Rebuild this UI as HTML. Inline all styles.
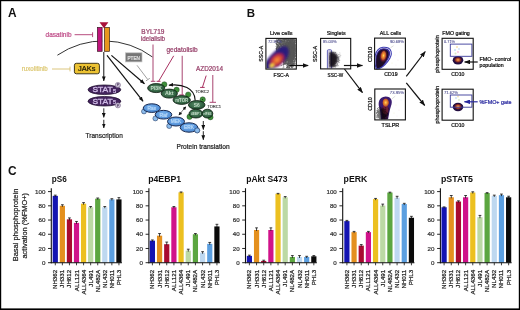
<!DOCTYPE html>
<html><head><meta charset="utf-8"><style>
html,body{margin:0;padding:0;background:#fff;}
body{width:520px;height:310px;overflow:hidden;font-family:"Liberation Sans",sans-serif;}
svg{display:block;will-change:transform;}
</style></head><body>
<svg width="520" height="310" viewBox="0 0 520 310"><defs><marker id="ah" viewBox="0 0 10 10" refX="9" refY="5" markerWidth="4" markerHeight="4" orient="auto-start-reverse"><path d="M0,0 L10,5 L0,10 Z" fill="#111"/></marker><marker id="ahs" viewBox="0 0 10 10" refX="9" refY="5" markerWidth="3.4" markerHeight="3.4" orient="auto-start-reverse"><path d="M0,0 L10,5 L0,10 Z" fill="#111"/></marker><marker id="af" markerUnits="userSpaceOnUse" viewBox="0 0 6 4.6" refX="5.6" refY="2.3" markerWidth="6" markerHeight="4.6" orient="auto-start-reverse"><path d="M0,0 L6,2.3 L0,4.6 Z" fill="#111"/></marker><marker id="afb" markerUnits="userSpaceOnUse" viewBox="0 0 6 4.6" refX="5.6" refY="2.3" markerWidth="6" markerHeight="4.6" orient="auto-start-reverse"><path d="M0,0 L6,2.3 L0,4.6 Z" fill="#2a2aa0"/></marker><marker id="aa" markerUnits="userSpaceOnUse" viewBox="0 0 4.8 3.8" refX="4.5" refY="1.9" markerWidth="4.8" markerHeight="3.8" orient="auto-start-reverse"><path d="M0,0 L4.8,1.9 L0,3.8 Z" fill="#111"/></marker><marker id="ahb" viewBox="0 0 10 10" refX="9" refY="5" markerWidth="4" markerHeight="4" orient="auto-start-reverse"><path d="M0,0 L10,5 L0,10 Z" fill="#2a2aa0"/></marker><radialGradient id="heat"><stop offset="0" stop-color="#ffd860"/><stop offset="0.3" stop-color="#f08a28"/><stop offset="0.6" stop-color="#b02848"/><stop offset="0.85" stop-color="#4a1a6a"/><stop offset="1" stop-color="#3a1a7a" stop-opacity="0"/></radialGradient><radialGradient id="heatL"><stop offset="0" stop-color="#f8a040"/><stop offset="0.35" stop-color="#e86030"/><stop offset="0.7" stop-color="#b02848"/><stop offset="0.92" stop-color="#5a1a6a"/><stop offset="1" stop-color="#3a1a7a" stop-opacity="0"/></radialGradient><radialGradient id="haloR"><stop offset="0" stop-color="#c05a28"/><stop offset="0.6" stop-color="#7a2430"/><stop offset="1" stop-color="#2a0a2a" stop-opacity="0"/></radialGradient><radialGradient id="heatC"><stop offset="0" stop-color="#ffd860"/><stop offset="0.35" stop-color="#f29434"/><stop offset="0.75" stop-color="#c45a2a"/><stop offset="1" stop-color="#9a3a2a" stop-opacity="0"/></radialGradient><radialGradient id="heat2"><stop offset="0" stop-color="#f8b060"/><stop offset="0.3" stop-color="#d06a30"/><stop offset="0.65" stop-color="#7a2428"/><stop offset="1" stop-color="#3a0e30" stop-opacity="0"/></radialGradient><radialGradient id="purp"><stop offset="0" stop-color="#4a1a90"/><stop offset="0.7" stop-color="#3a2aa0" stop-opacity="0.85"/><stop offset="1" stop-color="#3a2aa0" stop-opacity="0"/></radialGradient><radialGradient id="bgrad" cx="0.45" cy="0.4"><stop offset="0" stop-color="#7cb4ec"/><stop offset="1" stop-color="#5290d8"/></radialGradient><radialGradient id="ggrad" cx="0.45" cy="0.45"><stop offset="0" stop-color="#5a8c6a"/><stop offset="1" stop-color="#2a5a3a"/></radialGradient><filter id="bl" x="-50%" y="-50%" width="200%" height="200%"><feGaussianBlur stdDeviation="0.6"/></filter><filter id="bl2" x="-50%" y="-50%" width="200%" height="200%"><feGaussianBlur stdDeviation="0.9"/></filter></defs>
<rect x="0" y="0" width="520" height="1.2" fill="#000"/><rect x="0" y="0" width="1.2" height="310" fill="#000"/><rect x="518.8" y="0" width="1.2" height="310" fill="#000"/><rect x="0" y="308.4" width="520" height="1.6" fill="#000"/>
<text x="8.0" y="16.7" font-size="12.2" font-weight="bold" fill="#111" text-anchor="start" textLength="8.6" lengthAdjust="spacingAndGlyphs" font-family="Liberation Sans, sans-serif">A</text>
<text x="246.8" y="16.9" font-size="11.8" font-weight="bold" fill="#111" text-anchor="start" textLength="8.3" lengthAdjust="spacingAndGlyphs" font-family="Liberation Sans, sans-serif">B</text>
<text x="8.1" y="175.4" font-size="12.8" font-weight="bold" fill="#111" text-anchor="start" textLength="8.6" lengthAdjust="spacingAndGlyphs" font-family="Liberation Sans, sans-serif">C</text>
<path d="M57.4,55.2 A82,82 0 0 1 152.5,57" fill="none" stroke="#333" stroke-width="1"/>
<rect x="102.2" y="27.5" width="2.2" height="23.8" fill="#fff"/>
<rect x="97.5" y="27.5" width="4.6" height="23.8" fill="#c0147c" stroke="#3a1020" stroke-width="0.7"/>
<rect x="104.5" y="27.5" width="5" height="23.8" fill="#e8961e" stroke="#3a2010" stroke-width="0.7"/>
<path d="M99.5,22.2 L108.4,22.2 L104,28.2 Z" fill="#a8123a"/>
<text x="45.6" y="37" font-size="6.4" fill="#c0508a" stroke="#c0508a" stroke-width="0.22" text-anchor="start" textLength="25.9" lengthAdjust="spacingAndGlyphs" font-family="Liberation Sans, sans-serif">dasatinib</text>
<line x1="74.6" y1="34.7" x2="92.6" y2="34.7" stroke="#b03a72" stroke-width="0.9"/>
<line x1="92.6" y1="32.3" x2="92.6" y2="37.1" stroke="#b03a72" stroke-width="0.9"/>
<text x="21.8" y="71" font-size="6.4" fill="#ddc874" stroke="#ddc874" stroke-width="0.22" text-anchor="start" textLength="26" lengthAdjust="spacingAndGlyphs" font-family="Liberation Sans, sans-serif">ruxolitinib</text>
<line x1="52" y1="69" x2="70" y2="69" stroke="#d8c070" stroke-width="0.9"/>
<line x1="70" y1="66.6" x2="70" y2="71.4" stroke="#d8c070" stroke-width="0.9"/>
<rect x="74.4" y="63.3" width="25" height="10.5" rx="2" fill="#ecc232" stroke="#2a2410" stroke-width="0.9"/>
<text x="78.1" y="71.2" font-size="7.4" fill="#1a1400" stroke="#1a1400" stroke-width="0.22" text-anchor="start" textLength="17.3" lengthAdjust="spacingAndGlyphs" font-family="Liberation Sans, sans-serif">JAKs</text>
<line x1="103.8" y1="52" x2="103.8" y2="80.9" stroke="#111" stroke-width="1" marker-end="url(#aa)"/>
<line x1="111.4" y1="55.4" x2="144.5" y2="83.7" stroke="#111" stroke-width="1.2" marker-end="url(#aa)"/>
<line x1="107" y1="55.4" x2="143.1" y2="101.3" stroke="#111" stroke-width="1.2" marker-end="url(#aa)"/>
<ellipse cx="104.4" cy="89.75" rx="16.4" ry="4.8" fill="#44245e" stroke="#1a0a28" stroke-width="0.7"/>
<text x="92.4" y="92.45" font-size="7.4" fill="#d0bce6" stroke="#d0bce6" stroke-width="0.35" text-anchor="start" textLength="20.3" lengthAdjust="spacingAndGlyphs" font-family="Liberation Sans, sans-serif">STAT</text>
<text x="113" y="92.95" font-size="5.4" fill="#d0bce6" stroke="#d0bce6" stroke-width="0.25" text-anchor="start" textLength="3.2" lengthAdjust="spacingAndGlyphs" font-family="Liberation Sans, sans-serif">5</text>
<circle cx="117.9" cy="85" r="2.6" fill="#c8bcd4" stroke="#6a5a7a" stroke-width="0.5"/>
<text x="117.9" y="86.4" font-size="3.8" fill="#4a3a5a" stroke="#4a3a5a" stroke-width="0.08" text-anchor="middle" font-family="Liberation Sans, sans-serif">P</text>
<ellipse cx="104.4" cy="101.25" rx="16.4" ry="4.8" fill="#44245e" stroke="#1a0a28" stroke-width="0.7"/>
<text x="92.4" y="103.95" font-size="7.4" fill="#d0bce6" stroke="#d0bce6" stroke-width="0.35" text-anchor="start" textLength="20.3" lengthAdjust="spacingAndGlyphs" font-family="Liberation Sans, sans-serif">STAT</text>
<text x="113" y="104.45" font-size="5.4" fill="#d0bce6" stroke="#d0bce6" stroke-width="0.25" text-anchor="start" textLength="3.2" lengthAdjust="spacingAndGlyphs" font-family="Liberation Sans, sans-serif">5</text>
<circle cx="117.9" cy="105.3" r="2.6" fill="#c8bcd4" stroke="#6a5a7a" stroke-width="0.5"/>
<text x="117.9" y="106.7" font-size="3.8" fill="#4a3a5a" stroke="#4a3a5a" stroke-width="0.08" text-anchor="middle" font-family="Liberation Sans, sans-serif">P</text>
<line x1="103.8" y1="108.3" x2="103.8" y2="117.4" stroke="#111" stroke-width="0.9" marker-end="url(#aa)"/>
<line x1="103.8" y1="119.8" x2="103.8" y2="128" stroke="#111" stroke-width="0.9" marker-end="url(#aa)"/>
<text x="85.6" y="137.6" font-size="7.2" fill="#222" stroke="#222" stroke-width="0.22" text-anchor="start" textLength="37.2" lengthAdjust="spacingAndGlyphs" font-family="Liberation Sans, sans-serif">Transcription</text>
<rect x="125.4" y="52.8" width="16.6" height="9.1" fill="#767676" stroke="#c4c4c4" stroke-width="0.7"/>
<text x="127.5" y="59.7" font-size="5.6" fill="#e8e8e8" stroke="#e8e8e8" stroke-width="0.22" text-anchor="start" textLength="12.4" lengthAdjust="spacingAndGlyphs" font-family="Liberation Sans, sans-serif">PTEN</text>
<line x1="137" y1="65.3" x2="147.8" y2="79.6" stroke="#a0a0a0" stroke-width="1"/>
<line x1="145.9" y1="80.9" x2="149.8" y2="78.3" stroke="#a0a0a0" stroke-width="1"/>
<text x="141.3" y="33.9" font-size="6.6" fill="#963e68" stroke="#963e68" stroke-width="0.22" text-anchor="start" textLength="23.2" lengthAdjust="spacingAndGlyphs" font-family="Liberation Sans, sans-serif">BYL719</text>
<text x="140.9" y="41" font-size="6.6" fill="#963e68" stroke="#963e68" stroke-width="0.22" text-anchor="start" textLength="24.2" lengthAdjust="spacingAndGlyphs" font-family="Liberation Sans, sans-serif">idelalisib</text>
<line x1="153" y1="44.5" x2="153" y2="81.3" stroke="#a84470" stroke-width="1"/>
<line x1="150.8" y1="81.3" x2="155.4" y2="81.3" stroke="#a84470" stroke-width="1"/>
<text x="166.5" y="51.8" font-size="6.6" fill="#963e68" stroke="#963e68" stroke-width="0.22" text-anchor="start" textLength="31.1" lengthAdjust="spacingAndGlyphs" font-family="Liberation Sans, sans-serif">gedatolisib</text>
<line x1="173.7" y1="55.8" x2="158.6" y2="81.3" stroke="#a83060" stroke-width="1"/>
<line x1="156.6" y1="81.3" x2="160.5" y2="81.3" stroke="#a83060" stroke-width="1"/>
<line x1="182.2" y1="55.8" x2="182.2" y2="94.9" stroke="#a84470" stroke-width="1"/>
<line x1="179.3" y1="94.9" x2="183.9" y2="94.9" stroke="#a84470" stroke-width="1"/>
<text x="196" y="71" font-size="6.6" fill="#963e68" stroke="#963e68" stroke-width="0.22" text-anchor="start" textLength="27" lengthAdjust="spacingAndGlyphs" font-family="Liberation Sans, sans-serif">AZD2014</text>
<line x1="206.2" y1="75.6" x2="202.4" y2="87.4" stroke="#a83060" stroke-width="1"/>
<line x1="200.1" y1="87.4" x2="204.7" y2="87.4" stroke="#a83060" stroke-width="1"/>
<line x1="212.8" y1="75" x2="212.8" y2="102.3" stroke="#a84470" stroke-width="1"/>
<line x1="209.6" y1="102.3" x2="216" y2="102.3" stroke="#a84470" stroke-width="1"/>
<text x="194.9" y="92.8" font-size="3.8" fill="#222" stroke="#222" stroke-width="0.08" text-anchor="start" textLength="14.2" lengthAdjust="spacingAndGlyphs" font-family="Liberation Sans, sans-serif">TORC2</text>
<text x="207.2" y="107.7" font-size="3.8" fill="#222" stroke="#222" stroke-width="0.08" text-anchor="start" textLength="14" lengthAdjust="spacingAndGlyphs" font-family="Liberation Sans, sans-serif">TORC1</text>
<path d="M195.2,100.5 C195,88 182,83.5 168.8,85.3" fill="none" stroke="#111" stroke-width="1.1" marker-end="url(#aa)"/>
<circle cx="164.3" cy="84.4" r="2.7" fill="#3e8e3a" stroke="#1e3a20" stroke-width="0.4"/>
<ellipse cx="156.2" cy="88.1" rx="8.6" ry="4.5" fill="url(#ggrad)" stroke="#0a1a0e" stroke-width="0.8"/>
<text x="156.2" y="89.972" font-size="5.2" font-weight="bold" fill="#c4dcc8" text-anchor="middle" textLength="11.4" lengthAdjust="spacingAndGlyphs" font-family="Liberation Sans, sans-serif">PI3K</text>
<circle cx="176.6" cy="89.8" r="2.7" fill="#3e8e3a" stroke="#1e3a20" stroke-width="0.4"/>
<ellipse cx="169.3" cy="93.6" rx="8.1" ry="4.5" fill="url(#ggrad)" stroke="#0a1a0e" stroke-width="0.8"/>
<text x="169.3" y="95.472" font-size="5.2" font-weight="bold" fill="#c4dcc8" text-anchor="middle" textLength="8.5" lengthAdjust="spacingAndGlyphs" font-family="Liberation Sans, sans-serif">Akt</text>
<circle cx="188.2" cy="94.6" r="2.7" fill="#3e8e3a" stroke="#1e3a20" stroke-width="0.4"/>
<ellipse cx="181.7" cy="100" rx="8.7" ry="4.3999999999999995" fill="url(#ggrad)" stroke="#0a1a0e" stroke-width="0.8"/>
<text x="181.7" y="101.872" font-size="5.2" font-weight="bold" fill="#c4dcc8" text-anchor="middle" textLength="13" lengthAdjust="spacingAndGlyphs" font-family="Liberation Sans, sans-serif">mTOR</text>
<circle cx="189.6" cy="116.8" r="2.7" fill="#3e8e3a" stroke="#1e3a20" stroke-width="0.4"/>
<circle cx="210.4" cy="117.2" r="2.7" fill="#3e8e3a" stroke="#1e3a20" stroke-width="0.4"/>
<circle cx="202.7" cy="99.5" r="2.7" fill="#3e8e3a" stroke="#1e3a20" stroke-width="0.4"/>
<ellipse cx="202.5" cy="99.6" rx="0.01" ry="0.31" fill="url(#ggrad)" stroke="#0a1a0e" stroke-width="0.8"/>
<text x="202.5" y="99.96" font-size="1" font-weight="bold" fill="#c4dcc8" text-anchor="middle" font-family="Liberation Sans, sans-serif"></text>
<ellipse cx="196.7" cy="104.9" rx="8.3" ry="4.3" fill="url(#ggrad)" stroke="#0a1a0e" stroke-width="0.8"/>
<text x="196.7" y="106.772" font-size="5.2" font-weight="bold" fill="#c4dcc8" text-anchor="middle" textLength="6" lengthAdjust="spacingAndGlyphs" font-family="Liberation Sans, sans-serif">S6</text>
<ellipse cx="195.9" cy="113.6" rx="6.9" ry="4.3999999999999995" fill="url(#ggrad)" stroke="#0a1a0e" stroke-width="0.8"/>
<text x="195.9" y="114.716" font-size="3.1" font-weight="bold" fill="#c4dcc8" text-anchor="middle" textLength="10" lengthAdjust="spacingAndGlyphs" font-family="Liberation Sans, sans-serif">4EBP1</text>
<ellipse cx="207.4" cy="113.6" rx="5.4" ry="4.3999999999999995" fill="url(#ggrad)" stroke="#0a1a0e" stroke-width="0.8"/>
<text x="207.4" y="114.716" font-size="3.1" font-weight="bold" fill="#c4dcc8" text-anchor="middle" textLength="8.2" lengthAdjust="spacingAndGlyphs" font-family="Liberation Sans, sans-serif">eIF4E</text>
<circle cx="144" cy="111.4" r="2.5" fill="#8cbcec" stroke="#18284e" stroke-width="0.5"/>
<ellipse cx="151.8" cy="108.1" rx="8.6" ry="4.3" fill="url(#bgrad)" stroke="#18284e" stroke-width="1"/>
<text x="151.8" y="110.0" font-size="5.2" fill="#b8d8f8" stroke="#b8d8f8" stroke-width="0.22" text-anchor="middle" textLength="8.5" lengthAdjust="spacingAndGlyphs" font-family="Liberation Sans, sans-serif">Ras</text>
<circle cx="155.4" cy="118.4" r="2.5" fill="#8cbcec" stroke="#18284e" stroke-width="0.5"/>
<ellipse cx="163.5" cy="114.7" rx="8.3" ry="4.35" fill="url(#bgrad)" stroke="#18284e" stroke-width="1"/>
<text x="163.5" y="116.60000000000001" font-size="5.2" fill="#b8d8f8" stroke="#b8d8f8" stroke-width="0.22" text-anchor="middle" textLength="8" lengthAdjust="spacingAndGlyphs" font-family="Liberation Sans, sans-serif">Raf</text>
<circle cx="169.2" cy="126" r="2.5" fill="#8cbcec" stroke="#18284e" stroke-width="0.5"/>
<ellipse cx="176" cy="121.5" rx="8.5" ry="4.5" fill="url(#bgrad)" stroke="#18284e" stroke-width="1"/>
<text x="176" y="123.4" font-size="5.2" fill="#b8d8f8" stroke="#b8d8f8" stroke-width="0.22" text-anchor="middle" textLength="10.5" lengthAdjust="spacingAndGlyphs" font-family="Liberation Sans, sans-serif">MEK</text>
<circle cx="197.2" cy="130.4" r="2.5" fill="#8cbcec" stroke="#18284e" stroke-width="0.5"/>
<ellipse cx="189" cy="127.5" rx="8.8" ry="4.7" fill="url(#bgrad)" stroke="#18284e" stroke-width="1"/>
<text x="189" y="129.4" font-size="5.2" fill="#b8d8f8" stroke="#b8d8f8" stroke-width="0.22" text-anchor="middle" textLength="10" lengthAdjust="spacingAndGlyphs" font-family="Liberation Sans, sans-serif">ERK</text>
<circle cx="197.2" cy="130.4" r="2.5" fill="#8cbcec" stroke="#18284e" stroke-width="0.5"/>
<line x1="178.9" y1="115.1" x2="185.8" y2="106.7" stroke="#111" stroke-width="1" stroke-dasharray="1.4,0.9" marker-start="url(#ahs)" marker-end="url(#ahs)"/>
<line x1="203.3" y1="121" x2="203.3" y2="129.6" stroke="#111" stroke-width="0.9" marker-end="url(#aa)"/>
<line x1="203.3" y1="131.2" x2="203.3" y2="139.8" stroke="#111" stroke-width="0.9" marker-end="url(#aa)"/>
<text x="176.5" y="148.6" font-size="6.9" fill="#222" stroke="#222" stroke-width="0.22" text-anchor="start" textLength="53.1" lengthAdjust="spacingAndGlyphs" font-family="Liberation Sans, sans-serif">Protein translation</text>
<clipPath id="c1"><rect x="266.4" y="38.9" width="29.400000000000034" height="29.699999999999996"/></clipPath>
<text x="270" y="35.1" font-size="5.3" fill="#111" stroke="#111" stroke-width="0.22" text-anchor="start" textLength="22.6" lengthAdjust="spacingAndGlyphs" font-family="Liberation Sans, sans-serif">Live cells</text>
<text transform="translate(262.8,53.8) rotate(-90)" font-size="5.1" fill="#111" stroke="#111" stroke-width="0.22" text-anchor="middle" textLength="15.8" lengthAdjust="spacingAndGlyphs" font-family="Liberation Sans, sans-serif">SSC-A</text>
<text x="273.5" y="76.6" font-size="5.2" fill="#111" stroke="#111" stroke-width="0.22" text-anchor="start" textLength="15.4" lengthAdjust="spacingAndGlyphs" font-family="Liberation Sans, sans-serif">FSC-A</text>
<g clip-path="url(#c1)">
<g fill="#111" opacity="0.7"><circle cx="285.6" cy="50.8" r="0.55"/><circle cx="288.4" cy="50.8" r="0.55"/><circle cx="291.2" cy="48.2" r="0.55"/><circle cx="294.2" cy="52.3" r="0.55"/><circle cx="285.5" cy="47.3" r="0.55"/><circle cx="283.9" cy="42.7" r="0.55"/><circle cx="289.2" cy="42.8" r="0.55"/><circle cx="289.8" cy="43.8" r="0.55"/><circle cx="287.8" cy="39.4" r="0.55"/><circle cx="293.2" cy="49.4" r="0.55"/><circle cx="284.9" cy="51.2" r="0.55"/><circle cx="277.9" cy="40.8" r="0.55"/><circle cx="293.9" cy="51.0" r="0.55"/><circle cx="287.9" cy="59.8" r="0.55"/><circle cx="286.2" cy="59.4" r="0.55"/><circle cx="294.7" cy="46.9" r="0.55"/><circle cx="293.1" cy="51.9" r="0.55"/><circle cx="293.8" cy="63.5" r="0.55"/><circle cx="294.1" cy="46.4" r="0.55"/><circle cx="291.4" cy="64.4" r="0.55"/><circle cx="289.2" cy="54.8" r="0.55"/><circle cx="284.2" cy="41.0" r="0.55"/><circle cx="290.5" cy="39.4" r="0.55"/><circle cx="288.5" cy="51.2" r="0.55"/><circle cx="285.3" cy="64.2" r="0.55"/><circle cx="286.1" cy="52.0" r="0.55"/><circle cx="294.5" cy="56.6" r="0.55"/><circle cx="290.9" cy="58.8" r="0.55"/><circle cx="290.2" cy="54.1" r="0.55"/><circle cx="282.3" cy="51.5" r="0.55"/><circle cx="283.6" cy="45.0" r="0.55"/><circle cx="286.0" cy="45.6" r="0.55"/><circle cx="282.2" cy="41.9" r="0.55"/><circle cx="283.4" cy="56.8" r="0.55"/><circle cx="288.9" cy="52.2" r="0.55"/><circle cx="288.8" cy="51.9" r="0.55"/><circle cx="288.5" cy="50.8" r="0.55"/><circle cx="283.3" cy="54.6" r="0.55"/><circle cx="287.7" cy="42.2" r="0.55"/><circle cx="295.4" cy="56.1" r="0.55"/><circle cx="281.0" cy="44.9" r="0.55"/><circle cx="287.8" cy="58.1" r="0.55"/><circle cx="285.7" cy="58.9" r="0.55"/><circle cx="284.3" cy="60.3" r="0.55"/><circle cx="283.3" cy="48.0" r="0.55"/><circle cx="290.8" cy="64.1" r="0.55"/><circle cx="291.2" cy="58.9" r="0.55"/><circle cx="292.5" cy="55.9" r="0.55"/><circle cx="291.8" cy="46.5" r="0.55"/><circle cx="279.4" cy="43.4" r="0.55"/><circle cx="292.9" cy="47.8" r="0.55"/><circle cx="293.2" cy="58.0" r="0.55"/><circle cx="292.3" cy="40.9" r="0.55"/><circle cx="288.1" cy="64.1" r="0.55"/><circle cx="290.8" cy="46.9" r="0.55"/><circle cx="287.6" cy="63.7" r="0.55"/><circle cx="287.0" cy="58.1" r="0.55"/><circle cx="281.5" cy="60.4" r="0.55"/><circle cx="294.5" cy="41.9" r="0.55"/><circle cx="292.7" cy="44.3" r="0.55"/><circle cx="288.6" cy="58.3" r="0.55"/><circle cx="294.6" cy="56.1" r="0.55"/><circle cx="290.0" cy="50.7" r="0.55"/><circle cx="289.9" cy="51.0" r="0.55"/><circle cx="294.0" cy="46.5" r="0.55"/><circle cx="289.4" cy="48.5" r="0.55"/><circle cx="286.8" cy="45.7" r="0.55"/><circle cx="294.9" cy="49.2" r="0.55"/><circle cx="289.4" cy="65.4" r="0.55"/><circle cx="290.3" cy="46.6" r="0.55"/><circle cx="281.9" cy="49.9" r="0.55"/><circle cx="290.4" cy="50.9" r="0.55"/><circle cx="288.9" cy="60.4" r="0.55"/><circle cx="282.3" cy="54.4" r="0.55"/><circle cx="291.6" cy="53.6" r="0.55"/><circle cx="277.7" cy="45.5" r="0.55"/><circle cx="288.0" cy="58.1" r="0.55"/><circle cx="286.1" cy="49.3" r="0.55"/><circle cx="288.5" cy="55.4" r="0.55"/><circle cx="288.6" cy="46.3" r="0.55"/><circle cx="291.3" cy="58.2" r="0.55"/><circle cx="290.3" cy="46.3" r="0.55"/><circle cx="288.5" cy="44.6" r="0.55"/><circle cx="283.0" cy="52.7" r="0.55"/><circle cx="287.9" cy="45.7" r="0.55"/><circle cx="283.2" cy="50.3" r="0.55"/><circle cx="285.6" cy="55.6" r="0.55"/><circle cx="294.7" cy="43.9" r="0.55"/><circle cx="291.8" cy="42.4" r="0.55"/><circle cx="295.0" cy="60.8" r="0.55"/><circle cx="295.2" cy="45.0" r="0.55"/><circle cx="288.9" cy="44.2" r="0.55"/><circle cx="289.1" cy="52.2" r="0.55"/><circle cx="289.7" cy="50.6" r="0.55"/><circle cx="293.0" cy="44.4" r="0.55"/><circle cx="295.0" cy="46.5" r="0.55"/><circle cx="289.1" cy="49.5" r="0.55"/><circle cx="290.9" cy="51.6" r="0.55"/><circle cx="282.2" cy="47.7" r="0.55"/><circle cx="290.9" cy="57.0" r="0.55"/><circle cx="289.6" cy="46.0" r="0.55"/><circle cx="286.4" cy="56.2" r="0.55"/><circle cx="293.8" cy="56.3" r="0.55"/><circle cx="284.3" cy="48.7" r="0.55"/><circle cx="286.9" cy="42.3" r="0.55"/><circle cx="284.7" cy="51.7" r="0.55"/><circle cx="291.4" cy="50.3" r="0.55"/><circle cx="283.2" cy="56.1" r="0.55"/><circle cx="289.2" cy="56.8" r="0.55"/><circle cx="288.3" cy="56.8" r="0.55"/><circle cx="292.9" cy="50.9" r="0.55"/><circle cx="282.5" cy="59.1" r="0.55"/><circle cx="289.2" cy="57.0" r="0.55"/><circle cx="285.4" cy="53.3" r="0.55"/><circle cx="287.1" cy="56.9" r="0.55"/><circle cx="285.7" cy="48.2" r="0.55"/><circle cx="292.4" cy="46.2" r="0.55"/><circle cx="288.0" cy="39.9" r="0.55"/><circle cx="289.9" cy="57.2" r="0.55"/><circle cx="280.8" cy="41.5" r="0.55"/><circle cx="292.0" cy="61.9" r="0.55"/><circle cx="294.0" cy="42.3" r="0.55"/><circle cx="282.3" cy="44.5" r="0.55"/><circle cx="291.1" cy="54.0" r="0.55"/><circle cx="281.8" cy="43.6" r="0.55"/><circle cx="289.3" cy="51.8" r="0.55"/><circle cx="285.0" cy="55.4" r="0.55"/><circle cx="280.5" cy="44.2" r="0.55"/><circle cx="287.5" cy="51.6" r="0.55"/><circle cx="288.5" cy="49.8" r="0.55"/><circle cx="294.2" cy="40.3" r="0.55"/><circle cx="283.5" cy="49.0" r="0.55"/><circle cx="287.7" cy="61.9" r="0.55"/><circle cx="290.6" cy="47.7" r="0.55"/><circle cx="293.2" cy="57.5" r="0.55"/><circle cx="288.2" cy="42.9" r="0.55"/><circle cx="292.0" cy="61.0" r="0.55"/><circle cx="293.3" cy="64.8" r="0.55"/><circle cx="286.2" cy="61.5" r="0.55"/><circle cx="283.8" cy="49.3" r="0.55"/><circle cx="288.5" cy="56.2" r="0.55"/><circle cx="288.0" cy="41.9" r="0.55"/><circle cx="289.2" cy="46.4" r="0.55"/><circle cx="283.2" cy="61.3" r="0.55"/><circle cx="286.3" cy="52.4" r="0.55"/><circle cx="287.2" cy="57.1" r="0.55"/><circle cx="282.5" cy="49.6" r="0.55"/><circle cx="290.7" cy="49.9" r="0.55"/><circle cx="291.2" cy="54.4" r="0.55"/><circle cx="289.1" cy="48.4" r="0.55"/><circle cx="283.5" cy="57.9" r="0.55"/><circle cx="291.0" cy="46.7" r="0.55"/><circle cx="287.3" cy="55.0" r="0.55"/><circle cx="286.9" cy="50.7" r="0.55"/><circle cx="289.7" cy="50.9" r="0.55"/><circle cx="293.8" cy="51.3" r="0.55"/><circle cx="284.2" cy="49.7" r="0.55"/><circle cx="292.6" cy="46.7" r="0.55"/><circle cx="289.5" cy="52.1" r="0.55"/><circle cx="286.9" cy="46.1" r="0.55"/><circle cx="286.8" cy="53.5" r="0.55"/><circle cx="294.3" cy="54.3" r="0.55"/><circle cx="284.4" cy="55.4" r="0.55"/><circle cx="293.8" cy="40.8" r="0.55"/><circle cx="288.5" cy="51.0" r="0.55"/><circle cx="289.7" cy="55.1" r="0.55"/><circle cx="292.9" cy="50.0" r="0.55"/><circle cx="289.9" cy="40.7" r="0.55"/><circle cx="288.0" cy="51.1" r="0.55"/><circle cx="289.3" cy="46.5" r="0.55"/><circle cx="294.6" cy="50.2" r="0.55"/><circle cx="289.7" cy="45.0" r="0.55"/><circle cx="291.1" cy="53.2" r="0.55"/><circle cx="292.1" cy="59.0" r="0.55"/><circle cx="285.2" cy="50.9" r="0.55"/><circle cx="287.9" cy="59.3" r="0.55"/><circle cx="287.3" cy="54.9" r="0.55"/><circle cx="290.4" cy="43.8" r="0.55"/><circle cx="283.9" cy="50.9" r="0.55"/><circle cx="292.4" cy="52.6" r="0.55"/><circle cx="292.4" cy="58.2" r="0.55"/><circle cx="290.2" cy="56.3" r="0.55"/><circle cx="290.0" cy="53.8" r="0.55"/><circle cx="291.9" cy="59.1" r="0.55"/><circle cx="294.0" cy="53.5" r="0.55"/><circle cx="289.1" cy="50.5" r="0.55"/><circle cx="288.7" cy="53.4" r="0.55"/><circle cx="280.4" cy="40.2" r="0.55"/><circle cx="292.5" cy="60.3" r="0.55"/><circle cx="290.5" cy="54.0" r="0.55"/><circle cx="288.3" cy="63.8" r="0.55"/><circle cx="292.7" cy="50.3" r="0.55"/><circle cx="288.7" cy="64.4" r="0.55"/><circle cx="288.5" cy="54.9" r="0.55"/><circle cx="295.0" cy="50.8" r="0.55"/><circle cx="291.3" cy="53.0" r="0.55"/><circle cx="290.9" cy="53.0" r="0.55"/><circle cx="291.8" cy="49.9" r="0.55"/><circle cx="285.5" cy="49.4" r="0.55"/><circle cx="294.8" cy="39.4" r="0.55"/><circle cx="281.5" cy="42.7" r="0.55"/><circle cx="287.3" cy="64.7" r="0.55"/><circle cx="286.6" cy="56.2" r="0.55"/><circle cx="291.8" cy="50.8" r="0.55"/><circle cx="288.7" cy="40.2" r="0.55"/><circle cx="293.0" cy="49.6" r="0.55"/><circle cx="290.4" cy="63.7" r="0.55"/><circle cx="289.2" cy="56.4" r="0.55"/><circle cx="284.3" cy="46.2" r="0.55"/><circle cx="287.1" cy="52.8" r="0.55"/><circle cx="294.2" cy="53.5" r="0.55"/><circle cx="288.7" cy="49.9" r="0.55"/><circle cx="292.8" cy="44.7" r="0.55"/><circle cx="293.4" cy="44.8" r="0.55"/><circle cx="290.7" cy="43.3" r="0.55"/><circle cx="293.3" cy="55.4" r="0.55"/><circle cx="278.1" cy="46.4" r="0.55"/><circle cx="294.8" cy="57.1" r="0.55"/><circle cx="291.8" cy="53.6" r="0.55"/><circle cx="288.9" cy="52.0" r="0.55"/><circle cx="292.4" cy="51.6" r="0.55"/><circle cx="283.1" cy="58.0" r="0.55"/><circle cx="290.7" cy="44.7" r="0.55"/><circle cx="290.2" cy="54.9" r="0.55"/><circle cx="278.3" cy="39.3" r="0.55"/><circle cx="280.0" cy="50.6" r="0.55"/><circle cx="286.6" cy="53.5" r="0.55"/><circle cx="288.3" cy="47.3" r="0.55"/><circle cx="292.2" cy="48.2" r="0.55"/><circle cx="287.6" cy="53.6" r="0.55"/><circle cx="287.9" cy="49.6" r="0.55"/><circle cx="284.9" cy="50.7" r="0.55"/><circle cx="292.9" cy="55.3" r="0.55"/><circle cx="294.3" cy="56.1" r="0.55"/><circle cx="284.1" cy="56.9" r="0.55"/><circle cx="290.4" cy="58.4" r="0.55"/><circle cx="282.7" cy="44.6" r="0.55"/><circle cx="290.0" cy="56.3" r="0.55"/><circle cx="290.5" cy="50.4" r="0.55"/><circle cx="288.2" cy="51.1" r="0.55"/><circle cx="280.6" cy="60.2" r="0.55"/><circle cx="295.0" cy="45.3" r="0.55"/><circle cx="277.5" cy="64.8" r="0.55"/><circle cx="281.8" cy="51.1" r="0.55"/><circle cx="295.0" cy="58.4" r="0.55"/><circle cx="283.5" cy="51.4" r="0.55"/><circle cx="289.4" cy="47.3" r="0.55"/><circle cx="285.6" cy="61.4" r="0.55"/><circle cx="289.0" cy="55.5" r="0.55"/><circle cx="288.1" cy="53.9" r="0.55"/><circle cx="290.0" cy="42.4" r="0.55"/><circle cx="291.4" cy="57.3" r="0.55"/><circle cx="284.3" cy="51.2" r="0.55"/><circle cx="291.6" cy="48.2" r="0.55"/><circle cx="295.3" cy="44.8" r="0.55"/><circle cx="289.9" cy="64.3" r="0.55"/><circle cx="293.0" cy="58.4" r="0.55"/><circle cx="290.2" cy="54.3" r="0.55"/><circle cx="290.1" cy="45.3" r="0.55"/><circle cx="291.7" cy="51.7" r="0.55"/><circle cx="289.8" cy="53.5" r="0.55"/><circle cx="288.8" cy="54.3" r="0.55"/><circle cx="292.5" cy="55.6" r="0.55"/><circle cx="290.9" cy="46.1" r="0.55"/><circle cx="293.8" cy="54.4" r="0.55"/><circle cx="285.3" cy="39.7" r="0.55"/><circle cx="280.9" cy="40.8" r="0.55"/><circle cx="290.7" cy="45.0" r="0.55"/><circle cx="287.0" cy="42.6" r="0.55"/><circle cx="295.5" cy="53.5" r="0.55"/><circle cx="294.1" cy="45.1" r="0.55"/><circle cx="285.1" cy="56.5" r="0.55"/><circle cx="292.1" cy="61.5" r="0.55"/><circle cx="286.9" cy="44.3" r="0.55"/><circle cx="282.2" cy="55.8" r="0.55"/><circle cx="291.9" cy="51.5" r="0.55"/><circle cx="285.2" cy="51.6" r="0.55"/><circle cx="292.6" cy="51.1" r="0.55"/><circle cx="294.9" cy="54.1" r="0.55"/><circle cx="286.1" cy="52.9" r="0.55"/><circle cx="291.2" cy="50.9" r="0.55"/><circle cx="286.0" cy="58.2" r="0.55"/><circle cx="295.2" cy="47.4" r="0.55"/><circle cx="291.8" cy="50.5" r="0.55"/><circle cx="291.2" cy="47.5" r="0.55"/><circle cx="286.8" cy="55.8" r="0.55"/><circle cx="289.9" cy="56.8" r="0.55"/><circle cx="282.7" cy="50.7" r="0.55"/><circle cx="288.6" cy="49.6" r="0.55"/><circle cx="289.0" cy="59.9" r="0.55"/><circle cx="288.2" cy="51.9" r="0.55"/><circle cx="291.8" cy="51.5" r="0.55"/><circle cx="279.6" cy="51.9" r="0.55"/><circle cx="288.1" cy="49.6" r="0.55"/><circle cx="289.7" cy="48.5" r="0.55"/><circle cx="293.3" cy="40.6" r="0.55"/><circle cx="294.5" cy="50.5" r="0.55"/><circle cx="292.8" cy="56.5" r="0.55"/><circle cx="281.6" cy="40.7" r="0.55"/><circle cx="292.2" cy="56.8" r="0.55"/><circle cx="277.5" cy="41.5" r="0.55"/><circle cx="283.2" cy="65.1" r="0.55"/><circle cx="288.4" cy="47.1" r="0.55"/><circle cx="285.6" cy="61.4" r="0.55"/><circle cx="285.2" cy="49.5" r="0.55"/><circle cx="284.6" cy="55.4" r="0.55"/><circle cx="280.0" cy="46.7" r="0.55"/><circle cx="293.0" cy="41.3" r="0.55"/><circle cx="292.8" cy="41.2" r="0.55"/><circle cx="289.9" cy="54.6" r="0.55"/><circle cx="284.2" cy="50.3" r="0.55"/><circle cx="289.7" cy="49.7" r="0.55"/><circle cx="287.3" cy="53.8" r="0.55"/><circle cx="287.3" cy="59.4" r="0.55"/><circle cx="287.9" cy="58.1" r="0.55"/><circle cx="292.7" cy="42.7" r="0.55"/><circle cx="281.4" cy="40.6" r="0.55"/><circle cx="289.1" cy="46.6" r="0.55"/><circle cx="284.4" cy="53.6" r="0.55"/><circle cx="288.3" cy="50.8" r="0.55"/><circle cx="293.7" cy="43.3" r="0.55"/><circle cx="292.0" cy="47.4" r="0.55"/><circle cx="283.3" cy="41.8" r="0.55"/><circle cx="292.8" cy="47.9" r="0.55"/><circle cx="290.2" cy="43.7" r="0.55"/><circle cx="285.3" cy="52.3" r="0.55"/><circle cx="284.5" cy="41.7" r="0.55"/><circle cx="291.3" cy="56.1" r="0.55"/><circle cx="287.8" cy="50.1" r="0.55"/><circle cx="288.0" cy="57.3" r="0.55"/><circle cx="280.3" cy="49.0" r="0.55"/><circle cx="288.9" cy="40.3" r="0.55"/><circle cx="294.3" cy="44.7" r="0.55"/><circle cx="280.8" cy="54.6" r="0.55"/><circle cx="292.4" cy="63.8" r="0.55"/><circle cx="290.4" cy="53.3" r="0.55"/><circle cx="288.9" cy="58.9" r="0.55"/><circle cx="284.1" cy="56.3" r="0.55"/><circle cx="287.8" cy="53.6" r="0.55"/><circle cx="289.8" cy="40.1" r="0.55"/><circle cx="294.3" cy="52.9" r="0.55"/><circle cx="284.7" cy="56.7" r="0.55"/><circle cx="280.0" cy="44.1" r="0.55"/><circle cx="288.9" cy="51.3" r="0.55"/><circle cx="286.5" cy="46.5" r="0.55"/><circle cx="290.0" cy="59.8" r="0.55"/><circle cx="286.8" cy="42.7" r="0.55"/><circle cx="289.2" cy="45.9" r="0.55"/><circle cx="286.8" cy="65.8" r="0.55"/><circle cx="283.8" cy="50.7" r="0.55"/><circle cx="290.8" cy="41.6" r="0.55"/><circle cx="286.2" cy="54.8" r="0.55"/><circle cx="291.5" cy="49.2" r="0.55"/><circle cx="294.8" cy="40.6" r="0.55"/><circle cx="283.9" cy="41.8" r="0.55"/><circle cx="294.3" cy="54.3" r="0.55"/><circle cx="294.2" cy="42.6" r="0.55"/><circle cx="286.1" cy="56.3" r="0.55"/><circle cx="289.5" cy="57.6" r="0.55"/><circle cx="288.4" cy="55.2" r="0.55"/><circle cx="284.4" cy="55.5" r="0.55"/><circle cx="288.6" cy="48.2" r="0.55"/><circle cx="287.5" cy="49.9" r="0.55"/><circle cx="285.4" cy="57.5" r="0.55"/><circle cx="286.4" cy="47.4" r="0.55"/><circle cx="291.4" cy="40.0" r="0.55"/><circle cx="286.6" cy="50.1" r="0.55"/><circle cx="289.7" cy="41.9" r="0.55"/><circle cx="285.7" cy="41.3" r="0.55"/><circle cx="285.9" cy="61.5" r="0.55"/><circle cx="293.5" cy="57.5" r="0.55"/><circle cx="285.6" cy="46.0" r="0.55"/><circle cx="284.9" cy="45.4" r="0.55"/><circle cx="290.8" cy="48.6" r="0.55"/><circle cx="289.9" cy="44.3" r="0.55"/><circle cx="289.3" cy="53.4" r="0.55"/><circle cx="289.1" cy="46.5" r="0.55"/><circle cx="286.6" cy="50.5" r="0.55"/><circle cx="285.7" cy="50.0" r="0.55"/><circle cx="286.0" cy="50.6" r="0.55"/><circle cx="291.5" cy="58.3" r="0.55"/><circle cx="284.9" cy="57.1" r="0.55"/><circle cx="294.0" cy="55.0" r="0.55"/><circle cx="287.0" cy="52.4" r="0.55"/><circle cx="280.2" cy="49.1" r="0.55"/><circle cx="286.3" cy="44.2" r="0.55"/><circle cx="288.9" cy="58.1" r="0.55"/><circle cx="278.3" cy="51.3" r="0.55"/><circle cx="286.5" cy="54.5" r="0.55"/><circle cx="279.7" cy="46.4" r="0.55"/><circle cx="290.4" cy="56.9" r="0.55"/><circle cx="291.8" cy="48.5" r="0.55"/><circle cx="278.0" cy="48.1" r="0.55"/><circle cx="290.2" cy="59.6" r="0.55"/><circle cx="282.5" cy="48.9" r="0.55"/><circle cx="287.8" cy="48.0" r="0.55"/><circle cx="283.6" cy="61.9" r="0.55"/><circle cx="283.1" cy="52.2" r="0.55"/><circle cx="290.6" cy="47.8" r="0.55"/><circle cx="285.9" cy="49.2" r="0.55"/><circle cx="292.4" cy="60.6" r="0.55"/><circle cx="289.8" cy="44.8" r="0.55"/><circle cx="293.0" cy="48.5" r="0.55"/><circle cx="294.7" cy="54.7" r="0.55"/><circle cx="292.0" cy="50.4" r="0.55"/><circle cx="289.3" cy="48.8" r="0.55"/><circle cx="286.7" cy="44.8" r="0.55"/><circle cx="293.3" cy="59.4" r="0.55"/><circle cx="290.4" cy="46.2" r="0.55"/><circle cx="295.3" cy="52.2" r="0.55"/><circle cx="289.4" cy="52.1" r="0.55"/><circle cx="288.7" cy="48.7" r="0.55"/><circle cx="285.8" cy="51.8" r="0.55"/><circle cx="278.0" cy="49.4" r="0.55"/><circle cx="291.1" cy="45.9" r="0.55"/><circle cx="288.1" cy="56.6" r="0.55"/><circle cx="290.7" cy="46.8" r="0.55"/><circle cx="287.9" cy="54.0" r="0.55"/><circle cx="284.8" cy="48.9" r="0.55"/><circle cx="289.3" cy="53.9" r="0.55"/><circle cx="288.0" cy="56.1" r="0.55"/><circle cx="288.8" cy="63.5" r="0.55"/><circle cx="285.9" cy="43.5" r="0.55"/><circle cx="286.3" cy="55.0" r="0.55"/><circle cx="290.9" cy="45.1" r="0.55"/><circle cx="294.5" cy="48.7" r="0.55"/><circle cx="287.5" cy="53.8" r="0.55"/><circle cx="279.4" cy="43.8" r="0.55"/><circle cx="278.4" cy="45.5" r="0.55"/><circle cx="289.6" cy="67.3" r="0.55"/><circle cx="294.2" cy="53.0" r="0.55"/><circle cx="287.3" cy="39.8" r="0.55"/><circle cx="277.0" cy="47.8" r="0.55"/><circle cx="286.0" cy="53.4" r="0.55"/><circle cx="293.5" cy="59.2" r="0.55"/><circle cx="290.7" cy="52.1" r="0.55"/><circle cx="279.8" cy="40.1" r="0.55"/><circle cx="282.4" cy="50.4" r="0.55"/><circle cx="288.3" cy="50.5" r="0.55"/><circle cx="278.8" cy="51.2" r="0.55"/><circle cx="295.2" cy="56.6" r="0.55"/><circle cx="284.4" cy="48.2" r="0.55"/><circle cx="285.9" cy="57.1" r="0.55"/><circle cx="293.0" cy="53.5" r="0.55"/><circle cx="289.3" cy="59.8" r="0.55"/><circle cx="285.7" cy="59.9" r="0.55"/><circle cx="294.1" cy="50.5" r="0.55"/><circle cx="288.7" cy="54.4" r="0.55"/><circle cx="284.5" cy="48.0" r="0.55"/><circle cx="290.3" cy="55.2" r="0.55"/><circle cx="286.3" cy="52.5" r="0.55"/><circle cx="287.3" cy="43.4" r="0.55"/><circle cx="285.1" cy="60.4" r="0.55"/><circle cx="290.1" cy="57.1" r="0.55"/><circle cx="284.8" cy="46.7" r="0.55"/><circle cx="295.2" cy="59.2" r="0.55"/><circle cx="285.9" cy="57.8" r="0.55"/><circle cx="290.8" cy="58.7" r="0.55"/><circle cx="295.3" cy="45.1" r="0.55"/><circle cx="291.8" cy="52.0" r="0.55"/><circle cx="291.2" cy="50.5" r="0.55"/><circle cx="292.8" cy="50.7" r="0.55"/><circle cx="294.1" cy="44.7" r="0.55"/><circle cx="291.2" cy="64.4" r="0.55"/><circle cx="287.7" cy="58.9" r="0.55"/><circle cx="281.1" cy="39.2" r="0.55"/><circle cx="282.3" cy="44.0" r="0.55"/><circle cx="281.6" cy="40.1" r="0.55"/><circle cx="280.9" cy="41.9" r="0.55"/><circle cx="280.6" cy="50.7" r="0.55"/><circle cx="288.5" cy="56.8" r="0.55"/><circle cx="285.6" cy="50.1" r="0.55"/><circle cx="287.1" cy="64.3" r="0.55"/><circle cx="291.1" cy="49.7" r="0.55"/><circle cx="289.5" cy="56.9" r="0.55"/><circle cx="287.2" cy="40.5" r="0.55"/><circle cx="287.1" cy="67.7" r="0.55"/><circle cx="292.7" cy="49.9" r="0.55"/><circle cx="286.1" cy="60.3" r="0.55"/><circle cx="289.5" cy="55.8" r="0.55"/><circle cx="291.3" cy="57.6" r="0.55"/><circle cx="287.4" cy="59.9" r="0.55"/><circle cx="287.7" cy="57.2" r="0.55"/><circle cx="290.3" cy="45.6" r="0.55"/><circle cx="287.4" cy="52.9" r="0.55"/><circle cx="292.3" cy="46.4" r="0.55"/><circle cx="281.4" cy="51.3" r="0.55"/><circle cx="286.9" cy="57.2" r="0.55"/><circle cx="284.9" cy="50.4" r="0.55"/><circle cx="285.0" cy="54.7" r="0.55"/><circle cx="291.2" cy="49.5" r="0.55"/><circle cx="289.4" cy="55.1" r="0.55"/><circle cx="293.8" cy="41.9" r="0.55"/><circle cx="295.0" cy="59.3" r="0.55"/><circle cx="289.2" cy="40.9" r="0.55"/><circle cx="289.5" cy="50.4" r="0.55"/><circle cx="289.0" cy="51.2" r="0.55"/><circle cx="289.3" cy="50.7" r="0.55"/><circle cx="292.2" cy="50.8" r="0.55"/><circle cx="289.3" cy="43.5" r="0.55"/><circle cx="289.3" cy="51.5" r="0.55"/><circle cx="278.7" cy="48.6" r="0.55"/><circle cx="287.6" cy="50.7" r="0.55"/><circle cx="284.9" cy="45.8" r="0.55"/><circle cx="293.9" cy="60.4" r="0.55"/><circle cx="291.7" cy="48.4" r="0.55"/><circle cx="294.1" cy="64.5" r="0.55"/><circle cx="285.6" cy="57.5" r="0.55"/><circle cx="287.9" cy="57.9" r="0.55"/><circle cx="290.1" cy="47.1" r="0.55"/><circle cx="280.7" cy="61.8" r="0.55"/><circle cx="289.9" cy="55.4" r="0.55"/><circle cx="286.3" cy="48.8" r="0.55"/><circle cx="289.0" cy="45.0" r="0.55"/><circle cx="284.8" cy="47.1" r="0.55"/><circle cx="284.7" cy="51.4" r="0.55"/><circle cx="279.8" cy="49.2" r="0.55"/><circle cx="290.4" cy="50.4" r="0.55"/><circle cx="283.3" cy="56.1" r="0.55"/><circle cx="289.3" cy="56.0" r="0.55"/><circle cx="289.4" cy="52.4" r="0.55"/><circle cx="292.8" cy="68.0" r="0.55"/><circle cx="286.3" cy="50.3" r="0.55"/><circle cx="291.9" cy="43.6" r="0.55"/><circle cx="285.0" cy="55.3" r="0.55"/><circle cx="290.4" cy="47.0" r="0.55"/><circle cx="285.6" cy="46.4" r="0.55"/><circle cx="292.7" cy="46.4" r="0.55"/><circle cx="294.4" cy="55.7" r="0.55"/><circle cx="285.7" cy="51.1" r="0.55"/><circle cx="291.9" cy="53.4" r="0.55"/><circle cx="292.8" cy="45.6" r="0.55"/><circle cx="288.0" cy="43.6" r="0.55"/><circle cx="289.5" cy="47.8" r="0.55"/><circle cx="278.8" cy="42.7" r="0.55"/><circle cx="294.5" cy="43.4" r="0.55"/><circle cx="292.1" cy="58.0" r="0.55"/><circle cx="294.6" cy="48.1" r="0.55"/><circle cx="292.8" cy="51.7" r="0.55"/><circle cx="291.4" cy="55.4" r="0.55"/><circle cx="295.2" cy="58.5" r="0.55"/><circle cx="294.6" cy="44.9" r="0.55"/><circle cx="290.2" cy="50.9" r="0.55"/><circle cx="286.5" cy="57.6" r="0.55"/><circle cx="294.5" cy="45.2" r="0.55"/><circle cx="289.9" cy="43.6" r="0.55"/><circle cx="289.4" cy="40.6" r="0.55"/><circle cx="285.9" cy="59.6" r="0.55"/><circle cx="289.5" cy="52.4" r="0.55"/><circle cx="286.7" cy="52.9" r="0.55"/><circle cx="278.9" cy="55.2" r="0.55"/><circle cx="287.7" cy="50.3" r="0.55"/><circle cx="279.3" cy="49.8" r="0.55"/><circle cx="291.2" cy="61.6" r="0.55"/><circle cx="289.8" cy="44.0" r="0.55"/><circle cx="283.1" cy="42.9" r="0.55"/><circle cx="289.3" cy="43.9" r="0.55"/><circle cx="284.0" cy="56.2" r="0.55"/><circle cx="291.2" cy="42.6" r="0.55"/><circle cx="288.6" cy="40.5" r="0.55"/><circle cx="291.0" cy="62.6" r="0.55"/><circle cx="285.6" cy="58.7" r="0.55"/><circle cx="285.3" cy="43.8" r="0.55"/><circle cx="278.2" cy="46.4" r="0.55"/><circle cx="289.1" cy="46.5" r="0.55"/><circle cx="276.6" cy="49.3" r="0.55"/><circle cx="286.4" cy="49.7" r="0.55"/><circle cx="293.1" cy="58.1" r="0.55"/><circle cx="289.6" cy="46.1" r="0.55"/><circle cx="293.9" cy="63.4" r="0.55"/><circle cx="289.6" cy="49.8" r="0.55"/><circle cx="276.2" cy="46.3" r="0.55"/><circle cx="293.6" cy="55.0" r="0.55"/><circle cx="288.5" cy="43.1" r="0.55"/><circle cx="283.1" cy="50.7" r="0.55"/><circle cx="289.4" cy="63.7" r="0.55"/><circle cx="281.5" cy="49.0" r="0.55"/><circle cx="285.4" cy="61.4" r="0.55"/><circle cx="287.6" cy="47.1" r="0.55"/><circle cx="278.6" cy="63.6" r="0.55"/><circle cx="276.0" cy="41.6" r="0.55"/><circle cx="290.2" cy="48.3" r="0.55"/><circle cx="289.8" cy="48.6" r="0.55"/><circle cx="285.1" cy="50.7" r="0.55"/><circle cx="280.1" cy="49.2" r="0.55"/><circle cx="289.7" cy="54.5" r="0.55"/><circle cx="286.2" cy="50.4" r="0.55"/><circle cx="279.9" cy="44.8" r="0.55"/><circle cx="284.4" cy="63.4" r="0.55"/><circle cx="291.3" cy="56.4" r="0.55"/><circle cx="288.0" cy="65.9" r="0.55"/><circle cx="293.5" cy="45.8" r="0.55"/><circle cx="283.1" cy="39.9" r="0.55"/><circle cx="288.8" cy="51.4" r="0.55"/><circle cx="291.2" cy="39.4" r="0.55"/><circle cx="292.7" cy="46.2" r="0.55"/><circle cx="290.0" cy="46.2" r="0.55"/><circle cx="291.3" cy="52.9" r="0.55"/><circle cx="287.4" cy="53.3" r="0.55"/><circle cx="287.5" cy="48.6" r="0.55"/><circle cx="280.5" cy="50.5" r="0.55"/><circle cx="281.3" cy="40.6" r="0.55"/><circle cx="293.8" cy="49.4" r="0.55"/><circle cx="287.8" cy="50.6" r="0.55"/><circle cx="283.4" cy="57.7" r="0.55"/><circle cx="290.4" cy="51.8" r="0.55"/><circle cx="280.7" cy="49.6" r="0.55"/><circle cx="295.1" cy="45.1" r="0.55"/><circle cx="287.4" cy="64.4" r="0.55"/><circle cx="293.7" cy="46.7" r="0.55"/><circle cx="292.9" cy="50.5" r="0.55"/><circle cx="289.4" cy="54.0" r="0.55"/><circle cx="294.2" cy="42.9" r="0.55"/><circle cx="287.1" cy="55.8" r="0.55"/><circle cx="286.8" cy="51.2" r="0.55"/><circle cx="287.1" cy="60.2" r="0.55"/><circle cx="287.8" cy="49.8" r="0.55"/><circle cx="288.4" cy="48.3" r="0.55"/><circle cx="293.6" cy="51.1" r="0.55"/><circle cx="288.3" cy="51.3" r="0.55"/><circle cx="289.6" cy="42.7" r="0.55"/><circle cx="284.0" cy="51.5" r="0.55"/><circle cx="284.6" cy="40.5" r="0.55"/><circle cx="290.4" cy="49.2" r="0.55"/><circle cx="282.6" cy="41.5" r="0.55"/><circle cx="294.9" cy="68.2" r="0.55"/><circle cx="288.0" cy="44.1" r="0.55"/><circle cx="284.5" cy="55.6" r="0.55"/><circle cx="286.7" cy="49.3" r="0.55"/><circle cx="288.1" cy="43.9" r="0.55"/><circle cx="290.7" cy="50.7" r="0.55"/><circle cx="288.2" cy="42.4" r="0.55"/><circle cx="292.0" cy="55.2" r="0.55"/><circle cx="290.2" cy="50.3" r="0.55"/><circle cx="292.7" cy="56.5" r="0.55"/><circle cx="288.6" cy="47.2" r="0.55"/><circle cx="286.5" cy="49.8" r="0.55"/><circle cx="294.5" cy="56.4" r="0.55"/><circle cx="294.1" cy="54.5" r="0.55"/><circle cx="286.4" cy="48.4" r="0.55"/><circle cx="291.7" cy="41.0" r="0.55"/><circle cx="293.7" cy="50.9" r="0.55"/><circle cx="292.4" cy="61.6" r="0.55"/><circle cx="285.1" cy="59.5" r="0.55"/><circle cx="283.7" cy="39.5" r="0.55"/><circle cx="285.4" cy="45.9" r="0.55"/><circle cx="285.6" cy="45.2" r="0.55"/><circle cx="282.5" cy="53.1" r="0.55"/><circle cx="291.8" cy="44.7" r="0.55"/><circle cx="289.1" cy="51.9" r="0.55"/><circle cx="282.0" cy="51.0" r="0.55"/><circle cx="278.7" cy="44.2" r="0.55"/><circle cx="289.6" cy="49.6" r="0.55"/><circle cx="287.5" cy="58.8" r="0.55"/><circle cx="280.8" cy="60.7" r="0.55"/><circle cx="281.2" cy="54.4" r="0.55"/><circle cx="293.2" cy="63.5" r="0.55"/><circle cx="288.5" cy="55.1" r="0.55"/><circle cx="284.9" cy="43.4" r="0.55"/><circle cx="290.8" cy="65.6" r="0.55"/><circle cx="284.0" cy="49.4" r="0.55"/><circle cx="285.3" cy="52.4" r="0.55"/><circle cx="293.4" cy="40.0" r="0.55"/><circle cx="289.4" cy="66.8" r="0.55"/><circle cx="292.3" cy="60.5" r="0.55"/><circle cx="287.4" cy="40.4" r="0.55"/><circle cx="279.1" cy="43.5" r="0.55"/><circle cx="291.8" cy="48.8" r="0.55"/><circle cx="292.0" cy="47.2" r="0.55"/><circle cx="280.8" cy="56.5" r="0.55"/><circle cx="287.1" cy="63.2" r="0.55"/><circle cx="290.1" cy="41.5" r="0.55"/><circle cx="285.3" cy="49.0" r="0.55"/><circle cx="288.6" cy="56.6" r="0.55"/><circle cx="283.3" cy="40.4" r="0.55"/><circle cx="286.2" cy="47.8" r="0.55"/><circle cx="291.7" cy="57.2" r="0.55"/><circle cx="281.5" cy="50.9" r="0.55"/><circle cx="291.6" cy="50.0" r="0.55"/><circle cx="291.1" cy="55.2" r="0.55"/><circle cx="286.0" cy="58.6" r="0.55"/><circle cx="288.1" cy="57.8" r="0.55"/><circle cx="277.6" cy="44.4" r="0.55"/><circle cx="287.4" cy="42.3" r="0.55"/><circle cx="278.2" cy="40.8" r="0.55"/><circle cx="281.8" cy="57.3" r="0.55"/><circle cx="287.8" cy="63.8" r="0.55"/><circle cx="287.2" cy="51.9" r="0.55"/><circle cx="292.2" cy="46.8" r="0.55"/><circle cx="284.8" cy="45.4" r="0.55"/><circle cx="289.8" cy="58.8" r="0.55"/><circle cx="288.6" cy="61.9" r="0.55"/><circle cx="292.7" cy="49.1" r="0.55"/><circle cx="291.4" cy="54.1" r="0.55"/><circle cx="292.7" cy="48.0" r="0.55"/><circle cx="289.7" cy="58.3" r="0.55"/><circle cx="289.3" cy="58.5" r="0.55"/><circle cx="289.9" cy="63.3" r="0.55"/><circle cx="285.0" cy="55.0" r="0.55"/><circle cx="289.1" cy="51.2" r="0.55"/><circle cx="285.3" cy="43.4" r="0.55"/><circle cx="291.1" cy="43.6" r="0.55"/><circle cx="285.3" cy="55.2" r="0.55"/><circle cx="294.0" cy="57.4" r="0.55"/><circle cx="289.9" cy="44.6" r="0.55"/><circle cx="291.6" cy="46.2" r="0.55"/><circle cx="289.2" cy="54.6" r="0.55"/><circle cx="291.3" cy="56.5" r="0.55"/><circle cx="285.3" cy="59.1" r="0.55"/><circle cx="285.1" cy="53.0" r="0.55"/><circle cx="291.5" cy="46.7" r="0.55"/><circle cx="288.9" cy="59.6" r="0.55"/><circle cx="294.3" cy="55.0" r="0.55"/><circle cx="290.8" cy="57.0" r="0.55"/><circle cx="283.0" cy="41.5" r="0.55"/><circle cx="285.3" cy="51.6" r="0.55"/><circle cx="288.2" cy="56.6" r="0.55"/><circle cx="288.0" cy="50.9" r="0.55"/><circle cx="278.6" cy="48.1" r="0.55"/><circle cx="291.7" cy="47.3" r="0.55"/><circle cx="287.1" cy="47.8" r="0.55"/><circle cx="294.7" cy="42.6" r="0.55"/><circle cx="290.9" cy="60.4" r="0.55"/><circle cx="284.5" cy="62.8" r="0.55"/><circle cx="289.7" cy="46.0" r="0.55"/><circle cx="292.1" cy="63.6" r="0.55"/><circle cx="294.3" cy="47.3" r="0.55"/><circle cx="291.6" cy="60.7" r="0.55"/><circle cx="288.9" cy="49.7" r="0.55"/><circle cx="284.6" cy="44.7" r="0.55"/><circle cx="285.9" cy="48.1" r="0.55"/><circle cx="288.5" cy="52.8" r="0.55"/><circle cx="290.5" cy="49.6" r="0.55"/><circle cx="291.9" cy="47.4" r="0.55"/><circle cx="283.8" cy="47.1" r="0.55"/><circle cx="289.5" cy="52.3" r="0.55"/><circle cx="282.2" cy="47.1" r="0.55"/><circle cx="289.5" cy="46.2" r="0.55"/><circle cx="286.1" cy="63.6" r="0.55"/><circle cx="291.6" cy="62.9" r="0.55"/><circle cx="280.7" cy="41.5" r="0.55"/><circle cx="295.3" cy="40.7" r="0.55"/><circle cx="292.5" cy="50.3" r="0.55"/><circle cx="287.3" cy="63.4" r="0.55"/><circle cx="287.4" cy="53.1" r="0.55"/><circle cx="288.4" cy="47.4" r="0.55"/><circle cx="292.2" cy="55.2" r="0.55"/><circle cx="290.9" cy="50.6" r="0.55"/><circle cx="292.3" cy="57.3" r="0.55"/><circle cx="293.0" cy="51.9" r="0.55"/><circle cx="290.2" cy="48.9" r="0.55"/><circle cx="284.6" cy="39.4" r="0.55"/><circle cx="292.8" cy="52.9" r="0.55"/><circle cx="289.0" cy="57.3" r="0.55"/><circle cx="286.3" cy="58.6" r="0.55"/><circle cx="291.0" cy="51.6" r="0.55"/><circle cx="285.2" cy="42.6" r="0.55"/><circle cx="292.6" cy="49.2" r="0.55"/><circle cx="283.8" cy="58.6" r="0.55"/><circle cx="289.0" cy="57.4" r="0.55"/><circle cx="287.2" cy="53.5" r="0.55"/><circle cx="285.8" cy="49.9" r="0.55"/><circle cx="292.8" cy="44.7" r="0.55"/><circle cx="282.1" cy="50.3" r="0.55"/><circle cx="286.6" cy="39.3" r="0.55"/><circle cx="289.9" cy="39.4" r="0.55"/><circle cx="284.3" cy="52.1" r="0.55"/><circle cx="283.2" cy="44.4" r="0.55"/><circle cx="287.7" cy="56.4" r="0.55"/><circle cx="289.2" cy="40.6" r="0.55"/><circle cx="289.6" cy="46.1" r="0.55"/><circle cx="290.9" cy="53.1" r="0.55"/><circle cx="291.3" cy="62.7" r="0.55"/><circle cx="284.9" cy="48.3" r="0.55"/><circle cx="292.3" cy="47.0" r="0.55"/><circle cx="287.4" cy="46.8" r="0.55"/><circle cx="283.7" cy="52.7" r="0.55"/><circle cx="294.2" cy="56.1" r="0.55"/><circle cx="278.0" cy="51.8" r="0.55"/><circle cx="291.5" cy="65.7" r="0.55"/><circle cx="292.1" cy="46.6" r="0.55"/><circle cx="291.1" cy="40.7" r="0.55"/><circle cx="281.8" cy="49.8" r="0.55"/><circle cx="286.9" cy="46.9" r="0.55"/><circle cx="288.8" cy="48.1" r="0.55"/><circle cx="283.0" cy="50.9" r="0.55"/><circle cx="294.0" cy="42.4" r="0.55"/><circle cx="291.3" cy="52.1" r="0.55"/><circle cx="292.3" cy="62.1" r="0.55"/><circle cx="287.4" cy="40.7" r="0.55"/><circle cx="276.8" cy="48.0" r="0.55"/><circle cx="287.0" cy="40.1" r="0.55"/><circle cx="288.3" cy="50.3" r="0.55"/><circle cx="292.2" cy="55.8" r="0.55"/><circle cx="282.7" cy="45.1" r="0.55"/><circle cx="289.7" cy="49.3" r="0.55"/><circle cx="287.8" cy="52.4" r="0.55"/><circle cx="292.3" cy="59.3" r="0.55"/><circle cx="294.9" cy="56.5" r="0.55"/><circle cx="288.8" cy="53.5" r="0.55"/><circle cx="291.7" cy="46.3" r="0.55"/><circle cx="291.3" cy="48.1" r="0.55"/><circle cx="293.9" cy="54.8" r="0.55"/><circle cx="293.1" cy="43.8" r="0.55"/><circle cx="288.6" cy="63.4" r="0.55"/><circle cx="292.1" cy="49.3" r="0.55"/><circle cx="288.4" cy="48.0" r="0.55"/><circle cx="287.2" cy="48.8" r="0.55"/><circle cx="282.2" cy="40.8" r="0.55"/><circle cx="291.8" cy="59.4" r="0.55"/><circle cx="280.3" cy="53.7" r="0.55"/><circle cx="284.8" cy="52.1" r="0.55"/><circle cx="285.1" cy="54.5" r="0.55"/><circle cx="280.4" cy="43.8" r="0.55"/><circle cx="277.7" cy="40.2" r="0.55"/><circle cx="294.3" cy="50.6" r="0.55"/><circle cx="289.8" cy="50.9" r="0.55"/><circle cx="288.5" cy="56.3" r="0.55"/><circle cx="291.9" cy="57.5" r="0.55"/><circle cx="292.3" cy="43.6" r="0.55"/><circle cx="282.4" cy="49.4" r="0.55"/><circle cx="284.2" cy="51.9" r="0.55"/><circle cx="291.4" cy="49.8" r="0.55"/><circle cx="291.7" cy="56.3" r="0.55"/><circle cx="293.2" cy="56.8" r="0.55"/><circle cx="284.1" cy="59.6" r="0.55"/><circle cx="281.6" cy="48.9" r="0.55"/><circle cx="284.9" cy="47.6" r="0.55"/><circle cx="289.1" cy="42.6" r="0.55"/><circle cx="285.6" cy="44.2" r="0.55"/><circle cx="292.4" cy="49.1" r="0.55"/><circle cx="284.3" cy="48.8" r="0.55"/><circle cx="288.5" cy="49.7" r="0.55"/><circle cx="283.3" cy="55.5" r="0.55"/><circle cx="285.4" cy="45.6" r="0.55"/><circle cx="291.4" cy="48.9" r="0.55"/><circle cx="288.5" cy="57.0" r="0.55"/><circle cx="288.3" cy="60.3" r="0.55"/><circle cx="283.5" cy="47.9" r="0.55"/><circle cx="288.8" cy="46.0" r="0.55"/><circle cx="289.8" cy="43.0" r="0.55"/><circle cx="288.7" cy="50.4" r="0.55"/><circle cx="286.9" cy="41.9" r="0.55"/><circle cx="287.4" cy="49.8" r="0.55"/><circle cx="292.9" cy="53.4" r="0.55"/><circle cx="287.7" cy="49.4" r="0.55"/><circle cx="279.0" cy="50.0" r="0.55"/><circle cx="289.0" cy="43.3" r="0.55"/><circle cx="285.7" cy="54.8" r="0.55"/><circle cx="286.8" cy="44.3" r="0.55"/><circle cx="291.8" cy="59.3" r="0.55"/><circle cx="286.5" cy="44.5" r="0.55"/><circle cx="291.2" cy="44.7" r="0.55"/><circle cx="287.5" cy="47.4" r="0.55"/><circle cx="284.7" cy="59.7" r="0.55"/><circle cx="287.8" cy="60.2" r="0.55"/><circle cx="285.8" cy="48.4" r="0.55"/><circle cx="290.4" cy="50.9" r="0.55"/><circle cx="279.4" cy="51.5" r="0.55"/><circle cx="280.4" cy="42.8" r="0.55"/><circle cx="295.5" cy="46.7" r="0.55"/><circle cx="292.1" cy="43.7" r="0.55"/><circle cx="287.2" cy="57.1" r="0.55"/><circle cx="288.4" cy="47.1" r="0.55"/><circle cx="282.7" cy="47.7" r="0.55"/><circle cx="284.8" cy="56.5" r="0.55"/><circle cx="289.3" cy="49.4" r="0.55"/><circle cx="293.7" cy="54.1" r="0.55"/><circle cx="288.0" cy="47.3" r="0.55"/><circle cx="292.4" cy="42.8" r="0.55"/><circle cx="286.6" cy="51.4" r="0.55"/><circle cx="293.2" cy="55.6" r="0.55"/><circle cx="289.4" cy="56.2" r="0.55"/><circle cx="292.6" cy="65.6" r="0.55"/><circle cx="293.5" cy="47.3" r="0.55"/><circle cx="289.4" cy="54.7" r="0.55"/><circle cx="280.4" cy="40.1" r="0.55"/><circle cx="286.7" cy="46.6" r="0.55"/><circle cx="290.6" cy="42.4" r="0.55"/><circle cx="286.0" cy="44.3" r="0.55"/><circle cx="289.5" cy="60.3" r="0.55"/><circle cx="291.6" cy="43.5" r="0.55"/><circle cx="284.6" cy="48.3" r="0.55"/><circle cx="282.8" cy="57.4" r="0.55"/><circle cx="289.1" cy="47.8" r="0.55"/><circle cx="289.4" cy="46.3" r="0.55"/><circle cx="289.3" cy="52.8" r="0.55"/><circle cx="290.9" cy="56.9" r="0.55"/><circle cx="291.6" cy="56.7" r="0.55"/><circle cx="293.1" cy="58.7" r="0.55"/><circle cx="290.4" cy="51.4" r="0.55"/><circle cx="287.8" cy="48.4" r="0.55"/><circle cx="285.9" cy="48.4" r="0.55"/><circle cx="290.8" cy="54.7" r="0.55"/><circle cx="292.4" cy="44.6" r="0.55"/><circle cx="285.1" cy="59.5" r="0.55"/><circle cx="276.1" cy="48.7" r="0.55"/><circle cx="293.4" cy="50.5" r="0.55"/><circle cx="287.9" cy="50.5" r="0.55"/><circle cx="287.2" cy="46.9" r="0.55"/><circle cx="291.3" cy="58.4" r="0.55"/><circle cx="285.4" cy="50.3" r="0.55"/><circle cx="289.4" cy="57.3" r="0.55"/><circle cx="290.6" cy="46.5" r="0.55"/><circle cx="287.6" cy="46.1" r="0.55"/><circle cx="289.9" cy="49.8" r="0.55"/><circle cx="285.9" cy="56.9" r="0.55"/><circle cx="294.9" cy="46.4" r="0.55"/><circle cx="287.3" cy="54.6" r="0.55"/><circle cx="288.6" cy="47.5" r="0.55"/><circle cx="284.6" cy="52.0" r="0.55"/><circle cx="293.3" cy="54.9" r="0.55"/><circle cx="288.9" cy="53.3" r="0.55"/><circle cx="291.9" cy="62.9" r="0.55"/><circle cx="292.9" cy="51.9" r="0.55"/><circle cx="294.3" cy="53.4" r="0.55"/><circle cx="290.7" cy="43.0" r="0.55"/><circle cx="289.8" cy="56.5" r="0.55"/><circle cx="287.4" cy="47.8" r="0.55"/><circle cx="295.1" cy="53.1" r="0.55"/><circle cx="291.8" cy="55.8" r="0.55"/><circle cx="288.9" cy="49.1" r="0.55"/><circle cx="290.3" cy="48.3" r="0.55"/><circle cx="293.9" cy="51.0" r="0.55"/><circle cx="291.5" cy="55.7" r="0.55"/><circle cx="293.4" cy="47.1" r="0.55"/><circle cx="286.2" cy="58.1" r="0.55"/><circle cx="288.8" cy="45.8" r="0.55"/><circle cx="292.9" cy="50.3" r="0.55"/><circle cx="291.6" cy="58.5" r="0.55"/><circle cx="283.1" cy="46.4" r="0.55"/><circle cx="291.2" cy="47.3" r="0.55"/><circle cx="290.2" cy="49.9" r="0.55"/><circle cx="285.4" cy="55.7" r="0.55"/><circle cx="283.9" cy="59.5" r="0.55"/><circle cx="294.4" cy="49.3" r="0.55"/><circle cx="286.5" cy="57.8" r="0.55"/><circle cx="290.1" cy="47.3" r="0.55"/><circle cx="288.0" cy="47.9" r="0.55"/><circle cx="286.9" cy="53.8" r="0.55"/><circle cx="286.8" cy="54.7" r="0.55"/><circle cx="291.1" cy="42.1" r="0.55"/><circle cx="295.2" cy="58.9" r="0.55"/><circle cx="281.1" cy="46.1" r="0.55"/><circle cx="286.4" cy="43.5" r="0.55"/><circle cx="279.6" cy="47.4" r="0.55"/><circle cx="289.4" cy="46.2" r="0.55"/><circle cx="287.8" cy="51.9" r="0.55"/><circle cx="288.8" cy="50.9" r="0.55"/><circle cx="288.7" cy="62.8" r="0.55"/><circle cx="284.9" cy="50.2" r="0.55"/><circle cx="288.8" cy="59.5" r="0.55"/><circle cx="285.7" cy="45.6" r="0.55"/><circle cx="292.3" cy="58.3" r="0.55"/><circle cx="283.6" cy="48.4" r="0.55"/><circle cx="284.9" cy="53.7" r="0.55"/><circle cx="286.1" cy="55.8" r="0.55"/><circle cx="287.2" cy="56.3" r="0.55"/><circle cx="283.3" cy="41.8" r="0.55"/><circle cx="293.4" cy="52.7" r="0.55"/><circle cx="291.0" cy="47.5" r="0.55"/><circle cx="290.1" cy="52.3" r="0.55"/><circle cx="277.1" cy="51.1" r="0.55"/><circle cx="289.7" cy="57.8" r="0.55"/><circle cx="295.0" cy="63.5" r="0.55"/><circle cx="289.2" cy="47.3" r="0.55"/><circle cx="292.1" cy="50.0" r="0.55"/><circle cx="281.7" cy="48.3" r="0.55"/><circle cx="285.3" cy="51.1" r="0.55"/><circle cx="280.7" cy="58.2" r="0.55"/><circle cx="291.8" cy="53.7" r="0.55"/><circle cx="288.7" cy="54.4" r="0.55"/><circle cx="282.5" cy="50.8" r="0.55"/><circle cx="291.3" cy="58.7" r="0.55"/><circle cx="294.1" cy="46.3" r="0.55"/><circle cx="286.3" cy="51.6" r="0.55"/><circle cx="290.3" cy="52.6" r="0.55"/><circle cx="291.3" cy="42.2" r="0.55"/><circle cx="288.7" cy="45.7" r="0.55"/><circle cx="291.0" cy="47.3" r="0.55"/><circle cx="294.5" cy="55.8" r="0.55"/><circle cx="283.0" cy="57.5" r="0.55"/><circle cx="280.9" cy="59.6" r="0.55"/><circle cx="293.4" cy="39.5" r="0.55"/><circle cx="287.2" cy="41.0" r="0.55"/><circle cx="278.5" cy="51.8" r="0.55"/><circle cx="293.7" cy="56.0" r="0.55"/><circle cx="282.8" cy="46.4" r="0.55"/><circle cx="288.9" cy="46.8" r="0.55"/><circle cx="288.5" cy="48.0" r="0.55"/><circle cx="292.5" cy="49.7" r="0.55"/><circle cx="283.1" cy="57.9" r="0.55"/><circle cx="283.9" cy="54.1" r="0.55"/><circle cx="292.7" cy="57.0" r="0.55"/><circle cx="288.2" cy="48.5" r="0.55"/><circle cx="292.9" cy="43.8" r="0.55"/><circle cx="288.5" cy="63.1" r="0.55"/><circle cx="286.8" cy="48.0" r="0.55"/><circle cx="286.4" cy="56.8" r="0.55"/><circle cx="288.8" cy="39.7" r="0.55"/><circle cx="292.4" cy="54.7" r="0.55"/><circle cx="289.1" cy="53.2" r="0.55"/><circle cx="284.7" cy="39.9" r="0.55"/><circle cx="281.4" cy="51.9" r="0.55"/><circle cx="292.5" cy="50.5" r="0.55"/><circle cx="291.3" cy="45.4" r="0.55"/><circle cx="290.7" cy="61.4" r="0.55"/><circle cx="291.2" cy="49.4" r="0.55"/><circle cx="293.8" cy="42.3" r="0.55"/><circle cx="284.5" cy="39.9" r="0.55"/><circle cx="282.1" cy="50.2" r="0.55"/><circle cx="284.6" cy="55.4" r="0.55"/><circle cx="290.5" cy="44.0" r="0.55"/><circle cx="287.7" cy="51.9" r="0.55"/><circle cx="279.5" cy="43.7" r="0.55"/><circle cx="284.6" cy="64.1" r="0.55"/><circle cx="287.3" cy="58.5" r="0.55"/><circle cx="283.5" cy="51.9" r="0.55"/><circle cx="284.4" cy="48.8" r="0.55"/><circle cx="283.0" cy="49.4" r="0.55"/><circle cx="288.7" cy="57.1" r="0.55"/><circle cx="277.9" cy="42.7" r="0.55"/><circle cx="288.0" cy="43.2" r="0.55"/><circle cx="284.3" cy="59.1" r="0.55"/><circle cx="295.1" cy="60.9" r="0.55"/><circle cx="291.9" cy="54.5" r="0.55"/><circle cx="283.0" cy="44.6" r="0.55"/><circle cx="290.4" cy="51.3" r="0.55"/><circle cx="284.6" cy="57.9" r="0.55"/><circle cx="284.5" cy="55.8" r="0.55"/><circle cx="288.8" cy="54.5" r="0.55"/><circle cx="276.2" cy="41.1" r="0.55"/><circle cx="290.2" cy="60.9" r="0.55"/><circle cx="294.9" cy="52.0" r="0.55"/><circle cx="291.5" cy="59.2" r="0.55"/><circle cx="288.1" cy="42.6" r="0.55"/><circle cx="293.4" cy="49.9" r="0.55"/><circle cx="291.5" cy="41.8" r="0.55"/><circle cx="283.8" cy="58.9" r="0.55"/><circle cx="286.4" cy="59.0" r="0.55"/><circle cx="289.7" cy="51.8" r="0.55"/><circle cx="285.9" cy="52.0" r="0.55"/><circle cx="295.2" cy="42.9" r="0.55"/><circle cx="290.0" cy="52.8" r="0.55"/><circle cx="287.6" cy="45.8" r="0.55"/><circle cx="288.8" cy="58.7" r="0.55"/><circle cx="286.2" cy="48.1" r="0.55"/><circle cx="290.5" cy="61.9" r="0.55"/><circle cx="279.7" cy="49.0" r="0.55"/><circle cx="289.8" cy="56.0" r="0.55"/><circle cx="279.0" cy="40.5" r="0.55"/><circle cx="291.1" cy="46.7" r="0.55"/><circle cx="288.5" cy="60.2" r="0.55"/><circle cx="294.4" cy="62.6" r="0.55"/><circle cx="289.0" cy="58.1" r="0.55"/><circle cx="295.2" cy="53.7" r="0.55"/><circle cx="285.2" cy="42.0" r="0.55"/><circle cx="288.6" cy="58.5" r="0.55"/><circle cx="293.5" cy="54.4" r="0.55"/><circle cx="287.9" cy="52.7" r="0.55"/><circle cx="283.2" cy="61.7" r="0.55"/><circle cx="290.0" cy="63.3" r="0.55"/><circle cx="284.9" cy="61.7" r="0.55"/><circle cx="290.3" cy="54.0" r="0.55"/><circle cx="289.1" cy="56.3" r="0.55"/><circle cx="290.0" cy="47.3" r="0.55"/><circle cx="293.9" cy="49.6" r="0.55"/><circle cx="295.0" cy="49.3" r="0.55"/><circle cx="294.2" cy="43.1" r="0.55"/><circle cx="292.3" cy="49.2" r="0.55"/><circle cx="294.7" cy="54.5" r="0.55"/><circle cx="290.1" cy="52.2" r="0.55"/><circle cx="288.1" cy="43.9" r="0.55"/><circle cx="289.0" cy="50.3" r="0.55"/><circle cx="293.2" cy="46.8" r="0.55"/><circle cx="286.6" cy="51.6" r="0.55"/><circle cx="285.0" cy="51.6" r="0.55"/><circle cx="285.6" cy="53.3" r="0.55"/><circle cx="293.2" cy="50.1" r="0.55"/><circle cx="283.8" cy="66.9" r="0.55"/><circle cx="290.6" cy="63.5" r="0.55"/><circle cx="293.2" cy="55.0" r="0.55"/><circle cx="286.6" cy="53.8" r="0.55"/><circle cx="288.9" cy="56.4" r="0.55"/><circle cx="289.9" cy="56.7" r="0.55"/><circle cx="293.7" cy="43.9" r="0.55"/><circle cx="290.2" cy="53.2" r="0.55"/><circle cx="291.1" cy="51.6" r="0.55"/><circle cx="289.7" cy="51.6" r="0.55"/><circle cx="289.0" cy="63.4" r="0.55"/><circle cx="293.7" cy="49.2" r="0.55"/><circle cx="286.5" cy="45.6" r="0.55"/><circle cx="290.9" cy="59.5" r="0.55"/><circle cx="280.8" cy="61.4" r="0.55"/><circle cx="291.0" cy="49.6" r="0.55"/><circle cx="285.6" cy="54.8" r="0.55"/><circle cx="291.5" cy="55.9" r="0.55"/><circle cx="292.4" cy="64.2" r="0.55"/><circle cx="285.0" cy="45.2" r="0.55"/><circle cx="291.2" cy="52.7" r="0.55"/><circle cx="285.8" cy="51.7" r="0.55"/><circle cx="284.9" cy="58.7" r="0.55"/><circle cx="284.6" cy="45.3" r="0.55"/><circle cx="290.2" cy="66.6" r="0.55"/><circle cx="284.7" cy="40.8" r="0.55"/><circle cx="285.3" cy="48.7" r="0.55"/><circle cx="291.9" cy="51.0" r="0.55"/><circle cx="292.5" cy="52.6" r="0.55"/><circle cx="291.2" cy="54.2" r="0.55"/><circle cx="294.5" cy="53.2" r="0.55"/><circle cx="289.6" cy="42.7" r="0.55"/><circle cx="290.5" cy="42.6" r="0.55"/><circle cx="289.7" cy="50.8" r="0.55"/><circle cx="294.6" cy="47.2" r="0.55"/><circle cx="287.2" cy="46.9" r="0.55"/><circle cx="286.9" cy="56.4" r="0.55"/><circle cx="293.6" cy="51.6" r="0.55"/><circle cx="287.7" cy="51.6" r="0.55"/><circle cx="283.4" cy="56.1" r="0.55"/><circle cx="287.4" cy="59.2" r="0.55"/><circle cx="291.4" cy="55.3" r="0.55"/><circle cx="289.7" cy="43.1" r="0.55"/><circle cx="292.1" cy="39.8" r="0.55"/><circle cx="292.5" cy="44.4" r="0.55"/><circle cx="276.6" cy="49.9" r="0.55"/><circle cx="290.8" cy="44.1" r="0.55"/><circle cx="288.6" cy="52.3" r="0.55"/><circle cx="293.5" cy="47.4" r="0.55"/><circle cx="289.1" cy="45.5" r="0.55"/><circle cx="292.0" cy="41.1" r="0.55"/><circle cx="288.5" cy="60.7" r="0.55"/><circle cx="288.4" cy="46.6" r="0.55"/><circle cx="291.0" cy="57.1" r="0.55"/><circle cx="294.2" cy="47.5" r="0.55"/><circle cx="289.6" cy="53.9" r="0.55"/><circle cx="292.3" cy="53.0" r="0.55"/><circle cx="287.5" cy="41.9" r="0.55"/><circle cx="290.2" cy="52.6" r="0.55"/><circle cx="288.2" cy="55.7" r="0.55"/><circle cx="287.9" cy="50.1" r="0.55"/><circle cx="290.0" cy="47.3" r="0.55"/><circle cx="288.1" cy="62.3" r="0.55"/><circle cx="288.4" cy="65.4" r="0.55"/><circle cx="287.6" cy="49.1" r="0.55"/><circle cx="285.4" cy="55.8" r="0.55"/><circle cx="285.2" cy="51.3" r="0.55"/><circle cx="287.1" cy="63.0" r="0.55"/><circle cx="283.7" cy="51.8" r="0.55"/><circle cx="288.6" cy="44.1" r="0.55"/><circle cx="282.0" cy="39.9" r="0.55"/><circle cx="287.7" cy="49.4" r="0.55"/><circle cx="290.0" cy="46.4" r="0.55"/><circle cx="288.3" cy="44.3" r="0.55"/><circle cx="292.0" cy="55.2" r="0.55"/><circle cx="286.7" cy="60.4" r="0.55"/><circle cx="287.3" cy="47.6" r="0.55"/><circle cx="287.8" cy="44.9" r="0.55"/><circle cx="286.0" cy="60.1" r="0.55"/><circle cx="290.4" cy="45.7" r="0.55"/><circle cx="293.4" cy="45.9" r="0.55"/><circle cx="288.1" cy="44.9" r="0.55"/><circle cx="294.7" cy="45.5" r="0.55"/><circle cx="290.1" cy="52.7" r="0.55"/><circle cx="291.6" cy="47.0" r="0.55"/><circle cx="289.7" cy="60.0" r="0.55"/><circle cx="288.6" cy="39.6" r="0.55"/><circle cx="294.5" cy="44.6" r="0.55"/><circle cx="292.5" cy="54.4" r="0.55"/><circle cx="286.6" cy="56.3" r="0.55"/><circle cx="292.1" cy="47.6" r="0.55"/><circle cx="281.8" cy="42.5" r="0.55"/><circle cx="290.9" cy="53.9" r="0.55"/><circle cx="285.4" cy="44.3" r="0.55"/><circle cx="292.6" cy="48.5" r="0.55"/><circle cx="278.6" cy="50.6" r="0.55"/><circle cx="288.9" cy="53.2" r="0.55"/><circle cx="287.9" cy="54.5" r="0.55"/><circle cx="293.0" cy="52.4" r="0.55"/><circle cx="284.5" cy="47.9" r="0.55"/><circle cx="281.6" cy="53.7" r="0.55"/><circle cx="287.4" cy="45.2" r="0.55"/><circle cx="290.9" cy="68.2" r="0.55"/><circle cx="284.5" cy="52.6" r="0.55"/><circle cx="288.7" cy="41.9" r="0.55"/><circle cx="293.0" cy="49.2" r="0.55"/><circle cx="287.8" cy="47.4" r="0.55"/><circle cx="290.2" cy="41.1" r="0.55"/><circle cx="284.5" cy="39.8" r="0.55"/><circle cx="280.5" cy="44.5" r="0.55"/><circle cx="284.3" cy="51.4" r="0.55"/><circle cx="295.1" cy="50.5" r="0.55"/><circle cx="281.4" cy="61.4" r="0.55"/><circle cx="287.3" cy="60.2" r="0.55"/><circle cx="287.6" cy="51.2" r="0.55"/><circle cx="293.9" cy="53.4" r="0.55"/><circle cx="290.8" cy="47.9" r="0.55"/><circle cx="288.9" cy="48.3" r="0.55"/><circle cx="286.6" cy="40.9" r="0.55"/><circle cx="293.1" cy="52.4" r="0.55"/><circle cx="279.6" cy="47.9" r="0.55"/><circle cx="277.2" cy="44.0" r="0.55"/><circle cx="284.4" cy="45.6" r="0.55"/><circle cx="290.7" cy="52.6" r="0.55"/><circle cx="283.9" cy="44.8" r="0.55"/><circle cx="289.3" cy="52.1" r="0.55"/><circle cx="291.4" cy="45.7" r="0.55"/><circle cx="293.5" cy="44.6" r="0.55"/><circle cx="286.8" cy="43.0" r="0.55"/><circle cx="289.3" cy="52.5" r="0.55"/><circle cx="295.3" cy="50.1" r="0.55"/><circle cx="289.6" cy="41.6" r="0.55"/><circle cx="292.1" cy="52.2" r="0.55"/><circle cx="288.3" cy="45.2" r="0.55"/><circle cx="283.6" cy="53.8" r="0.55"/><circle cx="293.6" cy="51.9" r="0.55"/><circle cx="285.5" cy="43.6" r="0.55"/><circle cx="294.4" cy="42.9" r="0.55"/><circle cx="288.7" cy="54.3" r="0.55"/><circle cx="293.7" cy="47.7" r="0.55"/><circle cx="292.8" cy="49.4" r="0.55"/><circle cx="291.0" cy="51.0" r="0.55"/><circle cx="293.1" cy="55.7" r="0.55"/><circle cx="292.3" cy="51.9" r="0.55"/><circle cx="287.0" cy="52.0" r="0.55"/><circle cx="292.7" cy="49.2" r="0.55"/><circle cx="282.1" cy="49.4" r="0.55"/><circle cx="291.5" cy="51.8" r="0.55"/><circle cx="283.0" cy="47.5" r="0.55"/><circle cx="284.0" cy="58.3" r="0.55"/><circle cx="287.9" cy="57.2" r="0.55"/><circle cx="292.3" cy="53.7" r="0.55"/><circle cx="286.5" cy="48.8" r="0.55"/><circle cx="285.8" cy="62.8" r="0.55"/><circle cx="293.6" cy="56.8" r="0.55"/><circle cx="284.8" cy="50.8" r="0.55"/><circle cx="281.2" cy="55.8" r="0.55"/><circle cx="288.5" cy="50.1" r="0.55"/><circle cx="281.2" cy="49.4" r="0.55"/><circle cx="286.2" cy="46.7" r="0.55"/><circle cx="285.4" cy="45.7" r="0.55"/><circle cx="289.5" cy="68.0" r="0.55"/><circle cx="291.2" cy="56.1" r="0.55"/><circle cx="294.1" cy="47.5" r="0.55"/><circle cx="280.5" cy="50.5" r="0.55"/><circle cx="289.9" cy="55.3" r="0.55"/><circle cx="285.3" cy="56.2" r="0.55"/><circle cx="289.9" cy="57.4" r="0.55"/><circle cx="291.9" cy="58.4" r="0.55"/><circle cx="289.2" cy="56.0" r="0.55"/><circle cx="289.6" cy="53.4" r="0.55"/><circle cx="276.4" cy="48.8" r="0.55"/><circle cx="288.5" cy="48.4" r="0.55"/><circle cx="289.3" cy="61.2" r="0.55"/><circle cx="287.9" cy="41.1" r="0.55"/><circle cx="282.9" cy="59.2" r="0.55"/><circle cx="285.2" cy="57.9" r="0.55"/><circle cx="285.8" cy="52.8" r="0.55"/><circle cx="283.5" cy="43.1" r="0.55"/><circle cx="289.9" cy="55.6" r="0.55"/><circle cx="291.4" cy="47.0" r="0.55"/><circle cx="288.1" cy="61.1" r="0.55"/><circle cx="284.6" cy="50.9" r="0.55"/><circle cx="286.1" cy="63.3" r="0.55"/><circle cx="289.5" cy="49.9" r="0.55"/><circle cx="284.1" cy="56.9" r="0.55"/><circle cx="292.6" cy="57.1" r="0.55"/><circle cx="286.0" cy="50.2" r="0.55"/><circle cx="291.2" cy="52.3" r="0.55"/><circle cx="281.1" cy="41.8" r="0.55"/><circle cx="277.6" cy="62.9" r="0.55"/><circle cx="290.5" cy="42.2" r="0.55"/><circle cx="286.1" cy="54.6" r="0.55"/><circle cx="290.4" cy="57.4" r="0.55"/><circle cx="292.3" cy="56.1" r="0.55"/><circle cx="292.7" cy="47.0" r="0.55"/><circle cx="294.8" cy="40.2" r="0.55"/><circle cx="286.9" cy="59.4" r="0.55"/><circle cx="276.5" cy="48.1" r="0.55"/><circle cx="288.9" cy="63.6" r="0.55"/><circle cx="277.9" cy="47.6" r="0.55"/><circle cx="289.8" cy="48.8" r="0.55"/><circle cx="290.6" cy="52.6" r="0.55"/><circle cx="286.9" cy="58.2" r="0.55"/><circle cx="293.8" cy="52.3" r="0.55"/><circle cx="284.1" cy="62.9" r="0.55"/><circle cx="292.0" cy="50.7" r="0.55"/><circle cx="284.5" cy="46.8" r="0.55"/><circle cx="290.7" cy="48.3" r="0.55"/><circle cx="284.6" cy="40.8" r="0.55"/><circle cx="292.0" cy="41.2" r="0.55"/><circle cx="278.0" cy="49.5" r="0.55"/><circle cx="278.7" cy="39.5" r="0.55"/><circle cx="283.0" cy="47.8" r="0.55"/><circle cx="294.8" cy="45.7" r="0.55"/><circle cx="294.2" cy="49.0" r="0.55"/><circle cx="293.3" cy="49.1" r="0.55"/><circle cx="283.7" cy="45.3" r="0.55"/><circle cx="288.9" cy="45.2" r="0.55"/><circle cx="287.2" cy="52.0" r="0.55"/><circle cx="287.9" cy="49.7" r="0.55"/><circle cx="277.2" cy="46.3" r="0.55"/><circle cx="290.6" cy="40.9" r="0.55"/><circle cx="288.3" cy="46.1" r="0.55"/><circle cx="293.9" cy="59.3" r="0.55"/><circle cx="287.1" cy="67.5" r="0.55"/><circle cx="290.1" cy="51.3" r="0.55"/><circle cx="290.4" cy="40.6" r="0.55"/><circle cx="293.1" cy="57.0" r="0.55"/><circle cx="290.7" cy="46.5" r="0.55"/><circle cx="283.0" cy="61.1" r="0.55"/><circle cx="280.3" cy="44.9" r="0.55"/><circle cx="294.1" cy="64.2" r="0.55"/><circle cx="286.2" cy="48.6" r="0.55"/><circle cx="283.3" cy="43.9" r="0.55"/><circle cx="290.5" cy="52.0" r="0.55"/><circle cx="293.8" cy="59.7" r="0.55"/><circle cx="293.2" cy="48.0" r="0.55"/><circle cx="286.4" cy="53.2" r="0.55"/><circle cx="292.5" cy="40.4" r="0.55"/><circle cx="286.9" cy="50.8" r="0.55"/><circle cx="279.0" cy="47.5" r="0.55"/><circle cx="291.2" cy="60.7" r="0.55"/><circle cx="292.7" cy="54.2" r="0.55"/><circle cx="283.6" cy="56.1" r="0.55"/><circle cx="281.2" cy="45.2" r="0.55"/><circle cx="288.1" cy="57.6" r="0.55"/><circle cx="291.5" cy="47.2" r="0.55"/><circle cx="291.7" cy="56.9" r="0.55"/><circle cx="289.8" cy="56.3" r="0.55"/><circle cx="291.9" cy="43.7" r="0.55"/><circle cx="282.3" cy="43.0" r="0.55"/><circle cx="287.3" cy="52.6" r="0.55"/><circle cx="284.5" cy="39.5" r="0.55"/><circle cx="287.0" cy="54.3" r="0.55"/><circle cx="289.5" cy="54.2" r="0.55"/><circle cx="289.8" cy="59.3" r="0.55"/><circle cx="289.0" cy="56.3" r="0.55"/><circle cx="295.0" cy="48.4" r="0.55"/><circle cx="287.4" cy="48.6" r="0.55"/><circle cx="285.2" cy="41.7" r="0.55"/><circle cx="291.2" cy="43.9" r="0.55"/><circle cx="292.4" cy="39.4" r="0.55"/><circle cx="289.8" cy="53.2" r="0.55"/><circle cx="290.7" cy="56.5" r="0.55"/><circle cx="288.5" cy="56.1" r="0.55"/><circle cx="283.6" cy="48.7" r="0.55"/><circle cx="290.7" cy="52.7" r="0.55"/><circle cx="277.0" cy="44.8" r="0.55"/><circle cx="287.0" cy="47.5" r="0.55"/><circle cx="280.3" cy="46.0" r="0.55"/><circle cx="286.6" cy="51.4" r="0.55"/><circle cx="292.6" cy="48.1" r="0.55"/><circle cx="290.0" cy="42.3" r="0.55"/><circle cx="292.1" cy="59.4" r="0.55"/><circle cx="290.2" cy="54.4" r="0.55"/><circle cx="279.8" cy="48.9" r="0.55"/><circle cx="292.4" cy="64.6" r="0.55"/><circle cx="288.8" cy="66.4" r="0.55"/><circle cx="282.6" cy="51.7" r="0.55"/><circle cx="291.0" cy="44.2" r="0.55"/><circle cx="286.6" cy="55.9" r="0.55"/><circle cx="285.6" cy="55.7" r="0.55"/><circle cx="288.5" cy="54.7" r="0.55"/><circle cx="291.6" cy="48.9" r="0.55"/><circle cx="291.6" cy="50.5" r="0.55"/><circle cx="282.1" cy="41.7" r="0.55"/><circle cx="293.1" cy="47.9" r="0.55"/><circle cx="289.9" cy="53.1" r="0.55"/><circle cx="289.3" cy="46.9" r="0.55"/><circle cx="290.1" cy="42.5" r="0.55"/><circle cx="292.2" cy="50.1" r="0.55"/><circle cx="288.5" cy="43.1" r="0.55"/><circle cx="288.0" cy="58.8" r="0.55"/><circle cx="292.1" cy="46.8" r="0.55"/><circle cx="293.3" cy="44.1" r="0.55"/><circle cx="290.9" cy="51.7" r="0.55"/><circle cx="293.7" cy="57.3" r="0.55"/><circle cx="294.3" cy="54.2" r="0.55"/><circle cx="285.1" cy="40.3" r="0.55"/><circle cx="293.1" cy="54.7" r="0.55"/><circle cx="293.9" cy="63.5" r="0.55"/><circle cx="287.7" cy="56.0" r="0.55"/><circle cx="290.2" cy="49.5" r="0.55"/><circle cx="289.1" cy="54.7" r="0.55"/><circle cx="285.7" cy="45.7" r="0.55"/><circle cx="290.1" cy="51.1" r="0.55"/><circle cx="285.9" cy="39.7" r="0.55"/><circle cx="291.1" cy="43.3" r="0.55"/><circle cx="290.1" cy="51.4" r="0.55"/><circle cx="291.3" cy="47.9" r="0.55"/><circle cx="286.0" cy="60.1" r="0.55"/><circle cx="277.2" cy="44.3" r="0.55"/><circle cx="284.3" cy="51.7" r="0.55"/><circle cx="286.9" cy="52.4" r="0.55"/><circle cx="285.6" cy="49.7" r="0.55"/><circle cx="288.8" cy="65.2" r="0.55"/><circle cx="286.0" cy="49.8" r="0.55"/><circle cx="293.9" cy="50.2" r="0.55"/><circle cx="290.9" cy="53.1" r="0.55"/><circle cx="280.9" cy="59.7" r="0.55"/><circle cx="293.7" cy="47.0" r="0.55"/><circle cx="282.4" cy="39.3" r="0.55"/><circle cx="287.9" cy="48.9" r="0.55"/><circle cx="280.6" cy="55.0" r="0.55"/><circle cx="284.5" cy="56.0" r="0.55"/><circle cx="287.4" cy="55.0" r="0.55"/><circle cx="294.6" cy="53.7" r="0.55"/><circle cx="293.9" cy="61.1" r="0.55"/><circle cx="286.2" cy="51.5" r="0.55"/><circle cx="283.9" cy="50.3" r="0.55"/><circle cx="295.2" cy="58.7" r="0.55"/><circle cx="292.7" cy="51.4" r="0.55"/><circle cx="291.8" cy="67.1" r="0.55"/><circle cx="289.4" cy="54.9" r="0.55"/><circle cx="290.1" cy="39.6" r="0.55"/><circle cx="284.0" cy="47.5" r="0.55"/><circle cx="282.1" cy="59.6" r="0.55"/><circle cx="289.0" cy="52.2" r="0.55"/><circle cx="293.6" cy="51.3" r="0.55"/><circle cx="287.6" cy="58.1" r="0.55"/><circle cx="292.2" cy="48.6" r="0.55"/><circle cx="284.2" cy="50.0" r="0.55"/><circle cx="286.0" cy="53.6" r="0.55"/><circle cx="289.5" cy="57.6" r="0.55"/><circle cx="292.2" cy="54.1" r="0.55"/><circle cx="285.8" cy="56.8" r="0.55"/><circle cx="289.2" cy="62.4" r="0.55"/><circle cx="278.8" cy="48.0" r="0.55"/><circle cx="286.9" cy="50.6" r="0.55"/><circle cx="289.9" cy="49.4" r="0.55"/><circle cx="289.8" cy="52.8" r="0.55"/><circle cx="287.2" cy="57.5" r="0.55"/><circle cx="289.4" cy="65.4" r="0.55"/><circle cx="281.9" cy="44.4" r="0.55"/><circle cx="284.5" cy="55.3" r="0.55"/><circle cx="282.6" cy="46.2" r="0.55"/><circle cx="288.2" cy="53.2" r="0.55"/><circle cx="285.3" cy="46.7" r="0.55"/><circle cx="286.4" cy="42.6" r="0.55"/><circle cx="284.1" cy="41.5" r="0.55"/><circle cx="288.5" cy="47.6" r="0.55"/><circle cx="294.1" cy="56.7" r="0.55"/><circle cx="290.2" cy="48.8" r="0.55"/><circle cx="291.1" cy="56.0" r="0.55"/><circle cx="285.3" cy="44.2" r="0.55"/><circle cx="292.9" cy="42.1" r="0.55"/><circle cx="288.9" cy="44.8" r="0.55"/><circle cx="290.5" cy="47.3" r="0.55"/><circle cx="290.2" cy="50.6" r="0.55"/><circle cx="286.6" cy="49.5" r="0.55"/><circle cx="285.4" cy="39.6" r="0.55"/><circle cx="294.9" cy="54.8" r="0.55"/><circle cx="289.7" cy="54.7" r="0.55"/><circle cx="289.1" cy="58.3" r="0.55"/><circle cx="292.2" cy="49.4" r="0.55"/><circle cx="285.2" cy="43.8" r="0.55"/><circle cx="280.5" cy="50.2" r="0.55"/><circle cx="282.9" cy="55.2" r="0.55"/><circle cx="282.9" cy="47.8" r="0.55"/><circle cx="278.8" cy="43.2" r="0.55"/><circle cx="287.8" cy="54.5" r="0.55"/><circle cx="291.7" cy="67.3" r="0.55"/><circle cx="280.0" cy="47.1" r="0.55"/><circle cx="281.8" cy="56.6" r="0.55"/><circle cx="289.2" cy="55.7" r="0.55"/><circle cx="292.0" cy="44.9" r="0.55"/><circle cx="293.9" cy="43.5" r="0.55"/><circle cx="294.8" cy="47.6" r="0.55"/><circle cx="290.2" cy="49.1" r="0.55"/><circle cx="282.1" cy="44.7" r="0.55"/><circle cx="276.1" cy="43.4" r="0.55"/><circle cx="284.0" cy="50.7" r="0.55"/><circle cx="290.2" cy="60.0" r="0.55"/><circle cx="286.0" cy="43.8" r="0.55"/><circle cx="284.3" cy="43.5" r="0.55"/><circle cx="294.5" cy="55.0" r="0.55"/><circle cx="290.9" cy="56.4" r="0.55"/><circle cx="283.3" cy="47.4" r="0.55"/><circle cx="291.1" cy="51.8" r="0.55"/><circle cx="287.2" cy="59.7" r="0.55"/><circle cx="288.8" cy="59.3" r="0.55"/><circle cx="288.7" cy="54.4" r="0.55"/><circle cx="293.8" cy="53.7" r="0.55"/><circle cx="283.8" cy="57.5" r="0.55"/><circle cx="293.5" cy="45.8" r="0.55"/><circle cx="291.9" cy="52.7" r="0.55"/><circle cx="283.6" cy="43.9" r="0.55"/><circle cx="288.1" cy="56.1" r="0.55"/><circle cx="284.9" cy="53.8" r="0.55"/><circle cx="290.2" cy="53.5" r="0.55"/><circle cx="284.3" cy="41.8" r="0.55"/><circle cx="283.7" cy="45.5" r="0.55"/><circle cx="287.2" cy="51.6" r="0.55"/><circle cx="289.0" cy="47.0" r="0.55"/><circle cx="290.0" cy="55.5" r="0.55"/><circle cx="285.5" cy="50.6" r="0.55"/><circle cx="290.4" cy="47.9" r="0.55"/><circle cx="289.9" cy="40.6" r="0.55"/><circle cx="285.1" cy="57.7" r="0.55"/><circle cx="284.9" cy="45.2" r="0.55"/><circle cx="286.8" cy="48.3" r="0.55"/><circle cx="279.1" cy="55.8" r="0.55"/><circle cx="291.0" cy="53.1" r="0.55"/><circle cx="295.4" cy="58.6" r="0.55"/><circle cx="287.1" cy="58.0" r="0.55"/><circle cx="286.8" cy="44.4" r="0.55"/><circle cx="285.4" cy="49.1" r="0.55"/><circle cx="286.6" cy="55.4" r="0.55"/><circle cx="286.9" cy="53.7" r="0.55"/><circle cx="291.3" cy="57.9" r="0.55"/><circle cx="286.2" cy="42.6" r="0.55"/><circle cx="288.2" cy="53.0" r="0.55"/><circle cx="286.1" cy="51.9" r="0.55"/><circle cx="290.7" cy="55.6" r="0.55"/><circle cx="287.2" cy="52.8" r="0.55"/><circle cx="292.9" cy="55.9" r="0.55"/><circle cx="283.8" cy="54.4" r="0.55"/><circle cx="277.3" cy="47.5" r="0.55"/><circle cx="283.0" cy="52.4" r="0.55"/><circle cx="283.7" cy="60.3" r="0.55"/><circle cx="289.8" cy="56.7" r="0.55"/><circle cx="292.7" cy="40.5" r="0.55"/><circle cx="288.1" cy="51.1" r="0.55"/><circle cx="287.2" cy="45.0" r="0.55"/><circle cx="285.3" cy="55.3" r="0.55"/><circle cx="287.4" cy="67.3" r="0.55"/><circle cx="287.3" cy="50.3" r="0.55"/><circle cx="291.8" cy="53.5" r="0.55"/><circle cx="293.8" cy="53.8" r="0.55"/><circle cx="287.7" cy="51.2" r="0.55"/><circle cx="286.0" cy="62.9" r="0.55"/><circle cx="287.8" cy="49.2" r="0.55"/><circle cx="279.3" cy="48.0" r="0.55"/><circle cx="286.5" cy="39.5" r="0.55"/><circle cx="293.4" cy="58.2" r="0.55"/><circle cx="291.5" cy="44.1" r="0.55"/><circle cx="287.0" cy="41.7" r="0.55"/><circle cx="281.3" cy="40.5" r="0.55"/><circle cx="284.7" cy="41.9" r="0.55"/><circle cx="291.9" cy="56.9" r="0.55"/><circle cx="282.3" cy="45.0" r="0.55"/><circle cx="290.2" cy="43.8" r="0.55"/><circle cx="284.5" cy="50.1" r="0.55"/><circle cx="287.9" cy="49.2" r="0.55"/><circle cx="292.0" cy="45.5" r="0.55"/><circle cx="281.5" cy="56.3" r="0.55"/><circle cx="286.8" cy="61.5" r="0.55"/><circle cx="291.6" cy="46.8" r="0.55"/><circle cx="289.7" cy="54.6" r="0.55"/><circle cx="290.2" cy="65.8" r="0.55"/><circle cx="285.1" cy="63.1" r="0.55"/><circle cx="293.2" cy="51.4" r="0.55"/><circle cx="288.4" cy="55.4" r="0.55"/><circle cx="284.1" cy="52.4" r="0.55"/><circle cx="291.9" cy="52.5" r="0.55"/><circle cx="289.5" cy="52.6" r="0.55"/><circle cx="279.1" cy="39.2" r="0.55"/><circle cx="288.4" cy="55.3" r="0.55"/><circle cx="290.2" cy="54.9" r="0.55"/><circle cx="289.8" cy="58.5" r="0.55"/><circle cx="295.2" cy="52.1" r="0.55"/><circle cx="288.0" cy="59.3" r="0.55"/><circle cx="295.0" cy="40.2" r="0.55"/><circle cx="284.2" cy="48.3" r="0.55"/><circle cx="291.3" cy="40.2" r="0.55"/><circle cx="278.1" cy="42.3" r="0.55"/><circle cx="294.2" cy="44.9" r="0.55"/><circle cx="294.3" cy="61.4" r="0.55"/><circle cx="276.5" cy="43.3" r="0.55"/><circle cx="288.8" cy="53.0" r="0.55"/><circle cx="290.2" cy="54.4" r="0.55"/><circle cx="279.0" cy="51.1" r="0.55"/><circle cx="287.2" cy="57.7" r="0.55"/><circle cx="288.6" cy="60.9" r="0.55"/><circle cx="285.4" cy="48.4" r="0.55"/><circle cx="292.8" cy="51.1" r="0.55"/><circle cx="288.2" cy="42.1" r="0.55"/><circle cx="285.2" cy="54.2" r="0.55"/><circle cx="294.5" cy="55.7" r="0.55"/><circle cx="285.1" cy="45.3" r="0.55"/><circle cx="290.3" cy="46.9" r="0.55"/><circle cx="291.8" cy="44.2" r="0.55"/><circle cx="293.3" cy="52.3" r="0.55"/><circle cx="295.5" cy="55.7" r="0.55"/><circle cx="292.0" cy="49.9" r="0.55"/><circle cx="287.4" cy="58.5" r="0.55"/><circle cx="286.9" cy="62.9" r="0.55"/><circle cx="276.6" cy="51.8" r="0.55"/><circle cx="289.4" cy="55.2" r="0.55"/><circle cx="295.1" cy="42.5" r="0.55"/><circle cx="280.4" cy="56.0" r="0.55"/><circle cx="285.7" cy="46.5" r="0.55"/><circle cx="283.5" cy="59.7" r="0.55"/><circle cx="291.2" cy="60.4" r="0.55"/><circle cx="292.5" cy="62.3" r="0.55"/><circle cx="279.6" cy="52.9" r="0.55"/><circle cx="288.9" cy="50.3" r="0.55"/><circle cx="284.8" cy="51.1" r="0.55"/><circle cx="294.8" cy="56.1" r="0.55"/><circle cx="288.6" cy="47.7" r="0.55"/><circle cx="285.3" cy="49.8" r="0.55"/><circle cx="288.6" cy="59.3" r="0.55"/><circle cx="285.6" cy="51.3" r="0.55"/><circle cx="282.4" cy="47.7" r="0.55"/><circle cx="285.2" cy="56.4" r="0.55"/><circle cx="277.3" cy="44.3" r="0.55"/><circle cx="288.6" cy="51.9" r="0.55"/><circle cx="292.1" cy="56.9" r="0.55"/><circle cx="280.7" cy="43.8" r="0.55"/><circle cx="280.1" cy="41.9" r="0.55"/><circle cx="287.3" cy="49.6" r="0.55"/><circle cx="292.6" cy="54.5" r="0.55"/><circle cx="286.6" cy="49.5" r="0.55"/><circle cx="290.2" cy="47.4" r="0.55"/><circle cx="285.6" cy="45.5" r="0.55"/><circle cx="291.6" cy="49.9" r="0.55"/><circle cx="293.0" cy="58.0" r="0.55"/><circle cx="288.9" cy="39.2" r="0.55"/><circle cx="277.1" cy="41.5" r="0.55"/><circle cx="295.4" cy="50.4" r="0.55"/><circle cx="289.9" cy="58.1" r="0.55"/><circle cx="290.8" cy="48.9" r="0.55"/><circle cx="287.7" cy="48.7" r="0.55"/><circle cx="288.8" cy="58.4" r="0.55"/><circle cx="290.6" cy="51.9" r="0.55"/><circle cx="285.7" cy="47.5" r="0.55"/><circle cx="284.8" cy="52.2" r="0.55"/><circle cx="287.1" cy="53.8" r="0.55"/><circle cx="285.9" cy="62.8" r="0.55"/><circle cx="291.6" cy="48.9" r="0.55"/><circle cx="293.0" cy="51.5" r="0.55"/><circle cx="288.4" cy="54.2" r="0.55"/><circle cx="289.9" cy="51.2" r="0.55"/><circle cx="285.9" cy="59.0" r="0.55"/><circle cx="292.3" cy="56.9" r="0.55"/><circle cx="285.0" cy="52.8" r="0.55"/><circle cx="283.1" cy="52.5" r="0.55"/><circle cx="281.5" cy="54.0" r="0.55"/><circle cx="293.4" cy="42.7" r="0.55"/><circle cx="290.0" cy="45.0" r="0.55"/><circle cx="293.2" cy="61.5" r="0.55"/><circle cx="284.9" cy="55.9" r="0.55"/><circle cx="288.1" cy="60.3" r="0.55"/><circle cx="284.0" cy="63.9" r="0.55"/><circle cx="278.3" cy="49.7" r="0.55"/><circle cx="281.2" cy="59.3" r="0.55"/><circle cx="284.9" cy="48.1" r="0.55"/><circle cx="294.3" cy="41.8" r="0.55"/><circle cx="293.0" cy="40.9" r="0.55"/><circle cx="277.1" cy="47.9" r="0.55"/><circle cx="292.7" cy="58.5" r="0.55"/><circle cx="288.0" cy="59.0" r="0.55"/><circle cx="287.4" cy="59.2" r="0.55"/><circle cx="291.3" cy="56.3" r="0.55"/><circle cx="294.6" cy="53.5" r="0.55"/><circle cx="280.9" cy="50.5" r="0.55"/><circle cx="282.5" cy="56.0" r="0.55"/><circle cx="280.1" cy="52.7" r="0.55"/><circle cx="286.2" cy="54.5" r="0.55"/><circle cx="283.4" cy="49.4" r="0.55"/><circle cx="283.6" cy="45.3" r="0.55"/><circle cx="286.2" cy="47.6" r="0.55"/><circle cx="287.8" cy="46.8" r="0.55"/><circle cx="278.1" cy="42.4" r="0.55"/><circle cx="290.9" cy="55.0" r="0.55"/><circle cx="289.3" cy="56.0" r="0.55"/><circle cx="293.1" cy="45.5" r="0.55"/><circle cx="287.6" cy="66.5" r="0.55"/><circle cx="291.3" cy="44.9" r="0.55"/><circle cx="285.4" cy="53.6" r="0.55"/><circle cx="291.3" cy="55.9" r="0.55"/><circle cx="291.1" cy="55.4" r="0.55"/><circle cx="282.1" cy="56.5" r="0.55"/><circle cx="287.1" cy="47.4" r="0.55"/><circle cx="286.3" cy="48.6" r="0.55"/><circle cx="286.2" cy="42.2" r="0.55"/><circle cx="290.1" cy="51.1" r="0.55"/><circle cx="291.0" cy="45.5" r="0.55"/><circle cx="289.5" cy="58.5" r="0.55"/><circle cx="286.1" cy="46.9" r="0.55"/><circle cx="287.5" cy="54.2" r="0.55"/><circle cx="289.2" cy="51.4" r="0.55"/><circle cx="276.4" cy="44.8" r="0.55"/><circle cx="286.3" cy="51.4" r="0.55"/><circle cx="293.4" cy="48.1" r="0.55"/><circle cx="285.6" cy="46.5" r="0.55"/><circle cx="282.3" cy="55.2" r="0.55"/><circle cx="291.9" cy="53.2" r="0.55"/><circle cx="282.5" cy="40.8" r="0.55"/><circle cx="289.5" cy="45.7" r="0.55"/><circle cx="285.0" cy="50.4" r="0.55"/><circle cx="287.5" cy="58.6" r="0.55"/><circle cx="294.5" cy="52.0" r="0.55"/><circle cx="287.9" cy="49.7" r="0.55"/><circle cx="291.1" cy="47.1" r="0.55"/><circle cx="291.6" cy="48.6" r="0.55"/><circle cx="276.7" cy="39.9" r="0.55"/><circle cx="288.3" cy="46.2" r="0.55"/><circle cx="287.1" cy="65.1" r="0.55"/><circle cx="292.7" cy="46.7" r="0.55"/><circle cx="295.2" cy="49.4" r="0.55"/><circle cx="280.5" cy="56.1" r="0.55"/><circle cx="290.7" cy="59.5" r="0.55"/><circle cx="294.5" cy="56.5" r="0.55"/><circle cx="286.5" cy="55.7" r="0.55"/><circle cx="286.6" cy="57.9" r="0.55"/><circle cx="291.9" cy="58.9" r="0.55"/><circle cx="283.3" cy="59.4" r="0.55"/><circle cx="295.0" cy="49.4" r="0.55"/><circle cx="285.9" cy="55.3" r="0.55"/><circle cx="283.3" cy="54.7" r="0.55"/><circle cx="288.3" cy="51.3" r="0.55"/><circle cx="295.2" cy="48.6" r="0.55"/><circle cx="285.8" cy="47.7" r="0.55"/><circle cx="288.8" cy="53.0" r="0.55"/><circle cx="295.1" cy="55.8" r="0.55"/><circle cx="288.6" cy="47.6" r="0.55"/><circle cx="286.6" cy="56.3" r="0.55"/><circle cx="288.5" cy="56.7" r="0.55"/><circle cx="287.0" cy="56.5" r="0.55"/><circle cx="280.6" cy="44.1" r="0.55"/><circle cx="283.3" cy="39.6" r="0.55"/><circle cx="285.4" cy="62.2" r="0.55"/><circle cx="287.0" cy="59.3" r="0.55"/><circle cx="290.6" cy="54.2" r="0.55"/><circle cx="289.5" cy="67.7" r="0.55"/><circle cx="286.6" cy="40.0" r="0.55"/><circle cx="295.0" cy="53.5" r="0.55"/><circle cx="288.9" cy="46.4" r="0.55"/><circle cx="293.5" cy="47.9" r="0.55"/><circle cx="294.0" cy="49.1" r="0.55"/><circle cx="290.9" cy="50.7" r="0.55"/><circle cx="283.9" cy="62.0" r="0.55"/><circle cx="277.4" cy="46.8" r="0.55"/><circle cx="288.9" cy="44.6" r="0.55"/><circle cx="294.3" cy="45.6" r="0.55"/><circle cx="284.2" cy="51.4" r="0.55"/><circle cx="287.1" cy="67.7" r="0.55"/><circle cx="291.2" cy="57.9" r="0.55"/><circle cx="285.1" cy="45.2" r="0.55"/><circle cx="288.3" cy="53.9" r="0.55"/><circle cx="285.9" cy="49.1" r="0.55"/><circle cx="290.5" cy="57.9" r="0.55"/><circle cx="287.3" cy="57.0" r="0.55"/><circle cx="283.2" cy="58.3" r="0.55"/><circle cx="293.8" cy="47.5" r="0.55"/><circle cx="283.5" cy="55.6" r="0.55"/><circle cx="286.5" cy="41.1" r="0.55"/><circle cx="285.6" cy="50.2" r="0.55"/><circle cx="288.5" cy="53.7" r="0.55"/><circle cx="292.8" cy="56.2" r="0.55"/><circle cx="292.6" cy="52.3" r="0.55"/><circle cx="293.0" cy="53.2" r="0.55"/><circle cx="294.0" cy="54.0" r="0.55"/><circle cx="283.1" cy="57.7" r="0.55"/><circle cx="291.9" cy="45.9" r="0.55"/><circle cx="292.1" cy="51.9" r="0.55"/><circle cx="293.8" cy="48.7" r="0.55"/><circle cx="290.3" cy="45.4" r="0.55"/><circle cx="291.4" cy="50.5" r="0.55"/><circle cx="291.6" cy="58.9" r="0.55"/><circle cx="288.8" cy="60.9" r="0.55"/><circle cx="282.4" cy="47.0" r="0.55"/><circle cx="278.9" cy="50.5" r="0.55"/><circle cx="288.6" cy="39.6" r="0.55"/><circle cx="290.2" cy="60.2" r="0.55"/><circle cx="291.4" cy="46.3" r="0.55"/><circle cx="285.7" cy="54.4" r="0.55"/><circle cx="286.4" cy="49.6" r="0.55"/><circle cx="287.6" cy="55.5" r="0.55"/><circle cx="283.0" cy="49.2" r="0.55"/><circle cx="287.3" cy="49.2" r="0.55"/><circle cx="295.5" cy="59.5" r="0.55"/><circle cx="289.3" cy="45.6" r="0.55"/><circle cx="282.5" cy="49.6" r="0.55"/><circle cx="288.0" cy="51.1" r="0.55"/><circle cx="281.4" cy="48.2" r="0.55"/><circle cx="285.8" cy="52.3" r="0.55"/><circle cx="287.9" cy="62.0" r="0.55"/><circle cx="284.6" cy="55.0" r="0.55"/><circle cx="284.7" cy="45.8" r="0.55"/><circle cx="288.9" cy="46.4" r="0.55"/><circle cx="284.9" cy="45.9" r="0.55"/><circle cx="285.8" cy="46.1" r="0.55"/><circle cx="277.4" cy="42.1" r="0.55"/><circle cx="290.9" cy="43.0" r="0.55"/><circle cx="294.2" cy="48.7" r="0.55"/><circle cx="292.5" cy="47.6" r="0.55"/><circle cx="288.3" cy="49.7" r="0.55"/><circle cx="294.7" cy="48.7" r="0.55"/><circle cx="289.2" cy="42.9" r="0.55"/><circle cx="293.4" cy="42.7" r="0.55"/><circle cx="287.6" cy="51.5" r="0.55"/><circle cx="286.1" cy="58.0" r="0.55"/><circle cx="288.7" cy="55.1" r="0.55"/><circle cx="285.5" cy="58.2" r="0.55"/><circle cx="285.7" cy="43.2" r="0.55"/><circle cx="283.2" cy="52.8" r="0.55"/><circle cx="288.1" cy="50.2" r="0.55"/><circle cx="284.9" cy="55.2" r="0.55"/><circle cx="291.8" cy="48.7" r="0.55"/><circle cx="290.5" cy="41.7" r="0.55"/><circle cx="288.4" cy="44.2" r="0.55"/><circle cx="291.1" cy="49.6" r="0.55"/><circle cx="293.1" cy="52.2" r="0.55"/><circle cx="289.1" cy="55.8" r="0.55"/><circle cx="291.1" cy="42.8" r="0.55"/><circle cx="289.9" cy="47.3" r="0.55"/><circle cx="288.0" cy="56.5" r="0.55"/><circle cx="290.0" cy="49.2" r="0.55"/><circle cx="293.3" cy="49.8" r="0.55"/><circle cx="288.7" cy="47.2" r="0.55"/><circle cx="292.0" cy="45.0" r="0.55"/><circle cx="285.2" cy="51.7" r="0.55"/><circle cx="290.1" cy="54.7" r="0.55"/><circle cx="294.7" cy="44.4" r="0.55"/><circle cx="280.1" cy="42.8" r="0.55"/><circle cx="278.7" cy="51.2" r="0.55"/><circle cx="284.8" cy="61.4" r="0.55"/><circle cx="292.7" cy="40.2" r="0.55"/><circle cx="288.4" cy="51.5" r="0.55"/><circle cx="282.5" cy="59.2" r="0.55"/><circle cx="288.4" cy="55.7" r="0.55"/><circle cx="294.4" cy="51.9" r="0.55"/><circle cx="277.3" cy="44.5" r="0.55"/><circle cx="295.3" cy="42.2" r="0.55"/><circle cx="288.4" cy="67.6" r="0.55"/><circle cx="289.2" cy="58.1" r="0.55"/><circle cx="290.5" cy="44.8" r="0.55"/><circle cx="281.7" cy="54.2" r="0.55"/><circle cx="286.3" cy="48.7" r="0.55"/><circle cx="293.1" cy="64.1" r="0.55"/><circle cx="295.2" cy="49.0" r="0.55"/><circle cx="288.6" cy="65.1" r="0.55"/><circle cx="283.0" cy="68.0" r="0.55"/><circle cx="280.7" cy="44.5" r="0.55"/><circle cx="276.3" cy="40.9" r="0.55"/><circle cx="284.9" cy="58.6" r="0.55"/><circle cx="283.3" cy="52.5" r="0.55"/><circle cx="293.7" cy="58.2" r="0.55"/><circle cx="295.2" cy="40.1" r="0.55"/><circle cx="293.0" cy="48.8" r="0.55"/><circle cx="277.7" cy="45.9" r="0.55"/><circle cx="286.5" cy="55.3" r="0.55"/><circle cx="277.9" cy="49.9" r="0.55"/><circle cx="292.5" cy="47.3" r="0.55"/><circle cx="286.4" cy="53.4" r="0.55"/><circle cx="288.1" cy="52.2" r="0.55"/><circle cx="291.3" cy="54.1" r="0.55"/><circle cx="283.7" cy="46.5" r="0.55"/><circle cx="293.3" cy="64.0" r="0.55"/><circle cx="282.0" cy="46.3" r="0.55"/><circle cx="287.8" cy="56.0" r="0.55"/><circle cx="290.6" cy="42.3" r="0.55"/><circle cx="290.6" cy="54.2" r="0.55"/><circle cx="293.9" cy="39.3" r="0.55"/><circle cx="288.5" cy="59.4" r="0.55"/><circle cx="287.8" cy="45.6" r="0.55"/><circle cx="288.6" cy="60.7" r="0.55"/><circle cx="290.7" cy="56.3" r="0.55"/><circle cx="294.5" cy="54.6" r="0.55"/><circle cx="286.8" cy="67.3" r="0.55"/><circle cx="283.5" cy="52.7" r="0.55"/><circle cx="290.7" cy="51.7" r="0.55"/><circle cx="291.3" cy="53.8" r="0.55"/><circle cx="282.6" cy="49.3" r="0.55"/><circle cx="287.9" cy="45.9" r="0.55"/><circle cx="290.2" cy="56.9" r="0.55"/><circle cx="293.8" cy="58.7" r="0.55"/><circle cx="293.2" cy="51.2" r="0.55"/><circle cx="289.3" cy="57.2" r="0.55"/><circle cx="278.7" cy="48.7" r="0.55"/><circle cx="291.2" cy="53.0" r="0.55"/><circle cx="277.4" cy="51.2" r="0.55"/><circle cx="292.8" cy="49.3" r="0.55"/><circle cx="285.1" cy="43.8" r="0.55"/><circle cx="285.8" cy="56.7" r="0.55"/><circle cx="286.3" cy="50.0" r="0.55"/><circle cx="285.5" cy="46.2" r="0.55"/><circle cx="283.9" cy="47.1" r="0.55"/><circle cx="290.5" cy="56.1" r="0.55"/><circle cx="294.0" cy="50.5" r="0.55"/><circle cx="282.6" cy="53.5" r="0.55"/><circle cx="278.5" cy="45.0" r="0.55"/><circle cx="287.8" cy="59.2" r="0.55"/><circle cx="294.6" cy="60.9" r="0.55"/><circle cx="289.6" cy="48.9" r="0.55"/><circle cx="292.2" cy="63.6" r="0.55"/><circle cx="290.8" cy="61.2" r="0.55"/><circle cx="292.1" cy="48.9" r="0.55"/><circle cx="288.3" cy="46.1" r="0.55"/><circle cx="293.1" cy="66.6" r="0.55"/><circle cx="289.6" cy="58.7" r="0.55"/><circle cx="291.7" cy="51.9" r="0.55"/><circle cx="290.7" cy="59.7" r="0.55"/><circle cx="289.3" cy="61.1" r="0.55"/><circle cx="279.9" cy="45.9" r="0.55"/><circle cx="292.7" cy="52.6" r="0.55"/><circle cx="291.5" cy="58.2" r="0.55"/><circle cx="292.0" cy="55.9" r="0.55"/><circle cx="293.6" cy="49.3" r="0.55"/><circle cx="292.2" cy="45.2" r="0.55"/><circle cx="288.6" cy="44.7" r="0.55"/><circle cx="289.6" cy="49.7" r="0.55"/><circle cx="292.1" cy="59.1" r="0.55"/><circle cx="285.7" cy="51.6" r="0.55"/><circle cx="288.7" cy="55.3" r="0.55"/><circle cx="283.8" cy="58.2" r="0.55"/><circle cx="295.1" cy="53.4" r="0.55"/><circle cx="294.1" cy="47.9" r="0.55"/><circle cx="288.6" cy="54.1" r="0.55"/><circle cx="288.8" cy="56.4" r="0.55"/><circle cx="281.2" cy="45.6" r="0.55"/><circle cx="290.6" cy="50.0" r="0.55"/><circle cx="279.3" cy="42.4" r="0.55"/><circle cx="288.8" cy="55.1" r="0.55"/><circle cx="292.8" cy="54.3" r="0.55"/><circle cx="293.4" cy="54.5" r="0.55"/><circle cx="294.1" cy="52.6" r="0.55"/><circle cx="289.2" cy="50.7" r="0.55"/><circle cx="292.4" cy="61.2" r="0.55"/><circle cx="291.7" cy="49.7" r="0.55"/><circle cx="289.1" cy="47.5" r="0.55"/><circle cx="284.5" cy="54.1" r="0.55"/><circle cx="290.0" cy="48.7" r="0.55"/><circle cx="284.6" cy="47.2" r="0.55"/><circle cx="286.2" cy="54.9" r="0.55"/><circle cx="291.7" cy="47.5" r="0.55"/><circle cx="294.3" cy="54.4" r="0.55"/><circle cx="284.6" cy="60.6" r="0.55"/><circle cx="277.2" cy="48.3" r="0.55"/><circle cx="293.0" cy="49.6" r="0.55"/><circle cx="288.2" cy="52.5" r="0.55"/><circle cx="290.8" cy="46.3" r="0.55"/><circle cx="288.1" cy="46.3" r="0.55"/><circle cx="287.3" cy="66.8" r="0.55"/><circle cx="289.3" cy="42.6" r="0.55"/><circle cx="285.4" cy="56.9" r="0.55"/><circle cx="287.1" cy="50.0" r="0.55"/><circle cx="289.4" cy="47.3" r="0.55"/><circle cx="290.2" cy="43.1" r="0.55"/><circle cx="294.7" cy="58.1" r="0.55"/><circle cx="291.5" cy="55.2" r="0.55"/><circle cx="285.2" cy="49.4" r="0.55"/><circle cx="294.0" cy="47.2" r="0.55"/><circle cx="287.7" cy="45.1" r="0.55"/><circle cx="290.6" cy="52.4" r="0.55"/><circle cx="294.4" cy="41.4" r="0.55"/><circle cx="291.3" cy="51.7" r="0.55"/><circle cx="290.1" cy="49.0" r="0.55"/><circle cx="285.4" cy="56.9" r="0.55"/><circle cx="289.4" cy="59.7" r="0.55"/><circle cx="288.3" cy="49.9" r="0.55"/><circle cx="290.3" cy="43.4" r="0.55"/><circle cx="288.6" cy="50.7" r="0.55"/><circle cx="293.9" cy="48.7" r="0.55"/><circle cx="289.5" cy="47.9" r="0.55"/><circle cx="289.9" cy="42.0" r="0.55"/><circle cx="286.1" cy="52.2" r="0.55"/><circle cx="292.1" cy="59.2" r="0.55"/><circle cx="292.8" cy="49.5" r="0.55"/><circle cx="293.9" cy="43.7" r="0.55"/><circle cx="294.0" cy="46.1" r="0.55"/><circle cx="289.5" cy="41.7" r="0.55"/><circle cx="289.2" cy="42.6" r="0.55"/><circle cx="295.0" cy="53.9" r="0.55"/><circle cx="293.7" cy="46.8" r="0.55"/><circle cx="290.0" cy="56.7" r="0.55"/><circle cx="276.5" cy="44.7" r="0.55"/><circle cx="278.3" cy="64.8" r="0.55"/><circle cx="288.9" cy="42.1" r="0.55"/><circle cx="290.6" cy="57.5" r="0.55"/><circle cx="283.7" cy="60.2" r="0.55"/><circle cx="287.3" cy="44.8" r="0.55"/><circle cx="287.6" cy="60.2" r="0.55"/><circle cx="285.0" cy="52.6" r="0.55"/><circle cx="284.3" cy="48.8" r="0.55"/><circle cx="286.9" cy="57.7" r="0.55"/><circle cx="295.2" cy="55.4" r="0.55"/><circle cx="291.5" cy="66.1" r="0.55"/><circle cx="291.9" cy="46.8" r="0.55"/><circle cx="281.1" cy="45.9" r="0.55"/><circle cx="287.9" cy="59.5" r="0.55"/><circle cx="276.4" cy="48.6" r="0.55"/><circle cx="283.2" cy="50.1" r="0.55"/><circle cx="293.1" cy="42.3" r="0.55"/><circle cx="290.0" cy="63.0" r="0.55"/><circle cx="288.2" cy="52.4" r="0.55"/><circle cx="287.4" cy="59.6" r="0.55"/><circle cx="289.5" cy="61.9" r="0.55"/><circle cx="283.8" cy="61.7" r="0.55"/><circle cx="290.0" cy="47.8" r="0.55"/><circle cx="285.9" cy="54.3" r="0.55"/><circle cx="283.5" cy="49.2" r="0.55"/><circle cx="292.8" cy="54.7" r="0.55"/><circle cx="290.0" cy="53.4" r="0.55"/><circle cx="283.1" cy="52.5" r="0.55"/><circle cx="291.9" cy="46.6" r="0.55"/><circle cx="291.1" cy="51.4" r="0.55"/><circle cx="292.1" cy="56.2" r="0.55"/><circle cx="293.6" cy="45.6" r="0.55"/><circle cx="280.4" cy="51.3" r="0.55"/><circle cx="277.2" cy="42.4" r="0.55"/><circle cx="293.3" cy="54.6" r="0.55"/><circle cx="288.9" cy="63.5" r="0.55"/><circle cx="281.3" cy="45.7" r="0.55"/><circle cx="292.1" cy="59.3" r="0.55"/><circle cx="292.3" cy="45.1" r="0.55"/><circle cx="290.3" cy="40.8" r="0.55"/><circle cx="284.1" cy="52.8" r="0.55"/><circle cx="285.7" cy="49.2" r="0.55"/><circle cx="291.3" cy="49.2" r="0.55"/><circle cx="289.3" cy="52.9" r="0.55"/><circle cx="277.1" cy="56.7" r="0.55"/><circle cx="289.5" cy="54.4" r="0.55"/><circle cx="292.9" cy="50.8" r="0.55"/><circle cx="288.1" cy="40.2" r="0.55"/><circle cx="284.9" cy="39.5" r="0.55"/><circle cx="288.4" cy="40.2" r="0.55"/><circle cx="286.9" cy="54.5" r="0.55"/><circle cx="293.3" cy="44.9" r="0.55"/><circle cx="295.3" cy="51.2" r="0.55"/><circle cx="295.2" cy="40.0" r="0.55"/><circle cx="294.8" cy="47.3" r="0.55"/><circle cx="290.9" cy="50.8" r="0.55"/><circle cx="287.3" cy="54.3" r="0.55"/><circle cx="289.1" cy="48.8" r="0.55"/><circle cx="290.2" cy="55.9" r="0.55"/><circle cx="284.1" cy="51.6" r="0.55"/><circle cx="281.8" cy="46.3" r="0.55"/><circle cx="280.1" cy="47.0" r="0.55"/><circle cx="290.7" cy="51.9" r="0.55"/><circle cx="289.3" cy="49.7" r="0.55"/><circle cx="286.1" cy="60.3" r="0.55"/><circle cx="292.9" cy="54.5" r="0.55"/><circle cx="281.3" cy="65.3" r="0.55"/><circle cx="288.7" cy="53.7" r="0.55"/><circle cx="285.0" cy="56.4" r="0.55"/><circle cx="281.5" cy="47.1" r="0.55"/><circle cx="291.9" cy="50.9" r="0.55"/><circle cx="286.6" cy="55.9" r="0.55"/><circle cx="288.3" cy="56.7" r="0.55"/><circle cx="288.7" cy="48.0" r="0.55"/><circle cx="292.4" cy="46.1" r="0.55"/><circle cx="289.5" cy="55.9" r="0.55"/><circle cx="288.4" cy="42.6" r="0.55"/><circle cx="294.7" cy="55.0" r="0.55"/><circle cx="285.0" cy="46.1" r="0.55"/><circle cx="279.6" cy="56.3" r="0.55"/><circle cx="280.8" cy="59.5" r="0.55"/><circle cx="294.3" cy="48.8" r="0.55"/><circle cx="289.7" cy="54.8" r="0.55"/><circle cx="285.8" cy="50.9" r="0.55"/><circle cx="290.6" cy="52.8" r="0.55"/><circle cx="287.9" cy="58.7" r="0.55"/><circle cx="288.3" cy="51.7" r="0.55"/><circle cx="292.7" cy="44.8" r="0.55"/><circle cx="288.0" cy="51.3" r="0.55"/><circle cx="289.8" cy="44.7" r="0.55"/><circle cx="287.0" cy="56.0" r="0.55"/><circle cx="284.8" cy="52.4" r="0.55"/><circle cx="282.7" cy="54.3" r="0.55"/><circle cx="291.7" cy="49.9" r="0.55"/><circle cx="289.4" cy="53.4" r="0.55"/><circle cx="294.4" cy="52.6" r="0.55"/><circle cx="286.1" cy="45.9" r="0.55"/><circle cx="280.8" cy="42.7" r="0.55"/><circle cx="291.5" cy="40.6" r="0.55"/><circle cx="284.9" cy="40.0" r="0.55"/><circle cx="289.1" cy="55.0" r="0.55"/><circle cx="293.2" cy="56.9" r="0.55"/><circle cx="290.7" cy="49.4" r="0.55"/><circle cx="288.4" cy="57.6" r="0.55"/><circle cx="283.0" cy="57.7" r="0.55"/><circle cx="286.6" cy="52.9" r="0.55"/><circle cx="290.4" cy="50.3" r="0.55"/><circle cx="291.0" cy="44.7" r="0.55"/><circle cx="290.3" cy="62.4" r="0.55"/><circle cx="291.4" cy="57.5" r="0.55"/><circle cx="277.0" cy="50.6" r="0.55"/><circle cx="292.3" cy="66.9" r="0.55"/><circle cx="286.5" cy="46.9" r="0.55"/><circle cx="288.1" cy="55.5" r="0.55"/><circle cx="290.9" cy="51.7" r="0.55"/><circle cx="284.4" cy="55.6" r="0.55"/><circle cx="292.0" cy="58.9" r="0.55"/><circle cx="289.7" cy="44.9" r="0.55"/><circle cx="295.0" cy="51.7" r="0.55"/><circle cx="289.8" cy="51.4" r="0.55"/><circle cx="292.0" cy="47.5" r="0.55"/><circle cx="286.0" cy="58.7" r="0.55"/><circle cx="288.3" cy="59.0" r="0.55"/><circle cx="291.2" cy="46.0" r="0.55"/><circle cx="290.0" cy="42.3" r="0.55"/><circle cx="295.3" cy="49.1" r="0.55"/><circle cx="290.8" cy="50.7" r="0.55"/><circle cx="280.3" cy="39.3" r="0.55"/><circle cx="293.5" cy="42.5" r="0.55"/><circle cx="291.7" cy="50.2" r="0.55"/><circle cx="283.2" cy="61.2" r="0.55"/><circle cx="287.7" cy="59.6" r="0.55"/><circle cx="286.3" cy="51.7" r="0.55"/><circle cx="288.0" cy="55.1" r="0.55"/><circle cx="292.2" cy="48.3" r="0.55"/><circle cx="288.5" cy="52.6" r="0.55"/><circle cx="288.3" cy="51.1" r="0.55"/><circle cx="284.0" cy="44.9" r="0.55"/><circle cx="283.1" cy="59.0" r="0.55"/><circle cx="289.7" cy="48.8" r="0.55"/><circle cx="284.4" cy="46.9" r="0.55"/><circle cx="289.0" cy="49.3" r="0.55"/><circle cx="289.0" cy="53.2" r="0.55"/><circle cx="290.0" cy="46.1" r="0.55"/><circle cx="288.0" cy="53.1" r="0.55"/><circle cx="283.0" cy="56.0" r="0.55"/><circle cx="292.2" cy="53.0" r="0.55"/><circle cx="282.5" cy="43.0" r="0.55"/><circle cx="294.3" cy="46.3" r="0.55"/><circle cx="279.7" cy="63.0" r="0.55"/><circle cx="284.3" cy="47.0" r="0.55"/><circle cx="286.5" cy="53.7" r="0.55"/><circle cx="292.1" cy="58.8" r="0.55"/><circle cx="286.0" cy="56.6" r="0.55"/><circle cx="288.3" cy="47.6" r="0.55"/><circle cx="288.3" cy="68.1" r="0.55"/><circle cx="291.8" cy="66.2" r="0.55"/><circle cx="289.4" cy="44.9" r="0.55"/><circle cx="286.6" cy="56.5" r="0.55"/><circle cx="289.0" cy="53.0" r="0.55"/><circle cx="287.9" cy="45.4" r="0.55"/><circle cx="289.9" cy="47.8" r="0.55"/><circle cx="294.2" cy="46.7" r="0.55"/><circle cx="281.7" cy="48.8" r="0.55"/><circle cx="290.3" cy="47.5" r="0.55"/><circle cx="291.2" cy="43.7" r="0.55"/><circle cx="286.9" cy="54.7" r="0.55"/><circle cx="292.0" cy="42.1" r="0.55"/><circle cx="295.4" cy="49.1" r="0.55"/><circle cx="284.6" cy="42.9" r="0.55"/><circle cx="286.9" cy="57.4" r="0.55"/><circle cx="294.2" cy="56.6" r="0.55"/><circle cx="287.7" cy="56.6" r="0.55"/><circle cx="291.8" cy="49.5" r="0.55"/><circle cx="292.6" cy="55.0" r="0.55"/><circle cx="290.0" cy="48.6" r="0.55"/><circle cx="289.3" cy="40.2" r="0.55"/><circle cx="290.2" cy="44.1" r="0.55"/><circle cx="276.9" cy="48.5" r="0.55"/><circle cx="292.4" cy="42.1" r="0.55"/><circle cx="294.8" cy="50.5" r="0.55"/><circle cx="285.7" cy="57.2" r="0.55"/><circle cx="283.4" cy="62.5" r="0.55"/><circle cx="279.6" cy="47.8" r="0.55"/><circle cx="279.9" cy="43.3" r="0.55"/><circle cx="288.4" cy="62.1" r="0.55"/><circle cx="283.6" cy="61.3" r="0.55"/><circle cx="280.1" cy="47.8" r="0.55"/><circle cx="289.1" cy="50.5" r="0.55"/><circle cx="289.5" cy="43.0" r="0.55"/><circle cx="293.6" cy="62.5" r="0.55"/><circle cx="291.4" cy="64.9" r="0.55"/><circle cx="287.5" cy="46.4" r="0.55"/><circle cx="291.6" cy="55.9" r="0.55"/><circle cx="286.3" cy="54.6" r="0.55"/><circle cx="291.7" cy="63.0" r="0.55"/><circle cx="286.4" cy="48.1" r="0.55"/><circle cx="283.2" cy="64.6" r="0.55"/><circle cx="285.7" cy="49.5" r="0.55"/><circle cx="286.5" cy="49.7" r="0.55"/><circle cx="289.6" cy="65.0" r="0.55"/><circle cx="279.2" cy="47.7" r="0.55"/><circle cx="291.3" cy="52.9" r="0.55"/><circle cx="290.5" cy="50.3" r="0.55"/><circle cx="284.8" cy="41.7" r="0.55"/><circle cx="291.0" cy="45.6" r="0.55"/><circle cx="295.0" cy="41.4" r="0.55"/><circle cx="281.8" cy="41.5" r="0.55"/><circle cx="278.6" cy="51.5" r="0.55"/><circle cx="293.0" cy="49.1" r="0.55"/><circle cx="291.2" cy="41.9" r="0.55"/><circle cx="288.3" cy="60.7" r="0.55"/><circle cx="280.7" cy="44.8" r="0.55"/><circle cx="290.8" cy="48.8" r="0.55"/><circle cx="289.1" cy="52.0" r="0.55"/><circle cx="287.5" cy="56.3" r="0.55"/><circle cx="291.1" cy="53.9" r="0.55"/><circle cx="292.1" cy="50.3" r="0.55"/><circle cx="289.5" cy="57.5" r="0.55"/><circle cx="279.7" cy="41.8" r="0.55"/><circle cx="293.1" cy="42.1" r="0.55"/><circle cx="292.5" cy="51.6" r="0.55"/><circle cx="291.1" cy="51.5" r="0.55"/><circle cx="286.8" cy="51.0" r="0.55"/><circle cx="285.9" cy="51.0" r="0.55"/><circle cx="289.1" cy="57.2" r="0.55"/><circle cx="280.0" cy="56.8" r="0.55"/><circle cx="288.1" cy="57.9" r="0.55"/><circle cx="287.7" cy="44.3" r="0.55"/><circle cx="285.7" cy="46.6" r="0.55"/><circle cx="283.0" cy="43.1" r="0.55"/><circle cx="276.2" cy="51.0" r="0.55"/><circle cx="290.3" cy="45.6" r="0.55"/><circle cx="287.4" cy="60.7" r="0.55"/><circle cx="292.6" cy="40.6" r="0.55"/><circle cx="292.9" cy="51.2" r="0.55"/><circle cx="291.8" cy="60.9" r="0.55"/><circle cx="289.7" cy="56.4" r="0.55"/><circle cx="289.4" cy="41.1" r="0.55"/><circle cx="289.1" cy="57.7" r="0.55"/><circle cx="287.3" cy="46.3" r="0.55"/><circle cx="289.8" cy="53.9" r="0.55"/><circle cx="291.2" cy="65.9" r="0.55"/><circle cx="283.5" cy="63.9" r="0.55"/><circle cx="291.8" cy="42.1" r="0.55"/><circle cx="290.9" cy="46.7" r="0.55"/><circle cx="287.8" cy="64.7" r="0.55"/><circle cx="284.6" cy="58.7" r="0.55"/><circle cx="286.1" cy="48.7" r="0.55"/><circle cx="289.9" cy="61.7" r="0.55"/><circle cx="290.1" cy="64.3" r="0.55"/><circle cx="286.5" cy="50.6" r="0.55"/><circle cx="283.2" cy="47.7" r="0.55"/><circle cx="291.6" cy="46.5" r="0.55"/><circle cx="276.6" cy="49.2" r="0.55"/><circle cx="292.3" cy="51.9" r="0.55"/><circle cx="285.6" cy="48.1" r="0.55"/><circle cx="292.0" cy="57.8" r="0.55"/><circle cx="283.7" cy="48.6" r="0.55"/><circle cx="289.0" cy="51.9" r="0.55"/><circle cx="291.5" cy="53.4" r="0.55"/><circle cx="294.7" cy="46.0" r="0.55"/><circle cx="284.0" cy="59.9" r="0.55"/><circle cx="283.6" cy="54.3" r="0.55"/><circle cx="292.0" cy="51.1" r="0.55"/><circle cx="294.5" cy="41.3" r="0.55"/><circle cx="287.8" cy="59.1" r="0.55"/><circle cx="280.6" cy="62.6" r="0.55"/><circle cx="287.9" cy="55.1" r="0.55"/><circle cx="288.1" cy="47.3" r="0.55"/><circle cx="289.3" cy="53.3" r="0.55"/><circle cx="286.4" cy="57.6" r="0.55"/><circle cx="289.7" cy="56.9" r="0.55"/><circle cx="289.5" cy="56.6" r="0.55"/><circle cx="280.6" cy="49.0" r="0.55"/><circle cx="287.7" cy="66.2" r="0.55"/><circle cx="291.4" cy="60.1" r="0.55"/><circle cx="286.3" cy="52.4" r="0.55"/><circle cx="289.2" cy="42.9" r="0.55"/><circle cx="292.8" cy="54.9" r="0.55"/><circle cx="277.2" cy="53.1" r="0.55"/><circle cx="290.1" cy="50.7" r="0.55"/><circle cx="283.1" cy="42.7" r="0.55"/><circle cx="290.2" cy="58.4" r="0.55"/><circle cx="285.7" cy="49.3" r="0.55"/><circle cx="288.3" cy="45.9" r="0.55"/><circle cx="291.9" cy="48.4" r="0.55"/><circle cx="278.8" cy="51.3" r="0.55"/><circle cx="284.1" cy="48.5" r="0.55"/><circle cx="281.6" cy="48.1" r="0.55"/><circle cx="285.0" cy="44.3" r="0.55"/><circle cx="295.4" cy="50.9" r="0.55"/><circle cx="291.4" cy="39.3" r="0.55"/><circle cx="295.5" cy="51.4" r="0.55"/><circle cx="279.2" cy="44.9" r="0.55"/><circle cx="286.8" cy="57.7" r="0.55"/><circle cx="282.5" cy="53.7" r="0.55"/><circle cx="286.3" cy="59.0" r="0.55"/><circle cx="286.0" cy="60.7" r="0.55"/><circle cx="291.2" cy="55.7" r="0.55"/><circle cx="287.6" cy="53.3" r="0.55"/><circle cx="277.7" cy="40.1" r="0.55"/><circle cx="287.5" cy="56.4" r="0.55"/><circle cx="292.5" cy="52.8" r="0.55"/><circle cx="293.8" cy="51.4" r="0.55"/><circle cx="288.5" cy="50.7" r="0.55"/><circle cx="283.6" cy="50.9" r="0.55"/><circle cx="292.6" cy="50.5" r="0.55"/><circle cx="283.9" cy="51.0" r="0.55"/><circle cx="295.3" cy="48.5" r="0.55"/><circle cx="289.3" cy="45.1" r="0.55"/><circle cx="291.9" cy="51.0" r="0.55"/><circle cx="284.8" cy="46.4" r="0.55"/><circle cx="283.4" cy="39.8" r="0.55"/><circle cx="287.7" cy="51.1" r="0.55"/><circle cx="283.0" cy="48.2" r="0.55"/><circle cx="290.8" cy="55.6" r="0.55"/><circle cx="288.6" cy="58.8" r="0.55"/><circle cx="292.0" cy="39.8" r="0.55"/><circle cx="286.3" cy="52.3" r="0.55"/><circle cx="293.9" cy="61.4" r="0.55"/><circle cx="284.5" cy="50.2" r="0.55"/><circle cx="286.9" cy="57.7" r="0.55"/><circle cx="279.4" cy="40.2" r="0.55"/><circle cx="289.7" cy="51.4" r="0.55"/><circle cx="294.2" cy="50.5" r="0.55"/><circle cx="286.1" cy="62.6" r="0.55"/><circle cx="286.3" cy="51.7" r="0.55"/><circle cx="287.0" cy="48.6" r="0.55"/><circle cx="288.8" cy="52.0" r="0.55"/><circle cx="286.2" cy="52.9" r="0.55"/><circle cx="285.9" cy="44.3" r="0.55"/><circle cx="290.3" cy="51.5" r="0.55"/><circle cx="294.6" cy="52.8" r="0.55"/><circle cx="285.4" cy="47.8" r="0.55"/><circle cx="288.1" cy="56.7" r="0.55"/><circle cx="283.1" cy="52.9" r="0.55"/><circle cx="285.7" cy="52.8" r="0.55"/><circle cx="293.1" cy="49.4" r="0.55"/><circle cx="285.2" cy="47.3" r="0.55"/><circle cx="282.1" cy="51.2" r="0.55"/><circle cx="286.3" cy="60.5" r="0.55"/><circle cx="292.2" cy="49.4" r="0.55"/><circle cx="291.1" cy="44.7" r="0.55"/><circle cx="292.0" cy="49.8" r="0.55"/><circle cx="292.6" cy="50.5" r="0.55"/><circle cx="293.8" cy="59.5" r="0.55"/><circle cx="284.9" cy="53.8" r="0.55"/><circle cx="291.0" cy="51.0" r="0.55"/><circle cx="294.2" cy="41.5" r="0.55"/><circle cx="293.2" cy="59.2" r="0.55"/><circle cx="287.9" cy="53.1" r="0.55"/><circle cx="276.7" cy="49.5" r="0.55"/><circle cx="278.5" cy="45.3" r="0.55"/><circle cx="289.5" cy="55.2" r="0.55"/><circle cx="292.3" cy="58.7" r="0.55"/><circle cx="278.2" cy="46.3" r="0.55"/><circle cx="294.3" cy="43.0" r="0.55"/><circle cx="283.6" cy="51.6" r="0.55"/><circle cx="290.4" cy="50.7" r="0.55"/><circle cx="286.9" cy="58.5" r="0.55"/><circle cx="292.0" cy="56.8" r="0.55"/><circle cx="280.7" cy="48.5" r="0.55"/><circle cx="289.7" cy="55.2" r="0.55"/><circle cx="289.7" cy="53.1" r="0.55"/><circle cx="283.3" cy="41.8" r="0.55"/><circle cx="291.8" cy="57.1" r="0.55"/><circle cx="294.4" cy="57.3" r="0.55"/><circle cx="288.5" cy="48.1" r="0.55"/><circle cx="288.6" cy="48.5" r="0.55"/><circle cx="288.9" cy="43.2" r="0.55"/><circle cx="277.5" cy="60.4" r="0.55"/><circle cx="290.5" cy="49.1" r="0.55"/><circle cx="286.3" cy="52.3" r="0.55"/><circle cx="285.0" cy="52.2" r="0.55"/><circle cx="285.3" cy="39.5" r="0.55"/><circle cx="290.2" cy="49.2" r="0.55"/><circle cx="288.1" cy="55.0" r="0.55"/><circle cx="294.0" cy="56.8" r="0.55"/><circle cx="287.7" cy="53.8" r="0.55"/><circle cx="288.6" cy="57.8" r="0.55"/><circle cx="289.5" cy="63.4" r="0.55"/><circle cx="280.3" cy="40.5" r="0.55"/><circle cx="288.8" cy="55.7" r="0.55"/><circle cx="286.6" cy="48.1" r="0.55"/><circle cx="286.4" cy="46.9" r="0.55"/><circle cx="283.2" cy="50.4" r="0.55"/><circle cx="292.3" cy="39.6" r="0.55"/><circle cx="290.8" cy="47.3" r="0.55"/><circle cx="286.4" cy="45.9" r="0.55"/><circle cx="293.8" cy="54.0" r="0.55"/><circle cx="290.8" cy="57.0" r="0.55"/><circle cx="284.5" cy="48.0" r="0.55"/><circle cx="290.7" cy="45.7" r="0.55"/><circle cx="279.1" cy="39.7" r="0.55"/><circle cx="294.5" cy="42.3" r="0.55"/><circle cx="285.5" cy="46.0" r="0.55"/><circle cx="293.8" cy="56.8" r="0.55"/><circle cx="291.8" cy="59.6" r="0.55"/><circle cx="283.9" cy="50.1" r="0.55"/><circle cx="291.7" cy="61.3" r="0.55"/><circle cx="290.0" cy="58.6" r="0.55"/><circle cx="294.7" cy="41.3" r="0.55"/><circle cx="285.6" cy="63.5" r="0.55"/><circle cx="281.4" cy="45.8" r="0.55"/><circle cx="285.3" cy="61.8" r="0.55"/><circle cx="290.8" cy="62.5" r="0.55"/><circle cx="286.6" cy="53.8" r="0.55"/><circle cx="280.6" cy="52.0" r="0.55"/><circle cx="290.9" cy="46.1" r="0.55"/><circle cx="281.3" cy="43.9" r="0.55"/></g>
<g filter="url(#bl2)">
<path d="M265,70 L265,63 C268,58 273,52 280,47.5 C284,45.5 287,46 288,48.5 C289.5,53 288,57 285,60.5 C281,64.5 276,68 270,69.8 Z" fill="#2c1a7c"/>
<ellipse cx="277" cy="60" rx="9.5" ry="6.4" transform="rotate(-40 277 60)" fill="url(#heatL)"/>
<ellipse cx="272" cy="65.5" rx="2.8" ry="1.7" transform="rotate(-35 272 65.5)" fill="#f8d040"/>
</g></g>
<text x="267.9" y="42.9" font-size="4.1" fill="#4a4a8c" stroke="#4a4a8c" stroke-width="0.08" text-anchor="start" textLength="13.8" lengthAdjust="spacingAndGlyphs" font-family="Liberation Sans, sans-serif">72.97%</text>
<rect x="265.9" y="38.4" width="30.400000000000034" height="30.699999999999996" fill="none" stroke="#111" stroke-width="1.1"/>
<clipPath id="c2"><rect x="321.1" y="38.9" width="29.099999999999966" height="29.500000000000007"/></clipPath>
<text x="326.7" y="34.7" font-size="5.3" fill="#111" stroke="#111" stroke-width="0.22" text-anchor="start" textLength="18.9" lengthAdjust="spacingAndGlyphs" font-family="Liberation Sans, sans-serif">Singlets</text>
<text transform="translate(317.4,54) rotate(-90)" font-size="5.1" fill="#111" stroke="#111" stroke-width="0.22" text-anchor="middle" textLength="16.2" lengthAdjust="spacingAndGlyphs" font-family="Liberation Sans, sans-serif">SSC-A</text>
<text x="327.6" y="76.6" font-size="5.2" fill="#111" stroke="#111" stroke-width="0.22" text-anchor="start" textLength="15.6" lengthAdjust="spacingAndGlyphs" font-family="Liberation Sans, sans-serif">SSC-W</text>
<g clip-path="url(#c2)">
<path d="M327.4,68.9 L327.4,50.8 Q327.4,49.7 328.4,49.7 L330.6,49.7 Q331.6,49.7 331.6,50.8 L331.6,68.9" fill="#d8d4e8" stroke="#5a5ab4" stroke-width="0.9"/>
<path d="M329.6,52.5 C332,51.5 336,52.5 337.5,56 C338.5,60 337,64.5 334,67 L329.6,67.5 Z" fill="#141018" filter="url(#bl2)" opacity="0.85"/>
<g fill="#0c0810" opacity="0.5"><circle cx="330.3" cy="53.4" r="0.45"/><circle cx="333.4" cy="61.0" r="0.45"/><circle cx="335.8" cy="54.4" r="0.45"/><circle cx="332.5" cy="62.1" r="0.45"/><circle cx="330.6" cy="59.3" r="0.45"/><circle cx="336.2" cy="61.5" r="0.45"/><circle cx="330.4" cy="61.5" r="0.45"/><circle cx="336.2" cy="56.3" r="0.45"/><circle cx="330.1" cy="62.3" r="0.45"/><circle cx="331.9" cy="65.9" r="0.45"/><circle cx="332.6" cy="56.3" r="0.45"/><circle cx="336.3" cy="58.6" r="0.45"/><circle cx="332.5" cy="65.5" r="0.45"/><circle cx="335.0" cy="65.6" r="0.45"/><circle cx="332.8" cy="53.7" r="0.45"/><circle cx="332.9" cy="57.0" r="0.45"/><circle cx="335.3" cy="52.6" r="0.45"/><circle cx="331.5" cy="65.7" r="0.45"/><circle cx="331.5" cy="54.0" r="0.45"/><circle cx="332.3" cy="62.1" r="0.45"/><circle cx="331.1" cy="60.8" r="0.45"/><circle cx="332.7" cy="60.3" r="0.45"/><circle cx="331.7" cy="54.6" r="0.45"/><circle cx="336.4" cy="60.4" r="0.45"/><circle cx="334.2" cy="58.1" r="0.45"/><circle cx="331.6" cy="54.7" r="0.45"/><circle cx="338.7" cy="62.4" r="0.45"/><circle cx="334.8" cy="61.8" r="0.45"/><circle cx="331.0" cy="57.5" r="0.45"/><circle cx="333.8" cy="60.2" r="0.45"/><circle cx="334.0" cy="56.4" r="0.45"/><circle cx="331.4" cy="55.5" r="0.45"/><circle cx="335.8" cy="56.3" r="0.45"/><circle cx="330.8" cy="63.2" r="0.45"/><circle cx="332.1" cy="57.5" r="0.45"/><circle cx="332.0" cy="62.8" r="0.45"/><circle cx="332.1" cy="65.1" r="0.45"/><circle cx="334.1" cy="62.6" r="0.45"/><circle cx="331.6" cy="66.1" r="0.45"/><circle cx="332.3" cy="57.2" r="0.45"/><circle cx="338.5" cy="58.9" r="0.45"/><circle cx="331.6" cy="59.8" r="0.45"/><circle cx="330.9" cy="63.5" r="0.45"/><circle cx="330.3" cy="59.3" r="0.45"/><circle cx="330.0" cy="60.0" r="0.45"/><circle cx="332.2" cy="61.5" r="0.45"/><circle cx="334.0" cy="62.1" r="0.45"/><circle cx="335.7" cy="59.3" r="0.45"/><circle cx="330.8" cy="58.0" r="0.45"/><circle cx="338.6" cy="59.8" r="0.45"/><circle cx="337.2" cy="56.1" r="0.45"/><circle cx="332.3" cy="66.6" r="0.45"/><circle cx="335.3" cy="57.1" r="0.45"/><circle cx="333.1" cy="52.5" r="0.45"/><circle cx="331.9" cy="59.6" r="0.45"/><circle cx="330.4" cy="57.5" r="0.45"/><circle cx="331.8" cy="67.0" r="0.45"/><circle cx="331.5" cy="63.5" r="0.45"/><circle cx="336.3" cy="56.4" r="0.45"/><circle cx="334.0" cy="54.1" r="0.45"/><circle cx="331.8" cy="64.7" r="0.45"/><circle cx="331.1" cy="56.9" r="0.45"/><circle cx="333.0" cy="62.6" r="0.45"/><circle cx="330.4" cy="57.9" r="0.45"/><circle cx="333.8" cy="60.6" r="0.45"/><circle cx="336.4" cy="59.9" r="0.45"/><circle cx="332.0" cy="60.7" r="0.45"/><circle cx="330.5" cy="61.3" r="0.45"/><circle cx="331.0" cy="59.4" r="0.45"/><circle cx="333.6" cy="52.6" r="0.45"/><circle cx="334.9" cy="61.3" r="0.45"/><circle cx="331.3" cy="66.7" r="0.45"/><circle cx="332.1" cy="58.8" r="0.45"/><circle cx="332.4" cy="61.2" r="0.45"/><circle cx="331.0" cy="60.4" r="0.45"/><circle cx="330.1" cy="59.5" r="0.45"/><circle cx="331.9" cy="57.7" r="0.45"/><circle cx="338.1" cy="58.0" r="0.45"/><circle cx="330.4" cy="56.1" r="0.45"/><circle cx="334.5" cy="61.4" r="0.45"/><circle cx="333.8" cy="59.3" r="0.45"/><circle cx="333.6" cy="62.7" r="0.45"/><circle cx="334.0" cy="60.1" r="0.45"/><circle cx="330.5" cy="55.0" r="0.45"/><circle cx="331.8" cy="62.2" r="0.45"/><circle cx="331.7" cy="60.7" r="0.45"/><circle cx="330.0" cy="63.6" r="0.45"/><circle cx="336.9" cy="60.3" r="0.45"/><circle cx="330.2" cy="58.3" r="0.45"/><circle cx="334.7" cy="54.3" r="0.45"/><circle cx="334.0" cy="56.1" r="0.45"/><circle cx="331.8" cy="62.8" r="0.45"/><circle cx="332.4" cy="53.9" r="0.45"/><circle cx="330.2" cy="57.4" r="0.45"/><circle cx="333.4" cy="65.3" r="0.45"/><circle cx="331.7" cy="55.1" r="0.45"/><circle cx="332.1" cy="58.9" r="0.45"/><circle cx="329.9" cy="62.8" r="0.45"/><circle cx="335.0" cy="62.9" r="0.45"/><circle cx="338.2" cy="60.5" r="0.45"/><circle cx="336.3" cy="58.1" r="0.45"/><circle cx="332.2" cy="55.8" r="0.45"/><circle cx="330.2" cy="58.4" r="0.45"/><circle cx="333.7" cy="63.0" r="0.45"/><circle cx="329.8" cy="62.2" r="0.45"/><circle cx="335.2" cy="62.9" r="0.45"/><circle cx="332.6" cy="54.5" r="0.45"/><circle cx="335.5" cy="60.8" r="0.45"/><circle cx="330.2" cy="54.9" r="0.45"/><circle cx="331.4" cy="62.5" r="0.45"/><circle cx="330.1" cy="61.6" r="0.45"/><circle cx="335.6" cy="56.8" r="0.45"/><circle cx="333.0" cy="59.2" r="0.45"/><circle cx="333.3" cy="62.8" r="0.45"/><circle cx="333.3" cy="64.9" r="0.45"/><circle cx="332.2" cy="62.7" r="0.45"/><circle cx="334.6" cy="57.9" r="0.45"/><circle cx="331.0" cy="62.5" r="0.45"/><circle cx="331.4" cy="52.6" r="0.45"/><circle cx="334.0" cy="57.2" r="0.45"/><circle cx="333.5" cy="61.6" r="0.45"/><circle cx="330.7" cy="59.3" r="0.45"/><circle cx="330.4" cy="53.4" r="0.45"/><circle cx="334.2" cy="65.0" r="0.45"/><circle cx="333.1" cy="59.7" r="0.45"/><circle cx="336.3" cy="57.5" r="0.45"/><circle cx="335.8" cy="58.8" r="0.45"/><circle cx="333.0" cy="57.2" r="0.45"/><circle cx="335.5" cy="63.4" r="0.45"/><circle cx="337.1" cy="57.4" r="0.45"/><circle cx="331.3" cy="56.1" r="0.45"/><circle cx="334.5" cy="59.9" r="0.45"/><circle cx="333.0" cy="60.2" r="0.45"/><circle cx="331.0" cy="55.0" r="0.45"/><circle cx="330.3" cy="57.5" r="0.45"/><circle cx="333.2" cy="59.5" r="0.45"/><circle cx="336.9" cy="57.8" r="0.45"/><circle cx="330.0" cy="56.7" r="0.45"/><circle cx="331.1" cy="57.8" r="0.45"/><circle cx="331.2" cy="61.2" r="0.45"/><circle cx="335.4" cy="52.7" r="0.45"/><circle cx="332.3" cy="62.1" r="0.45"/><circle cx="333.3" cy="52.9" r="0.45"/><circle cx="335.0" cy="55.0" r="0.45"/><circle cx="332.1" cy="59.1" r="0.45"/><circle cx="331.2" cy="61.8" r="0.45"/><circle cx="336.9" cy="57.0" r="0.45"/><circle cx="332.4" cy="58.2" r="0.45"/><circle cx="330.7" cy="59.9" r="0.45"/><circle cx="330.9" cy="62.1" r="0.45"/><circle cx="331.7" cy="56.0" r="0.45"/><circle cx="334.7" cy="59.4" r="0.45"/><circle cx="335.4" cy="58.0" r="0.45"/><circle cx="330.3" cy="63.9" r="0.45"/><circle cx="331.1" cy="61.7" r="0.45"/><circle cx="330.1" cy="53.3" r="0.45"/><circle cx="332.9" cy="64.1" r="0.45"/><circle cx="333.3" cy="63.1" r="0.45"/><circle cx="332.4" cy="58.3" r="0.45"/><circle cx="331.4" cy="62.4" r="0.45"/><circle cx="331.3" cy="62.6" r="0.45"/><circle cx="330.2" cy="53.4" r="0.45"/><circle cx="330.7" cy="61.8" r="0.45"/><circle cx="332.2" cy="64.5" r="0.45"/><circle cx="331.7" cy="61.1" r="0.45"/><circle cx="334.7" cy="64.0" r="0.45"/><circle cx="332.7" cy="56.1" r="0.45"/><circle cx="330.6" cy="56.2" r="0.45"/><circle cx="329.9" cy="63.3" r="0.45"/><circle cx="334.2" cy="55.0" r="0.45"/><circle cx="330.0" cy="55.8" r="0.45"/><circle cx="331.6" cy="60.8" r="0.45"/><circle cx="332.7" cy="63.7" r="0.45"/><circle cx="336.1" cy="55.5" r="0.45"/><circle cx="330.3" cy="53.5" r="0.45"/><circle cx="331.7" cy="57.6" r="0.45"/><circle cx="332.0" cy="62.9" r="0.45"/><circle cx="333.0" cy="60.4" r="0.45"/><circle cx="337.3" cy="57.0" r="0.45"/><circle cx="331.7" cy="58.2" r="0.45"/><circle cx="332.0" cy="55.7" r="0.45"/><circle cx="332.4" cy="59.9" r="0.45"/><circle cx="332.7" cy="58.7" r="0.45"/><circle cx="331.5" cy="58.6" r="0.45"/><circle cx="332.5" cy="62.3" r="0.45"/><circle cx="331.8" cy="54.4" r="0.45"/><circle cx="330.5" cy="56.1" r="0.45"/><circle cx="329.8" cy="53.3" r="0.45"/><circle cx="335.3" cy="52.5" r="0.45"/><circle cx="333.4" cy="62.8" r="0.45"/><circle cx="332.2" cy="63.4" r="0.45"/><circle cx="330.7" cy="56.8" r="0.45"/><circle cx="334.7" cy="58.6" r="0.45"/><circle cx="330.3" cy="58.1" r="0.45"/><circle cx="333.8" cy="60.6" r="0.45"/><circle cx="333.1" cy="57.3" r="0.45"/><circle cx="330.0" cy="60.0" r="0.45"/><circle cx="330.7" cy="62.1" r="0.45"/><circle cx="333.1" cy="61.1" r="0.45"/><circle cx="332.8" cy="60.8" r="0.45"/><circle cx="332.2" cy="54.2" r="0.45"/><circle cx="331.8" cy="56.3" r="0.45"/><circle cx="330.9" cy="57.1" r="0.45"/><circle cx="331.5" cy="58.8" r="0.45"/><circle cx="330.9" cy="54.1" r="0.45"/><circle cx="334.5" cy="56.5" r="0.45"/><circle cx="331.3" cy="58.9" r="0.45"/><circle cx="336.6" cy="62.6" r="0.45"/><circle cx="332.5" cy="54.1" r="0.45"/><circle cx="333.9" cy="55.1" r="0.45"/><circle cx="329.8" cy="65.5" r="0.45"/><circle cx="331.0" cy="56.2" r="0.45"/><circle cx="330.0" cy="62.0" r="0.45"/><circle cx="332.7" cy="58.1" r="0.45"/><circle cx="329.9" cy="57.4" r="0.45"/><circle cx="335.5" cy="60.6" r="0.45"/><circle cx="331.2" cy="63.7" r="0.45"/><circle cx="331.8" cy="56.4" r="0.45"/><circle cx="331.1" cy="57.7" r="0.45"/><circle cx="330.7" cy="59.9" r="0.45"/><circle cx="332.5" cy="52.9" r="0.45"/><circle cx="333.3" cy="59.6" r="0.45"/><circle cx="332.8" cy="58.2" r="0.45"/><circle cx="334.4" cy="62.0" r="0.45"/><circle cx="331.5" cy="57.7" r="0.45"/><circle cx="335.1" cy="57.0" r="0.45"/><circle cx="331.0" cy="53.4" r="0.45"/><circle cx="336.3" cy="57.2" r="0.45"/><circle cx="337.8" cy="58.7" r="0.45"/><circle cx="339.9" cy="56.2" r="0.45"/><circle cx="331.2" cy="57.7" r="0.45"/><circle cx="333.3" cy="54.7" r="0.45"/><circle cx="330.5" cy="66.6" r="0.45"/><circle cx="334.1" cy="60.1" r="0.45"/><circle cx="334.8" cy="54.8" r="0.45"/><circle cx="330.1" cy="57.3" r="0.45"/><circle cx="330.1" cy="56.5" r="0.45"/><circle cx="330.3" cy="61.0" r="0.45"/><circle cx="329.8" cy="58.1" r="0.45"/><circle cx="332.8" cy="57.6" r="0.45"/><circle cx="331.6" cy="65.0" r="0.45"/><circle cx="335.3" cy="57.1" r="0.45"/><circle cx="332.5" cy="61.4" r="0.45"/><circle cx="331.4" cy="56.2" r="0.45"/><circle cx="330.5" cy="65.4" r="0.45"/><circle cx="333.7" cy="63.0" r="0.45"/><circle cx="333.9" cy="62.8" r="0.45"/><circle cx="334.3" cy="61.5" r="0.45"/><circle cx="332.7" cy="61.9" r="0.45"/><circle cx="330.7" cy="55.6" r="0.45"/><circle cx="333.9" cy="57.5" r="0.45"/><circle cx="330.2" cy="62.9" r="0.45"/><circle cx="332.4" cy="65.4" r="0.45"/><circle cx="330.6" cy="60.4" r="0.45"/><circle cx="335.2" cy="63.6" r="0.45"/><circle cx="330.1" cy="59.3" r="0.45"/><circle cx="333.5" cy="62.0" r="0.45"/><circle cx="330.5" cy="56.0" r="0.45"/><circle cx="330.0" cy="64.1" r="0.45"/><circle cx="331.7" cy="59.0" r="0.45"/><circle cx="331.1" cy="59.4" r="0.45"/><circle cx="335.2" cy="58.1" r="0.45"/><circle cx="331.1" cy="62.5" r="0.45"/><circle cx="331.1" cy="57.9" r="0.45"/><circle cx="332.0" cy="62.7" r="0.45"/><circle cx="331.0" cy="52.8" r="0.45"/><circle cx="333.5" cy="59.4" r="0.45"/><circle cx="333.5" cy="57.1" r="0.45"/><circle cx="331.3" cy="63.3" r="0.45"/><circle cx="334.0" cy="58.1" r="0.45"/><circle cx="332.0" cy="56.1" r="0.45"/><circle cx="335.5" cy="61.4" r="0.45"/><circle cx="337.5" cy="63.6" r="0.45"/><circle cx="334.5" cy="65.0" r="0.45"/><circle cx="331.1" cy="58.1" r="0.45"/><circle cx="330.9" cy="61.9" r="0.45"/><circle cx="338.9" cy="58.0" r="0.45"/><circle cx="332.8" cy="55.1" r="0.45"/><circle cx="329.9" cy="63.0" r="0.45"/><circle cx="336.9" cy="59.3" r="0.45"/><circle cx="335.2" cy="60.4" r="0.45"/><circle cx="333.5" cy="62.1" r="0.45"/><circle cx="332.0" cy="54.0" r="0.45"/><circle cx="331.7" cy="57.6" r="0.45"/><circle cx="339.8" cy="54.7" r="0.45"/><circle cx="333.0" cy="58.5" r="0.45"/><circle cx="339.7" cy="59.1" r="0.45"/><circle cx="333.1" cy="53.7" r="0.45"/><circle cx="332.5" cy="59.8" r="0.45"/><circle cx="330.5" cy="62.2" r="0.45"/><circle cx="331.4" cy="56.6" r="0.45"/><circle cx="331.3" cy="59.1" r="0.45"/><circle cx="333.6" cy="56.6" r="0.45"/><circle cx="331.7" cy="64.0" r="0.45"/><circle cx="331.5" cy="56.5" r="0.45"/><circle cx="334.6" cy="56.4" r="0.45"/><circle cx="330.2" cy="63.8" r="0.45"/><circle cx="334.3" cy="63.6" r="0.45"/><circle cx="331.1" cy="59.0" r="0.45"/><circle cx="331.9" cy="60.8" r="0.45"/><circle cx="335.6" cy="55.4" r="0.45"/><circle cx="334.6" cy="57.2" r="0.45"/><circle cx="333.7" cy="63.0" r="0.45"/><circle cx="330.5" cy="59.7" r="0.45"/><circle cx="331.5" cy="63.3" r="0.45"/><circle cx="334.0" cy="54.4" r="0.45"/><circle cx="329.8" cy="57.5" r="0.45"/><circle cx="330.1" cy="61.5" r="0.45"/><circle cx="336.0" cy="61.2" r="0.45"/><circle cx="331.3" cy="53.9" r="0.45"/><circle cx="333.0" cy="61.1" r="0.45"/><circle cx="330.9" cy="56.7" r="0.45"/><circle cx="333.3" cy="60.6" r="0.45"/><circle cx="330.5" cy="63.5" r="0.45"/><circle cx="337.5" cy="57.1" r="0.45"/><circle cx="332.0" cy="54.6" r="0.45"/><circle cx="334.1" cy="56.0" r="0.45"/><circle cx="331.8" cy="53.5" r="0.45"/><circle cx="333.8" cy="56.8" r="0.45"/><circle cx="334.4" cy="64.1" r="0.45"/><circle cx="333.1" cy="59.1" r="0.45"/><circle cx="332.8" cy="53.5" r="0.45"/><circle cx="333.9" cy="61.0" r="0.45"/><circle cx="332.9" cy="56.9" r="0.45"/><circle cx="331.0" cy="58.9" r="0.45"/><circle cx="336.2" cy="61.7" r="0.45"/><circle cx="333.5" cy="60.3" r="0.45"/><circle cx="333.8" cy="54.6" r="0.45"/><circle cx="331.9" cy="65.0" r="0.45"/><circle cx="332.0" cy="59.6" r="0.45"/><circle cx="331.9" cy="57.8" r="0.45"/><circle cx="331.5" cy="59.0" r="0.45"/><circle cx="334.3" cy="62.0" r="0.45"/><circle cx="330.6" cy="59.1" r="0.45"/><circle cx="330.0" cy="55.2" r="0.45"/><circle cx="332.9" cy="60.3" r="0.45"/><circle cx="330.5" cy="64.2" r="0.45"/><circle cx="335.5" cy="55.5" r="0.45"/><circle cx="332.8" cy="60.7" r="0.45"/><circle cx="332.9" cy="64.6" r="0.45"/><circle cx="339.9" cy="52.9" r="0.45"/><circle cx="332.3" cy="60.0" r="0.45"/><circle cx="335.7" cy="56.2" r="0.45"/><circle cx="331.6" cy="55.9" r="0.45"/><circle cx="335.0" cy="60.3" r="0.45"/><circle cx="332.3" cy="59.1" r="0.45"/><circle cx="329.9" cy="61.8" r="0.45"/><circle cx="332.2" cy="65.4" r="0.45"/><circle cx="333.6" cy="65.4" r="0.45"/><circle cx="333.0" cy="60.7" r="0.45"/><circle cx="334.2" cy="61.2" r="0.45"/><circle cx="332.0" cy="57.4" r="0.45"/><circle cx="329.8" cy="66.4" r="0.45"/><circle cx="338.4" cy="58.8" r="0.45"/><circle cx="333.0" cy="62.4" r="0.45"/><circle cx="332.9" cy="60.1" r="0.45"/><circle cx="330.4" cy="62.3" r="0.45"/><circle cx="332.0" cy="60.7" r="0.45"/><circle cx="335.2" cy="58.6" r="0.45"/><circle cx="330.8" cy="55.9" r="0.45"/><circle cx="333.1" cy="66.5" r="0.45"/><circle cx="333.4" cy="56.6" r="0.45"/><circle cx="333.3" cy="61.9" r="0.45"/><circle cx="332.6" cy="52.5" r="0.45"/><circle cx="335.9" cy="65.8" r="0.45"/><circle cx="334.4" cy="60.1" r="0.45"/><circle cx="334.4" cy="57.0" r="0.45"/><circle cx="336.0" cy="62.1" r="0.45"/><circle cx="331.5" cy="61.6" r="0.45"/><circle cx="329.8" cy="62.8" r="0.45"/><circle cx="332.9" cy="59.7" r="0.45"/><circle cx="334.2" cy="61.6" r="0.45"/><circle cx="331.8" cy="62.3" r="0.45"/><circle cx="332.3" cy="53.0" r="0.45"/><circle cx="331.6" cy="52.0" r="0.45"/><circle cx="331.9" cy="61.0" r="0.45"/><circle cx="331.3" cy="58.0" r="0.45"/><circle cx="330.0" cy="56.9" r="0.45"/><circle cx="330.6" cy="55.0" r="0.45"/><circle cx="337.3" cy="64.7" r="0.45"/><circle cx="331.0" cy="60.0" r="0.45"/><circle cx="334.4" cy="61.6" r="0.45"/><circle cx="331.3" cy="58.4" r="0.45"/><circle cx="330.6" cy="56.8" r="0.45"/><circle cx="331.0" cy="60.5" r="0.45"/><circle cx="332.1" cy="52.1" r="0.45"/><circle cx="330.0" cy="56.0" r="0.45"/><circle cx="332.4" cy="55.0" r="0.45"/><circle cx="332.8" cy="62.4" r="0.45"/><circle cx="331.9" cy="57.4" r="0.45"/><circle cx="329.9" cy="61.3" r="0.45"/><circle cx="330.5" cy="58.3" r="0.45"/><circle cx="335.1" cy="57.3" r="0.45"/><circle cx="330.9" cy="59.4" r="0.45"/><circle cx="333.7" cy="64.1" r="0.45"/><circle cx="332.8" cy="52.7" r="0.45"/><circle cx="337.0" cy="66.6" r="0.45"/><circle cx="334.6" cy="59.1" r="0.45"/><circle cx="330.5" cy="60.9" r="0.45"/><circle cx="334.9" cy="58.4" r="0.45"/><circle cx="332.2" cy="57.2" r="0.45"/><circle cx="332.4" cy="64.2" r="0.45"/><circle cx="330.0" cy="57.9" r="0.45"/><circle cx="330.0" cy="63.7" r="0.45"/><circle cx="333.3" cy="55.5" r="0.45"/><circle cx="333.8" cy="61.6" r="0.45"/><circle cx="331.8" cy="61.1" r="0.45"/><circle cx="330.4" cy="61.2" r="0.45"/><circle cx="332.3" cy="58.6" r="0.45"/><circle cx="334.5" cy="57.1" r="0.45"/><circle cx="331.1" cy="61.4" r="0.45"/><circle cx="333.6" cy="61.8" r="0.45"/><circle cx="333.1" cy="64.6" r="0.45"/><circle cx="330.5" cy="58.6" r="0.45"/><circle cx="334.2" cy="54.2" r="0.45"/><circle cx="332.4" cy="63.9" r="0.45"/><circle cx="331.7" cy="61.7" r="0.45"/><circle cx="332.9" cy="61.9" r="0.45"/><circle cx="334.6" cy="65.8" r="0.45"/><circle cx="331.0" cy="62.2" r="0.45"/><circle cx="332.1" cy="62.3" r="0.45"/><circle cx="332.0" cy="56.5" r="0.45"/><circle cx="334.1" cy="66.2" r="0.45"/><circle cx="337.2" cy="57.5" r="0.45"/><circle cx="330.5" cy="60.7" r="0.45"/><circle cx="331.9" cy="57.3" r="0.45"/><circle cx="331.6" cy="57.1" r="0.45"/><circle cx="334.4" cy="52.6" r="0.45"/><circle cx="336.0" cy="56.7" r="0.45"/><circle cx="330.7" cy="64.7" r="0.45"/><circle cx="332.1" cy="59.4" r="0.45"/><circle cx="332.5" cy="61.0" r="0.45"/><circle cx="332.6" cy="53.6" r="0.45"/><circle cx="332.4" cy="60.9" r="0.45"/><circle cx="330.8" cy="56.8" r="0.45"/><circle cx="331.6" cy="64.0" r="0.45"/><circle cx="332.3" cy="58.1" r="0.45"/><circle cx="334.6" cy="61.2" r="0.45"/><circle cx="333.2" cy="52.7" r="0.45"/><circle cx="334.5" cy="58.4" r="0.45"/><circle cx="332.0" cy="52.4" r="0.45"/><circle cx="338.4" cy="61.3" r="0.45"/><circle cx="331.5" cy="61.4" r="0.45"/><circle cx="333.9" cy="65.5" r="0.45"/><circle cx="334.1" cy="57.0" r="0.45"/><circle cx="331.2" cy="59.8" r="0.45"/><circle cx="331.5" cy="61.5" r="0.45"/><circle cx="331.8" cy="59.0" r="0.45"/><circle cx="333.1" cy="58.8" r="0.45"/><circle cx="330.8" cy="59.7" r="0.45"/><circle cx="333.0" cy="63.8" r="0.45"/><circle cx="330.5" cy="53.5" r="0.45"/><circle cx="335.2" cy="57.3" r="0.45"/><circle cx="333.2" cy="56.3" r="0.45"/><circle cx="331.2" cy="61.3" r="0.45"/><circle cx="329.8" cy="56.9" r="0.45"/><circle cx="332.6" cy="61.9" r="0.45"/><circle cx="332.0" cy="64.4" r="0.45"/><circle cx="331.1" cy="60.4" r="0.45"/><circle cx="330.7" cy="60.4" r="0.45"/><circle cx="331.4" cy="58.4" r="0.45"/><circle cx="330.1" cy="63.8" r="0.45"/><circle cx="331.9" cy="60.1" r="0.45"/><circle cx="332.4" cy="61.4" r="0.45"/><circle cx="333.6" cy="57.3" r="0.45"/><circle cx="331.3" cy="56.9" r="0.45"/><circle cx="331.2" cy="58.3" r="0.45"/><circle cx="331.8" cy="57.8" r="0.45"/><circle cx="331.2" cy="59.1" r="0.45"/><circle cx="330.8" cy="61.2" r="0.45"/><circle cx="332.3" cy="57.8" r="0.45"/><circle cx="337.3" cy="55.4" r="0.45"/><circle cx="331.3" cy="55.7" r="0.45"/><circle cx="334.3" cy="55.1" r="0.45"/><circle cx="334.5" cy="54.8" r="0.45"/><circle cx="338.0" cy="59.0" r="0.45"/><circle cx="331.8" cy="55.1" r="0.45"/><circle cx="334.0" cy="64.1" r="0.45"/><circle cx="333.5" cy="55.4" r="0.45"/><circle cx="331.0" cy="60.7" r="0.45"/><circle cx="330.9" cy="55.7" r="0.45"/><circle cx="330.1" cy="60.9" r="0.45"/><circle cx="333.3" cy="52.1" r="0.45"/><circle cx="330.6" cy="62.3" r="0.45"/><circle cx="332.6" cy="63.5" r="0.45"/><circle cx="331.6" cy="60.2" r="0.45"/><circle cx="333.9" cy="60.1" r="0.45"/><circle cx="331.9" cy="55.8" r="0.45"/><circle cx="330.3" cy="57.8" r="0.45"/><circle cx="331.1" cy="55.8" r="0.45"/><circle cx="332.4" cy="53.4" r="0.45"/><circle cx="335.6" cy="58.8" r="0.45"/><circle cx="330.6" cy="61.0" r="0.45"/><circle cx="333.2" cy="58.2" r="0.45"/><circle cx="332.6" cy="57.5" r="0.45"/><circle cx="334.7" cy="54.8" r="0.45"/><circle cx="330.0" cy="60.2" r="0.45"/><circle cx="331.3" cy="63.9" r="0.45"/><circle cx="333.9" cy="53.4" r="0.45"/><circle cx="332.7" cy="55.4" r="0.45"/><circle cx="332.4" cy="65.9" r="0.45"/><circle cx="330.0" cy="57.4" r="0.45"/><circle cx="333.5" cy="58.0" r="0.45"/><circle cx="329.9" cy="62.0" r="0.45"/><circle cx="331.7" cy="53.4" r="0.45"/><circle cx="331.8" cy="57.6" r="0.45"/><circle cx="335.9" cy="60.7" r="0.45"/><circle cx="331.4" cy="65.1" r="0.45"/><circle cx="332.0" cy="58.7" r="0.45"/><circle cx="335.1" cy="56.3" r="0.45"/><circle cx="330.0" cy="59.6" r="0.45"/><circle cx="335.1" cy="56.1" r="0.45"/><circle cx="331.9" cy="58.8" r="0.45"/><circle cx="338.3" cy="57.2" r="0.45"/><circle cx="334.5" cy="62.0" r="0.45"/><circle cx="331.4" cy="58.7" r="0.45"/><circle cx="330.6" cy="65.3" r="0.45"/><circle cx="330.9" cy="52.4" r="0.45"/><circle cx="334.3" cy="54.4" r="0.45"/><circle cx="330.7" cy="55.0" r="0.45"/><circle cx="332.9" cy="63.9" r="0.45"/><circle cx="334.3" cy="62.7" r="0.45"/><circle cx="332.5" cy="63.0" r="0.45"/><circle cx="331.1" cy="66.1" r="0.45"/><circle cx="329.9" cy="58.1" r="0.45"/><circle cx="333.7" cy="52.7" r="0.45"/><circle cx="333.8" cy="59.0" r="0.45"/><circle cx="330.7" cy="55.7" r="0.45"/><circle cx="331.4" cy="61.4" r="0.45"/><circle cx="335.4" cy="55.0" r="0.45"/><circle cx="330.5" cy="64.0" r="0.45"/><circle cx="330.4" cy="61.8" r="0.45"/><circle cx="333.0" cy="55.1" r="0.45"/><circle cx="330.2" cy="58.5" r="0.45"/><circle cx="334.7" cy="59.5" r="0.45"/><circle cx="332.1" cy="56.0" r="0.45"/><circle cx="330.9" cy="58.8" r="0.45"/><circle cx="331.4" cy="60.5" r="0.45"/><circle cx="330.7" cy="64.6" r="0.45"/><circle cx="338.3" cy="57.7" r="0.45"/><circle cx="331.1" cy="58.4" r="0.45"/><circle cx="333.6" cy="61.8" r="0.45"/><circle cx="335.2" cy="53.2" r="0.45"/><circle cx="334.1" cy="54.1" r="0.45"/><circle cx="338.5" cy="59.3" r="0.45"/><circle cx="333.3" cy="54.8" r="0.45"/><circle cx="332.8" cy="56.3" r="0.45"/><circle cx="338.0" cy="65.4" r="0.45"/><circle cx="331.6" cy="56.4" r="0.45"/><circle cx="331.0" cy="59.2" r="0.45"/><circle cx="337.7" cy="64.4" r="0.45"/><circle cx="332.2" cy="62.5" r="0.45"/><circle cx="331.8" cy="65.6" r="0.45"/><circle cx="333.5" cy="62.0" r="0.45"/><circle cx="331.1" cy="55.5" r="0.45"/><circle cx="334.1" cy="62.8" r="0.45"/><circle cx="331.1" cy="66.7" r="0.45"/><circle cx="332.4" cy="61.2" r="0.45"/><circle cx="331.2" cy="56.1" r="0.45"/><circle cx="331.2" cy="53.1" r="0.45"/><circle cx="330.1" cy="58.2" r="0.45"/><circle cx="335.5" cy="56.8" r="0.45"/><circle cx="333.7" cy="59.9" r="0.45"/><circle cx="331.3" cy="61.3" r="0.45"/><circle cx="330.0" cy="58.9" r="0.45"/><circle cx="335.7" cy="59.3" r="0.45"/><circle cx="331.7" cy="54.7" r="0.45"/><circle cx="329.8" cy="55.7" r="0.45"/><circle cx="335.3" cy="65.7" r="0.45"/><circle cx="333.5" cy="59.3" r="0.45"/><circle cx="332.6" cy="60.2" r="0.45"/><circle cx="330.2" cy="54.6" r="0.45"/><circle cx="333.5" cy="58.6" r="0.45"/><circle cx="331.0" cy="58.4" r="0.45"/><circle cx="334.8" cy="58.1" r="0.45"/><circle cx="333.2" cy="56.9" r="0.45"/><circle cx="332.9" cy="61.7" r="0.45"/><circle cx="333.6" cy="60.0" r="0.45"/><circle cx="332.5" cy="57.2" r="0.45"/><circle cx="333.7" cy="63.8" r="0.45"/><circle cx="331.0" cy="56.6" r="0.45"/><circle cx="336.7" cy="57.5" r="0.45"/><circle cx="329.9" cy="59.7" r="0.45"/><circle cx="330.2" cy="53.4" r="0.45"/><circle cx="334.4" cy="57.8" r="0.45"/><circle cx="339.9" cy="57.0" r="0.45"/><circle cx="335.6" cy="55.1" r="0.45"/><circle cx="331.1" cy="61.6" r="0.45"/><circle cx="332.1" cy="58.6" r="0.45"/><circle cx="331.1" cy="54.3" r="0.45"/><circle cx="337.9" cy="60.9" r="0.45"/><circle cx="333.2" cy="60.8" r="0.45"/><circle cx="331.9" cy="55.5" r="0.45"/><circle cx="330.4" cy="57.0" r="0.45"/><circle cx="331.7" cy="58.0" r="0.45"/><circle cx="329.9" cy="58.4" r="0.45"/><circle cx="332.9" cy="63.8" r="0.45"/><circle cx="332.1" cy="58.7" r="0.45"/><circle cx="334.3" cy="60.1" r="0.45"/><circle cx="335.4" cy="67.0" r="0.45"/><circle cx="330.4" cy="56.6" r="0.45"/><circle cx="331.9" cy="58.4" r="0.45"/><circle cx="334.7" cy="52.1" r="0.45"/><circle cx="331.3" cy="58.9" r="0.45"/><circle cx="333.0" cy="62.7" r="0.45"/><circle cx="330.3" cy="58.9" r="0.45"/><circle cx="333.3" cy="61.9" r="0.45"/><circle cx="330.1" cy="56.5" r="0.45"/><circle cx="332.5" cy="55.2" r="0.45"/><circle cx="335.9" cy="61.5" r="0.45"/><circle cx="330.2" cy="64.3" r="0.45"/><circle cx="334.5" cy="66.2" r="0.45"/><circle cx="330.8" cy="61.4" r="0.45"/><circle cx="330.1" cy="54.7" r="0.45"/><circle cx="332.0" cy="58.7" r="0.45"/><circle cx="331.7" cy="55.0" r="0.45"/><circle cx="332.5" cy="62.9" r="0.45"/><circle cx="339.5" cy="62.6" r="0.45"/><circle cx="331.7" cy="57.9" r="0.45"/><circle cx="334.9" cy="61.2" r="0.45"/><circle cx="330.0" cy="56.6" r="0.45"/><circle cx="338.5" cy="61.3" r="0.45"/><circle cx="331.3" cy="55.3" r="0.45"/><circle cx="331.8" cy="61.3" r="0.45"/><circle cx="329.8" cy="57.0" r="0.45"/><circle cx="329.9" cy="59.5" r="0.45"/><circle cx="336.2" cy="65.8" r="0.45"/><circle cx="332.2" cy="57.7" r="0.45"/><circle cx="339.8" cy="60.7" r="0.45"/><circle cx="333.6" cy="61.8" r="0.45"/><circle cx="329.9" cy="65.1" r="0.45"/><circle cx="333.9" cy="56.8" r="0.45"/><circle cx="335.4" cy="66.2" r="0.45"/><circle cx="333.6" cy="61.0" r="0.45"/><circle cx="332.7" cy="56.3" r="0.45"/><circle cx="333.5" cy="66.5" r="0.45"/><circle cx="333.2" cy="53.4" r="0.45"/><circle cx="332.4" cy="60.2" r="0.45"/><circle cx="336.7" cy="54.6" r="0.45"/><circle cx="332.5" cy="62.0" r="0.45"/><circle cx="331.9" cy="56.9" r="0.45"/><circle cx="331.7" cy="63.1" r="0.45"/><circle cx="333.5" cy="56.2" r="0.45"/><circle cx="330.6" cy="62.5" r="0.45"/><circle cx="337.7" cy="61.4" r="0.45"/><circle cx="332.3" cy="64.3" r="0.45"/><circle cx="337.0" cy="57.8" r="0.45"/><circle cx="340.8" cy="55.3" r="0.45"/><circle cx="330.5" cy="60.5" r="0.45"/><circle cx="331.5" cy="62.5" r="0.45"/><circle cx="332.0" cy="57.5" r="0.45"/><circle cx="332.3" cy="61.6" r="0.45"/><circle cx="337.6" cy="61.6" r="0.45"/><circle cx="330.5" cy="62.8" r="0.45"/><circle cx="329.8" cy="62.0" r="0.45"/><circle cx="335.0" cy="59.8" r="0.45"/><circle cx="330.6" cy="62.9" r="0.45"/><circle cx="330.7" cy="56.6" r="0.45"/><circle cx="330.7" cy="60.5" r="0.45"/><circle cx="334.0" cy="55.4" r="0.45"/><circle cx="330.4" cy="59.3" r="0.45"/><circle cx="331.3" cy="58.3" r="0.45"/><circle cx="332.2" cy="61.8" r="0.45"/><circle cx="331.9" cy="63.0" r="0.45"/><circle cx="331.9" cy="61.3" r="0.45"/><circle cx="333.5" cy="57.1" r="0.45"/><circle cx="331.5" cy="60.8" r="0.45"/><circle cx="333.8" cy="61.2" r="0.45"/><circle cx="330.6" cy="56.0" r="0.45"/><circle cx="332.0" cy="60.5" r="0.45"/><circle cx="336.3" cy="58.3" r="0.45"/><circle cx="331.5" cy="58.9" r="0.45"/><circle cx="329.8" cy="59.3" r="0.45"/><circle cx="330.5" cy="60.4" r="0.45"/><circle cx="334.1" cy="54.4" r="0.45"/><circle cx="330.0" cy="63.1" r="0.45"/><circle cx="330.5" cy="62.6" r="0.45"/><circle cx="331.4" cy="58.3" r="0.45"/><circle cx="336.3" cy="65.4" r="0.45"/><circle cx="333.8" cy="60.9" r="0.45"/><circle cx="332.8" cy="63.4" r="0.45"/><circle cx="333.9" cy="57.5" r="0.45"/><circle cx="333.5" cy="58.0" r="0.45"/><circle cx="332.1" cy="57.5" r="0.45"/><circle cx="329.8" cy="59.1" r="0.45"/><circle cx="332.7" cy="59.7" r="0.45"/><circle cx="334.5" cy="56.5" r="0.45"/><circle cx="331.2" cy="57.7" r="0.45"/><circle cx="332.2" cy="65.6" r="0.45"/><circle cx="330.2" cy="58.1" r="0.45"/><circle cx="334.6" cy="57.5" r="0.45"/><circle cx="333.9" cy="54.3" r="0.45"/><circle cx="332.1" cy="56.6" r="0.45"/><circle cx="334.0" cy="53.6" r="0.45"/><circle cx="332.4" cy="62.4" r="0.45"/><circle cx="334.6" cy="54.4" r="0.45"/><circle cx="335.9" cy="52.1" r="0.45"/><circle cx="330.3" cy="60.8" r="0.45"/><circle cx="330.9" cy="60.9" r="0.45"/><circle cx="332.3" cy="57.4" r="0.45"/><circle cx="332.4" cy="61.7" r="0.45"/><circle cx="330.1" cy="63.4" r="0.45"/><circle cx="330.5" cy="59.8" r="0.45"/><circle cx="338.5" cy="56.7" r="0.45"/><circle cx="330.2" cy="63.1" r="0.45"/><circle cx="332.6" cy="58.2" r="0.45"/><circle cx="330.8" cy="57.7" r="0.45"/><circle cx="336.4" cy="55.4" r="0.45"/><circle cx="330.9" cy="62.0" r="0.45"/><circle cx="338.4" cy="54.6" r="0.45"/><circle cx="331.0" cy="60.6" r="0.45"/><circle cx="333.2" cy="63.1" r="0.45"/><circle cx="330.0" cy="52.8" r="0.45"/><circle cx="332.9" cy="52.1" r="0.45"/><circle cx="330.5" cy="57.9" r="0.45"/><circle cx="330.5" cy="59.1" r="0.45"/><circle cx="335.7" cy="61.9" r="0.45"/><circle cx="331.5" cy="59.2" r="0.45"/><circle cx="330.2" cy="60.3" r="0.45"/><circle cx="331.9" cy="61.4" r="0.45"/><circle cx="330.0" cy="59.8" r="0.45"/><circle cx="330.9" cy="62.0" r="0.45"/><circle cx="331.7" cy="59.4" r="0.45"/><circle cx="336.1" cy="57.6" r="0.45"/><circle cx="332.7" cy="63.7" r="0.45"/><circle cx="334.3" cy="66.2" r="0.45"/><circle cx="331.8" cy="62.6" r="0.45"/><circle cx="330.2" cy="64.2" r="0.45"/><circle cx="335.7" cy="65.8" r="0.45"/><circle cx="335.2" cy="63.4" r="0.45"/><circle cx="331.0" cy="54.1" r="0.45"/><circle cx="334.1" cy="61.3" r="0.45"/><circle cx="339.7" cy="60.5" r="0.45"/><circle cx="330.8" cy="59.0" r="0.45"/><circle cx="330.2" cy="65.5" r="0.45"/><circle cx="329.9" cy="58.7" r="0.45"/><circle cx="333.6" cy="62.5" r="0.45"/><circle cx="331.9" cy="62.0" r="0.45"/><circle cx="331.1" cy="56.3" r="0.45"/><circle cx="332.1" cy="56.1" r="0.45"/><circle cx="330.4" cy="63.2" r="0.45"/><circle cx="331.9" cy="52.8" r="0.45"/><circle cx="330.6" cy="53.9" r="0.45"/><circle cx="336.3" cy="60.8" r="0.45"/><circle cx="332.3" cy="60.9" r="0.45"/><circle cx="332.7" cy="54.2" r="0.45"/><circle cx="332.0" cy="63.9" r="0.45"/><circle cx="331.8" cy="57.6" r="0.45"/><circle cx="332.5" cy="57.0" r="0.45"/><circle cx="329.8" cy="58.7" r="0.45"/><circle cx="333.8" cy="54.7" r="0.45"/><circle cx="334.1" cy="59.8" r="0.45"/><circle cx="330.0" cy="65.0" r="0.45"/><circle cx="331.4" cy="60.1" r="0.45"/><circle cx="331.3" cy="57.5" r="0.45"/><circle cx="331.4" cy="61.2" r="0.45"/><circle cx="332.4" cy="55.0" r="0.45"/><circle cx="334.8" cy="53.4" r="0.45"/><circle cx="331.5" cy="64.5" r="0.45"/><circle cx="331.4" cy="55.4" r="0.45"/><circle cx="331.6" cy="61.3" r="0.45"/><circle cx="332.3" cy="64.1" r="0.45"/><circle cx="336.9" cy="53.9" r="0.45"/><circle cx="330.4" cy="55.2" r="0.45"/><circle cx="331.8" cy="56.7" r="0.45"/><circle cx="331.4" cy="53.6" r="0.45"/><circle cx="332.1" cy="57.3" r="0.45"/><circle cx="330.9" cy="64.0" r="0.45"/><circle cx="331.9" cy="65.5" r="0.45"/><circle cx="332.2" cy="56.2" r="0.45"/><circle cx="330.3" cy="56.0" r="0.45"/><circle cx="330.1" cy="57.1" r="0.45"/><circle cx="333.0" cy="62.5" r="0.45"/><circle cx="335.1" cy="59.8" r="0.45"/><circle cx="334.7" cy="60.1" r="0.45"/><circle cx="332.3" cy="52.6" r="0.45"/><circle cx="330.1" cy="54.1" r="0.45"/><circle cx="333.3" cy="58.2" r="0.45"/><circle cx="332.8" cy="59.3" r="0.45"/><circle cx="330.1" cy="59.5" r="0.45"/><circle cx="331.5" cy="61.9" r="0.45"/><circle cx="331.5" cy="53.2" r="0.45"/><circle cx="332.4" cy="57.5" r="0.45"/><circle cx="331.2" cy="58.8" r="0.45"/><circle cx="329.8" cy="66.8" r="0.45"/><circle cx="336.1" cy="61.4" r="0.45"/><circle cx="330.6" cy="56.0" r="0.45"/><circle cx="332.7" cy="58.6" r="0.45"/><circle cx="335.2" cy="57.9" r="0.45"/><circle cx="336.2" cy="59.5" r="0.45"/><circle cx="335.2" cy="57.1" r="0.45"/><circle cx="330.1" cy="56.6" r="0.45"/><circle cx="332.8" cy="59.7" r="0.45"/><circle cx="333.2" cy="65.0" r="0.45"/><circle cx="330.9" cy="52.0" r="0.45"/><circle cx="330.6" cy="60.4" r="0.45"/><circle cx="334.1" cy="58.5" r="0.45"/><circle cx="338.2" cy="65.7" r="0.45"/><circle cx="331.3" cy="56.9" r="0.45"/><circle cx="329.8" cy="57.5" r="0.45"/><circle cx="333.0" cy="59.1" r="0.45"/><circle cx="336.1" cy="58.3" r="0.45"/><circle cx="330.8" cy="58.6" r="0.45"/><circle cx="333.5" cy="64.5" r="0.45"/><circle cx="329.9" cy="59.3" r="0.45"/><circle cx="333.4" cy="58.1" r="0.45"/><circle cx="336.2" cy="54.5" r="0.45"/><circle cx="330.3" cy="57.0" r="0.45"/><circle cx="333.4" cy="63.1" r="0.45"/><circle cx="337.5" cy="65.6" r="0.45"/><circle cx="333.9" cy="65.3" r="0.45"/></g>
</g>
<text x="323" y="43" font-size="4.1" fill="#4a4a8c" stroke="#4a4a8c" stroke-width="0.08" text-anchor="start" textLength="13.6" lengthAdjust="spacingAndGlyphs" font-family="Liberation Sans, sans-serif">85.03%</text>
<rect x="320.6" y="38.4" width="30.099999999999966" height="30.500000000000007" fill="none" stroke="#111" stroke-width="1.1"/>
<clipPath id="c3"><rect x="375.1" y="38.6" width="29.799999999999955" height="30.1"/></clipPath>
<text x="379.8" y="35.1" font-size="5.3" fill="#111" stroke="#111" stroke-width="0.22" text-anchor="start" textLength="21.3" lengthAdjust="spacingAndGlyphs" font-family="Liberation Sans, sans-serif">ALL cells</text>
<text transform="translate(371.7,54.4) rotate(-90)" font-size="5.1" fill="#111" stroke="#111" stroke-width="0.22" text-anchor="middle" textLength="15.3" lengthAdjust="spacingAndGlyphs" font-family="Liberation Sans, sans-serif">CD10</text>
<text x="384.3" y="76.1" font-size="5.2" fill="#111" stroke="#111" stroke-width="0.22" text-anchor="start" textLength="13.3" lengthAdjust="spacingAndGlyphs" font-family="Liberation Sans, sans-serif">CD19</text>
<circle cx="395" cy="55" r="0.6" fill="#f4e0a0" opacity="0.4"/>
<circle cx="398" cy="60" r="0.6" fill="#f0c0d0" opacity="0.4"/>
<circle cx="392" cy="63" r="0.6" fill="#e0e0a0" opacity="0.4"/>
<circle cx="400" cy="52" r="0.6" fill="#f8e8b0" opacity="0.4"/>
<circle cx="396" cy="65" r="0.6" fill="#f0d0e0" opacity="0.4"/>
<g clip-path="url(#c3)"><g filter="url(#bl)">
<path d="M376.5,69 C374.5,60 375,49.5 383,48.3 C391,47.6 392,54 387.5,60.5 C384.5,65 381.5,69 376.5,69 Z" fill="#3a2a98"/>
<path d="M376.8,69 C375.5,61 376,50.5 382.8,49.6 C389.2,49 389.8,54 386.8,59.5 C384.3,64 381.5,68.5 376.8,69 Z" fill="#1a0a26"/>
<ellipse cx="383.4" cy="56" rx="4.6" ry="7.2" transform="rotate(8 383.4 56)" fill="url(#haloR)"/>
<ellipse cx="383.5" cy="55.5" rx="2.8" ry="5.2" transform="rotate(8 383.5 55.5)" fill="url(#heatC)"/>
</g></g>
<path d="M376.2,68.8 C373.4,60 374.4,48.3 383,47.3 C392.2,46.7 393.6,54 387.8,61.4 C384.8,65.4 381.5,69.3 376.2,68.8" fill="none" stroke="#3c3cb2" stroke-width="1.1"/>
<line x1="390.5" y1="47.8" x2="393.6" y2="45.7" stroke="#aaa" stroke-width="0.4"/>
<text x="404" y="43" font-size="4.1" fill="#4a4a8c" stroke="#4a4a8c" stroke-width="0.08" text-anchor="end" textLength="14" lengthAdjust="spacingAndGlyphs" font-family="Liberation Sans, sans-serif">90.68%</text>
<rect x="374.6" y="38.1" width="30.799999999999955" height="31.1" fill="none" stroke="#111" stroke-width="1.1"/>
<clipPath id="c4"><rect x="375.3" y="89.5" width="29.599999999999966" height="29.900000000000006"/></clipPath>
<text transform="translate(372,104) rotate(-90)" font-size="5.1" fill="#111" stroke="#111" stroke-width="0.22" text-anchor="middle" textLength="13.6" lengthAdjust="spacingAndGlyphs" font-family="Liberation Sans, sans-serif">CD10</text>
<text x="381.6" y="127.1" font-size="5.2" fill="#111" stroke="#111" stroke-width="0.22" text-anchor="start" textLength="17.7" lengthAdjust="spacingAndGlyphs" font-family="Liberation Sans, sans-serif">TSLPR</text>
<circle cx="396" cy="105" r="0.6" fill="#f4e0a0" opacity="0.4"/>
<circle cx="399" cy="110" r="0.6" fill="#f0c0d0" opacity="0.4"/>
<circle cx="394" cy="113" r="0.6" fill="#e0e0a0" opacity="0.4"/>
<circle cx="401" cy="100" r="0.6" fill="#c8e0f8" opacity="0.4"/>
<circle cx="397" cy="116" r="0.6" fill="#f0d0e0" opacity="0.4"/>
<g clip-path="url(#c4)">
<g filter="url(#bl)">
<path d="M379.5,108 C377.5,103 379,97 385.5,96.5 C391.5,96.5 393,101 391,106 C389.5,110 389,115 388,119.5 L381,119.5 C380.5,115 380.5,111 379.5,108 Z" fill="#3a1a70"/>
<path d="M381.5,110 C381.5,106 389,106 389,109 C388.5,113 388,116 387,119.5 L382.5,119.5 C382,116 381.5,113 381.5,110 Z" fill="#2a0e22" opacity="0.85"/>
<ellipse cx="385.3" cy="109.5" rx="3" ry="5" fill="#7a1e3a" opacity="0.8"/>
<ellipse cx="385.7" cy="102.6" rx="3.6" ry="4.6" fill="url(#heatC)"/>
</g>
<g fill="#080608" opacity="0.6"><circle cx="378.6" cy="111.4" r="0.45"/><circle cx="382.8" cy="111.2" r="0.45"/><circle cx="383.2" cy="113.1" r="0.45"/><circle cx="379.9" cy="114.4" r="0.45"/><circle cx="385.2" cy="113.3" r="0.45"/><circle cx="381.3" cy="109.1" r="0.45"/><circle cx="379.9" cy="110.6" r="0.45"/><circle cx="380.4" cy="112.8" r="0.45"/><circle cx="378.2" cy="111.4" r="0.45"/><circle cx="376.8" cy="112.7" r="0.45"/><circle cx="382.3" cy="110.9" r="0.45"/><circle cx="381.4" cy="118.7" r="0.45"/><circle cx="384.1" cy="111.6" r="0.45"/><circle cx="380.9" cy="112.7" r="0.45"/><circle cx="384.4" cy="116.0" r="0.45"/><circle cx="385.9" cy="111.7" r="0.45"/><circle cx="383.9" cy="111.1" r="0.45"/><circle cx="384.3" cy="110.6" r="0.45"/><circle cx="380.5" cy="114.1" r="0.45"/><circle cx="382.1" cy="109.6" r="0.45"/><circle cx="379.4" cy="108.5" r="0.45"/><circle cx="381.1" cy="119.1" r="0.45"/><circle cx="380.3" cy="118.1" r="0.45"/><circle cx="384.9" cy="114.9" r="0.45"/><circle cx="383.6" cy="110.3" r="0.45"/><circle cx="378.9" cy="110.3" r="0.45"/><circle cx="381.2" cy="114.3" r="0.45"/><circle cx="379.9" cy="118.5" r="0.45"/><circle cx="379.7" cy="115.8" r="0.45"/><circle cx="382.2" cy="111.5" r="0.45"/><circle cx="383.5" cy="116.5" r="0.45"/><circle cx="379.9" cy="115.2" r="0.45"/><circle cx="381.4" cy="110.8" r="0.45"/><circle cx="380.2" cy="116.6" r="0.45"/><circle cx="378.8" cy="112.7" r="0.45"/><circle cx="381.4" cy="117.7" r="0.45"/><circle cx="382.2" cy="108.0" r="0.45"/><circle cx="380.4" cy="117.4" r="0.45"/><circle cx="376.3" cy="110.2" r="0.45"/><circle cx="384.7" cy="111.8" r="0.45"/><circle cx="381.2" cy="116.8" r="0.45"/><circle cx="381.6" cy="114.1" r="0.45"/><circle cx="379.9" cy="111.2" r="0.45"/><circle cx="381.6" cy="114.9" r="0.45"/><circle cx="383.3" cy="117.7" r="0.45"/><circle cx="380.1" cy="111.6" r="0.45"/><circle cx="383.1" cy="110.6" r="0.45"/><circle cx="381.8" cy="114.2" r="0.45"/><circle cx="386.6" cy="112.9" r="0.45"/><circle cx="380.8" cy="114.3" r="0.45"/><circle cx="379.6" cy="108.8" r="0.45"/><circle cx="381.7" cy="116.5" r="0.45"/><circle cx="382.0" cy="111.6" r="0.45"/><circle cx="382.0" cy="111.3" r="0.45"/><circle cx="381.9" cy="118.9" r="0.45"/><circle cx="385.3" cy="115.4" r="0.45"/><circle cx="382.5" cy="113.3" r="0.45"/><circle cx="381.2" cy="114.2" r="0.45"/><circle cx="383.1" cy="108.9" r="0.45"/><circle cx="385.8" cy="110.9" r="0.45"/><circle cx="385.2" cy="114.4" r="0.45"/><circle cx="383.1" cy="110.2" r="0.45"/><circle cx="381.9" cy="116.3" r="0.45"/><circle cx="380.8" cy="112.2" r="0.45"/><circle cx="386.3" cy="115.9" r="0.45"/><circle cx="378.5" cy="116.5" r="0.45"/><circle cx="383.5" cy="116.5" r="0.45"/><circle cx="383.9" cy="118.9" r="0.45"/><circle cx="380.6" cy="114.8" r="0.45"/><circle cx="381.8" cy="111.2" r="0.45"/><circle cx="385.7" cy="111.9" r="0.45"/><circle cx="380.6" cy="107.8" r="0.45"/><circle cx="380.9" cy="113.8" r="0.45"/><circle cx="382.3" cy="114.5" r="0.45"/><circle cx="380.7" cy="110.5" r="0.45"/><circle cx="378.5" cy="117.5" r="0.45"/><circle cx="380.3" cy="112.4" r="0.45"/><circle cx="381.9" cy="112.5" r="0.45"/><circle cx="379.5" cy="110.5" r="0.45"/><circle cx="383.5" cy="116.7" r="0.45"/><circle cx="382.0" cy="109.6" r="0.45"/><circle cx="383.0" cy="115.7" r="0.45"/><circle cx="386.3" cy="114.0" r="0.45"/><circle cx="384.0" cy="109.6" r="0.45"/><circle cx="381.9" cy="113.4" r="0.45"/><circle cx="376.6" cy="113.4" r="0.45"/><circle cx="385.3" cy="109.5" r="0.45"/><circle cx="379.9" cy="113.7" r="0.45"/><circle cx="383.5" cy="116.9" r="0.45"/><circle cx="381.8" cy="111.3" r="0.45"/><circle cx="380.0" cy="111.3" r="0.45"/><circle cx="383.0" cy="114.7" r="0.45"/><circle cx="384.1" cy="111.8" r="0.45"/><circle cx="380.7" cy="111.5" r="0.45"/><circle cx="380.8" cy="112.9" r="0.45"/><circle cx="381.0" cy="114.8" r="0.45"/><circle cx="385.9" cy="109.8" r="0.45"/><circle cx="378.5" cy="114.0" r="0.45"/><circle cx="383.5" cy="110.2" r="0.45"/><circle cx="384.2" cy="116.5" r="0.45"/><circle cx="379.3" cy="116.3" r="0.45"/><circle cx="379.4" cy="111.8" r="0.45"/><circle cx="381.3" cy="118.2" r="0.45"/><circle cx="384.7" cy="111.6" r="0.45"/><circle cx="381.3" cy="108.0" r="0.45"/><circle cx="380.9" cy="113.2" r="0.45"/><circle cx="380.2" cy="114.8" r="0.45"/><circle cx="378.2" cy="109.7" r="0.45"/><circle cx="381.8" cy="112.6" r="0.45"/><circle cx="386.0" cy="115.6" r="0.45"/><circle cx="382.9" cy="112.2" r="0.45"/><circle cx="381.6" cy="113.6" r="0.45"/><circle cx="379.3" cy="115.4" r="0.45"/><circle cx="382.1" cy="110.5" r="0.45"/><circle cx="378.4" cy="115.4" r="0.45"/><circle cx="382.1" cy="110.8" r="0.45"/><circle cx="380.5" cy="112.0" r="0.45"/><circle cx="381.3" cy="115.1" r="0.45"/><circle cx="379.8" cy="114.2" r="0.45"/><circle cx="377.1" cy="112.3" r="0.45"/><circle cx="381.8" cy="112.2" r="0.45"/><circle cx="380.1" cy="111.7" r="0.45"/><circle cx="379.1" cy="113.1" r="0.45"/><circle cx="381.2" cy="114.5" r="0.45"/><circle cx="379.6" cy="109.9" r="0.45"/><circle cx="377.4" cy="115.7" r="0.45"/><circle cx="382.0" cy="114.8" r="0.45"/><circle cx="379.0" cy="117.7" r="0.45"/><circle cx="380.7" cy="108.7" r="0.45"/><circle cx="379.4" cy="115.3" r="0.45"/><circle cx="376.6" cy="112.1" r="0.45"/><circle cx="381.6" cy="112.0" r="0.45"/><circle cx="383.1" cy="114.4" r="0.45"/><circle cx="377.9" cy="116.3" r="0.45"/><circle cx="377.1" cy="117.9" r="0.45"/><circle cx="382.5" cy="110.0" r="0.45"/><circle cx="380.6" cy="116.5" r="0.45"/><circle cx="377.4" cy="111.5" r="0.45"/><circle cx="377.9" cy="117.8" r="0.45"/><circle cx="380.3" cy="112.8" r="0.45"/><circle cx="381.7" cy="111.4" r="0.45"/><circle cx="383.5" cy="114.1" r="0.45"/><circle cx="382.7" cy="111.8" r="0.45"/><circle cx="380.2" cy="117.3" r="0.45"/><circle cx="382.1" cy="110.9" r="0.45"/><circle cx="383.1" cy="111.4" r="0.45"/><circle cx="379.4" cy="116.2" r="0.45"/><circle cx="381.6" cy="111.5" r="0.45"/><circle cx="380.4" cy="118.5" r="0.45"/><circle cx="379.1" cy="117.1" r="0.45"/><circle cx="382.2" cy="113.6" r="0.45"/><circle cx="382.2" cy="110.4" r="0.45"/><circle cx="381.5" cy="113.8" r="0.45"/><circle cx="382.7" cy="115.3" r="0.45"/><circle cx="379.6" cy="117.9" r="0.45"/><circle cx="380.0" cy="111.1" r="0.45"/><circle cx="380.4" cy="109.3" r="0.45"/><circle cx="376.7" cy="115.1" r="0.45"/><circle cx="382.3" cy="110.6" r="0.45"/><circle cx="377.8" cy="110.3" r="0.45"/><circle cx="379.4" cy="114.5" r="0.45"/><circle cx="383.3" cy="114.4" r="0.45"/><circle cx="381.4" cy="116.6" r="0.45"/><circle cx="382.8" cy="114.0" r="0.45"/><circle cx="383.2" cy="113.4" r="0.45"/><circle cx="381.3" cy="114.0" r="0.45"/><circle cx="385.2" cy="109.2" r="0.45"/><circle cx="380.8" cy="114.4" r="0.45"/><circle cx="384.2" cy="118.2" r="0.45"/><circle cx="382.2" cy="116.3" r="0.45"/><circle cx="380.1" cy="106.9" r="0.45"/><circle cx="384.4" cy="113.9" r="0.45"/><circle cx="384.2" cy="112.5" r="0.45"/><circle cx="377.9" cy="114.1" r="0.45"/><circle cx="381.2" cy="110.8" r="0.45"/><circle cx="377.0" cy="112.7" r="0.45"/><circle cx="379.6" cy="113.6" r="0.45"/><circle cx="382.9" cy="109.7" r="0.45"/><circle cx="382.3" cy="118.0" r="0.45"/><circle cx="383.3" cy="116.9" r="0.45"/><circle cx="381.0" cy="113.1" r="0.45"/><circle cx="380.8" cy="113.6" r="0.45"/><circle cx="381.6" cy="112.7" r="0.45"/><circle cx="381.6" cy="114.3" r="0.45"/><circle cx="379.4" cy="111.9" r="0.45"/><circle cx="385.2" cy="114.5" r="0.45"/><circle cx="381.1" cy="108.6" r="0.45"/><circle cx="376.5" cy="113.7" r="0.45"/><circle cx="383.7" cy="116.3" r="0.45"/><circle cx="384.4" cy="119.1" r="0.45"/><circle cx="382.4" cy="112.5" r="0.45"/><circle cx="380.4" cy="111.1" r="0.45"/><circle cx="383.6" cy="111.8" r="0.45"/><circle cx="380.6" cy="112.5" r="0.45"/><circle cx="381.7" cy="116.9" r="0.45"/><circle cx="385.1" cy="111.1" r="0.45"/><circle cx="381.2" cy="110.7" r="0.45"/><circle cx="381.0" cy="110.3" r="0.45"/><circle cx="383.2" cy="108.2" r="0.45"/><circle cx="383.5" cy="111.0" r="0.45"/><circle cx="387.9" cy="115.0" r="0.45"/><circle cx="380.3" cy="115.1" r="0.45"/><circle cx="384.9" cy="110.1" r="0.45"/><circle cx="386.9" cy="113.1" r="0.45"/><circle cx="385.4" cy="116.3" r="0.45"/><circle cx="382.2" cy="118.7" r="0.45"/><circle cx="380.8" cy="109.4" r="0.45"/><circle cx="382.3" cy="117.9" r="0.45"/><circle cx="385.3" cy="114.0" r="0.45"/><circle cx="382.0" cy="114.0" r="0.45"/><circle cx="385.4" cy="115.9" r="0.45"/><circle cx="381.3" cy="116.6" r="0.45"/><circle cx="381.0" cy="110.2" r="0.45"/><circle cx="381.4" cy="114.8" r="0.45"/><circle cx="382.5" cy="115.5" r="0.45"/><circle cx="378.9" cy="116.0" r="0.45"/><circle cx="382.4" cy="114.0" r="0.45"/><circle cx="379.9" cy="112.8" r="0.45"/><circle cx="382.1" cy="114.5" r="0.45"/><circle cx="381.0" cy="114.2" r="0.45"/><circle cx="380.5" cy="115.0" r="0.45"/><circle cx="377.9" cy="109.1" r="0.45"/><circle cx="379.9" cy="115.8" r="0.45"/><circle cx="380.1" cy="114.6" r="0.45"/><circle cx="379.9" cy="117.7" r="0.45"/><circle cx="380.4" cy="113.6" r="0.45"/><circle cx="384.7" cy="117.2" r="0.45"/><circle cx="382.5" cy="110.9" r="0.45"/><circle cx="383.5" cy="114.3" r="0.45"/><circle cx="379.2" cy="112.2" r="0.45"/><circle cx="381.9" cy="115.3" r="0.45"/><circle cx="377.8" cy="114.4" r="0.45"/><circle cx="382.8" cy="115.2" r="0.45"/><circle cx="386.0" cy="112.3" r="0.45"/><circle cx="381.2" cy="110.1" r="0.45"/><circle cx="380.0" cy="114.1" r="0.45"/><circle cx="380.9" cy="111.9" r="0.45"/><circle cx="380.8" cy="117.9" r="0.45"/><circle cx="382.2" cy="118.0" r="0.45"/><circle cx="376.8" cy="116.9" r="0.45"/><circle cx="381.7" cy="116.0" r="0.45"/><circle cx="384.6" cy="114.1" r="0.45"/><circle cx="381.3" cy="114.0" r="0.45"/><circle cx="378.6" cy="116.4" r="0.45"/><circle cx="380.6" cy="113.4" r="0.45"/><circle cx="382.1" cy="109.3" r="0.45"/><circle cx="381.3" cy="117.1" r="0.45"/><circle cx="380.5" cy="114.9" r="0.45"/><circle cx="380.3" cy="118.5" r="0.45"/><circle cx="385.6" cy="116.3" r="0.45"/><circle cx="379.9" cy="118.7" r="0.45"/><circle cx="385.6" cy="115.2" r="0.45"/><circle cx="377.3" cy="112.5" r="0.45"/><circle cx="383.2" cy="109.5" r="0.45"/><circle cx="380.1" cy="114.2" r="0.45"/><circle cx="381.4" cy="109.3" r="0.45"/><circle cx="380.3" cy="112.8" r="0.45"/><circle cx="378.8" cy="117.7" r="0.45"/><circle cx="380.5" cy="114.0" r="0.45"/><circle cx="377.7" cy="117.1" r="0.45"/><circle cx="382.7" cy="115.3" r="0.45"/><circle cx="384.5" cy="118.0" r="0.45"/><circle cx="385.2" cy="118.7" r="0.45"/><circle cx="383.6" cy="112.6" r="0.45"/><circle cx="377.2" cy="111.3" r="0.45"/><circle cx="382.5" cy="112.4" r="0.45"/><circle cx="383.8" cy="110.0" r="0.45"/><circle cx="379.8" cy="116.8" r="0.45"/><circle cx="381.4" cy="109.3" r="0.45"/><circle cx="383.1" cy="110.1" r="0.45"/><circle cx="382.8" cy="111.8" r="0.45"/><circle cx="381.8" cy="110.6" r="0.45"/><circle cx="382.7" cy="113.8" r="0.45"/><circle cx="377.8" cy="113.7" r="0.45"/><circle cx="383.9" cy="115.9" r="0.45"/><circle cx="380.7" cy="118.2" r="0.45"/><circle cx="380.7" cy="111.8" r="0.45"/><circle cx="380.4" cy="116.9" r="0.45"/><circle cx="378.8" cy="111.0" r="0.45"/><circle cx="380.6" cy="116.3" r="0.45"/><circle cx="380.5" cy="118.5" r="0.45"/><circle cx="378.9" cy="113.1" r="0.45"/><circle cx="380.1" cy="113.5" r="0.45"/><circle cx="381.6" cy="113.6" r="0.45"/><circle cx="381.4" cy="112.2" r="0.45"/><circle cx="381.4" cy="114.2" r="0.45"/><circle cx="380.4" cy="115.1" r="0.45"/><circle cx="378.5" cy="111.4" r="0.45"/><circle cx="382.6" cy="116.3" r="0.45"/><circle cx="382.2" cy="114.0" r="0.45"/><circle cx="379.1" cy="110.0" r="0.45"/><circle cx="379.2" cy="112.3" r="0.45"/><circle cx="381.0" cy="110.0" r="0.45"/><circle cx="380.2" cy="118.7" r="0.45"/><circle cx="379.0" cy="107.2" r="0.45"/><circle cx="378.5" cy="113.3" r="0.45"/><circle cx="376.1" cy="115.9" r="0.45"/><circle cx="381.1" cy="116.1" r="0.45"/><circle cx="381.7" cy="114.5" r="0.45"/><circle cx="381.6" cy="118.9" r="0.45"/><circle cx="380.9" cy="117.1" r="0.45"/><circle cx="379.1" cy="113.3" r="0.45"/><circle cx="381.7" cy="114.3" r="0.45"/><circle cx="377.6" cy="112.1" r="0.45"/><circle cx="381.1" cy="118.2" r="0.45"/><circle cx="381.8" cy="117.7" r="0.45"/><circle cx="379.9" cy="111.8" r="0.45"/><circle cx="385.7" cy="107.5" r="0.45"/><circle cx="384.6" cy="116.7" r="0.45"/><circle cx="385.3" cy="111.4" r="0.45"/><circle cx="376.5" cy="117.4" r="0.45"/><circle cx="382.7" cy="114.8" r="0.45"/><circle cx="382.9" cy="117.8" r="0.45"/><circle cx="380.1" cy="117.1" r="0.45"/><circle cx="377.5" cy="108.5" r="0.45"/><circle cx="383.4" cy="112.1" r="0.45"/><circle cx="383.2" cy="109.5" r="0.45"/><circle cx="381.5" cy="112.2" r="0.45"/><circle cx="380.1" cy="112.1" r="0.45"/><circle cx="385.2" cy="116.3" r="0.45"/><circle cx="381.7" cy="114.9" r="0.45"/><circle cx="384.3" cy="113.4" r="0.45"/><circle cx="378.0" cy="115.0" r="0.45"/><circle cx="382.8" cy="114.4" r="0.45"/><circle cx="382.5" cy="117.5" r="0.45"/><circle cx="382.7" cy="114.6" r="0.45"/><circle cx="385.2" cy="114.0" r="0.45"/><circle cx="381.5" cy="114.2" r="0.45"/><circle cx="383.9" cy="118.4" r="0.45"/><circle cx="379.9" cy="112.0" r="0.45"/><circle cx="385.4" cy="114.9" r="0.45"/><circle cx="382.3" cy="111.1" r="0.45"/><circle cx="384.9" cy="110.3" r="0.45"/><circle cx="384.4" cy="114.4" r="0.45"/><circle cx="382.1" cy="111.6" r="0.45"/><circle cx="382.6" cy="110.6" r="0.45"/><circle cx="383.0" cy="116.3" r="0.45"/><circle cx="383.0" cy="112.0" r="0.45"/><circle cx="377.6" cy="110.2" r="0.45"/><circle cx="377.9" cy="114.5" r="0.45"/><circle cx="381.4" cy="114.7" r="0.45"/><circle cx="387.5" cy="113.3" r="0.45"/><circle cx="379.4" cy="113.6" r="0.45"/><circle cx="378.0" cy="108.1" r="0.45"/><circle cx="379.7" cy="114.8" r="0.45"/><circle cx="380.3" cy="112.0" r="0.45"/><circle cx="381.7" cy="119.1" r="0.45"/><circle cx="381.2" cy="117.4" r="0.45"/><circle cx="381.0" cy="112.3" r="0.45"/><circle cx="380.7" cy="113.9" r="0.45"/><circle cx="380.9" cy="111.5" r="0.45"/><circle cx="379.3" cy="112.0" r="0.45"/><circle cx="385.5" cy="114.0" r="0.45"/><circle cx="384.5" cy="109.6" r="0.45"/><circle cx="381.7" cy="115.1" r="0.45"/><circle cx="383.7" cy="114.1" r="0.45"/><circle cx="377.8" cy="114.8" r="0.45"/><circle cx="383.2" cy="110.9" r="0.45"/><circle cx="379.3" cy="117.8" r="0.45"/><circle cx="379.7" cy="110.4" r="0.45"/><circle cx="384.0" cy="115.4" r="0.45"/><circle cx="380.9" cy="113.1" r="0.45"/><circle cx="383.6" cy="113.6" r="0.45"/><circle cx="379.0" cy="113.7" r="0.45"/><circle cx="382.3" cy="109.9" r="0.45"/><circle cx="381.9" cy="114.7" r="0.45"/><circle cx="379.5" cy="112.2" r="0.45"/><circle cx="378.8" cy="107.5" r="0.45"/><circle cx="379.9" cy="110.6" r="0.45"/><circle cx="377.3" cy="112.4" r="0.45"/><circle cx="382.5" cy="111.5" r="0.45"/><circle cx="381.8" cy="116.7" r="0.45"/><circle cx="379.9" cy="116.0" r="0.45"/><circle cx="385.1" cy="108.2" r="0.45"/><circle cx="379.9" cy="107.7" r="0.45"/><circle cx="381.2" cy="114.0" r="0.45"/><circle cx="380.5" cy="113.4" r="0.45"/><circle cx="383.1" cy="112.1" r="0.45"/><circle cx="380.1" cy="115.0" r="0.45"/><circle cx="378.2" cy="115.0" r="0.45"/><circle cx="383.8" cy="114.4" r="0.45"/><circle cx="380.5" cy="111.7" r="0.45"/><circle cx="381.5" cy="115.2" r="0.45"/><circle cx="378.9" cy="113.3" r="0.45"/><circle cx="379.7" cy="112.5" r="0.45"/><circle cx="378.4" cy="112.2" r="0.45"/><circle cx="379.6" cy="108.9" r="0.45"/><circle cx="378.6" cy="114.3" r="0.45"/><circle cx="384.9" cy="116.6" r="0.45"/><circle cx="377.2" cy="115.6" r="0.45"/><circle cx="380.8" cy="109.8" r="0.45"/><circle cx="384.4" cy="114.3" r="0.45"/><circle cx="387.2" cy="113.5" r="0.45"/><circle cx="385.4" cy="111.7" r="0.45"/><circle cx="382.4" cy="111.9" r="0.45"/><circle cx="380.9" cy="114.5" r="0.45"/><circle cx="379.3" cy="111.8" r="0.45"/><circle cx="382.4" cy="119.0" r="0.45"/><circle cx="386.0" cy="115.7" r="0.45"/><circle cx="380.1" cy="115.0" r="0.45"/><circle cx="381.7" cy="115.7" r="0.45"/><circle cx="380.4" cy="118.3" r="0.45"/><circle cx="384.7" cy="109.4" r="0.45"/><circle cx="384.4" cy="114.3" r="0.45"/><circle cx="384.0" cy="115.3" r="0.45"/><circle cx="379.5" cy="114.4" r="0.45"/><circle cx="382.5" cy="112.6" r="0.45"/><circle cx="380.8" cy="108.1" r="0.45"/><circle cx="379.6" cy="117.3" r="0.45"/><circle cx="382.6" cy="118.8" r="0.45"/><circle cx="383.8" cy="115.7" r="0.45"/><circle cx="384.3" cy="112.4" r="0.45"/><circle cx="383.2" cy="117.2" r="0.45"/><circle cx="381.8" cy="117.5" r="0.45"/><circle cx="378.9" cy="110.2" r="0.45"/><circle cx="382.9" cy="111.7" r="0.45"/><circle cx="377.4" cy="110.5" r="0.45"/><circle cx="384.7" cy="113.4" r="0.45"/><circle cx="380.3" cy="112.7" r="0.45"/><circle cx="386.0" cy="110.9" r="0.45"/><circle cx="378.7" cy="111.8" r="0.45"/><circle cx="380.2" cy="112.3" r="0.45"/><circle cx="379.5" cy="107.1" r="0.45"/><circle cx="383.6" cy="113.8" r="0.45"/><circle cx="381.0" cy="116.2" r="0.45"/><circle cx="387.5" cy="113.9" r="0.45"/><circle cx="377.8" cy="115.2" r="0.45"/><circle cx="383.4" cy="115.0" r="0.45"/><circle cx="380.1" cy="118.3" r="0.45"/><circle cx="387.5" cy="118.0" r="0.45"/><circle cx="381.6" cy="110.3" r="0.45"/><circle cx="380.6" cy="113.0" r="0.45"/><circle cx="377.8" cy="116.3" r="0.45"/><circle cx="378.7" cy="112.6" r="0.45"/><circle cx="380.1" cy="110.3" r="0.45"/><circle cx="381.8" cy="111.7" r="0.45"/><circle cx="384.7" cy="117.3" r="0.45"/><circle cx="384.2" cy="109.7" r="0.45"/><circle cx="380.2" cy="110.0" r="0.45"/><circle cx="380.4" cy="114.9" r="0.45"/><circle cx="383.0" cy="109.7" r="0.45"/><circle cx="378.6" cy="115.5" r="0.45"/><circle cx="380.7" cy="109.9" r="0.45"/><circle cx="380.8" cy="117.1" r="0.45"/><circle cx="378.3" cy="111.4" r="0.45"/><circle cx="382.5" cy="108.9" r="0.45"/><circle cx="383.5" cy="108.1" r="0.45"/><circle cx="383.3" cy="118.1" r="0.45"/><circle cx="384.1" cy="115.4" r="0.45"/><circle cx="383.8" cy="115.6" r="0.45"/><circle cx="381.7" cy="115.2" r="0.45"/><circle cx="380.1" cy="112.2" r="0.45"/><circle cx="382.2" cy="113.1" r="0.45"/><circle cx="383.0" cy="113.6" r="0.45"/><circle cx="380.7" cy="111.9" r="0.45"/><circle cx="380.1" cy="110.6" r="0.45"/><circle cx="379.9" cy="118.1" r="0.45"/><circle cx="378.2" cy="109.7" r="0.45"/><circle cx="381.0" cy="115.8" r="0.45"/><circle cx="381.2" cy="113.0" r="0.45"/><circle cx="381.5" cy="117.8" r="0.45"/><circle cx="380.7" cy="113.3" r="0.45"/><circle cx="381.6" cy="112.7" r="0.45"/><circle cx="384.7" cy="112.2" r="0.45"/><circle cx="378.9" cy="113.2" r="0.45"/><circle cx="384.4" cy="117.2" r="0.45"/><circle cx="379.7" cy="116.4" r="0.45"/><circle cx="377.7" cy="108.4" r="0.45"/><circle cx="380.7" cy="113.8" r="0.45"/><circle cx="377.9" cy="112.0" r="0.45"/><circle cx="380.6" cy="111.6" r="0.45"/><circle cx="380.8" cy="112.4" r="0.45"/><circle cx="378.5" cy="115.8" r="0.45"/><circle cx="380.3" cy="113.5" r="0.45"/><circle cx="383.2" cy="108.8" r="0.45"/><circle cx="382.1" cy="113.0" r="0.45"/><circle cx="383.6" cy="113.4" r="0.45"/><circle cx="381.3" cy="119.1" r="0.45"/><circle cx="379.6" cy="109.7" r="0.45"/><circle cx="377.0" cy="116.4" r="0.45"/><circle cx="382.3" cy="118.4" r="0.45"/><circle cx="380.5" cy="110.5" r="0.45"/><circle cx="385.9" cy="115.8" r="0.45"/><circle cx="380.0" cy="112.3" r="0.45"/><circle cx="381.4" cy="113.8" r="0.45"/><circle cx="383.0" cy="114.0" r="0.45"/><circle cx="384.7" cy="113.9" r="0.45"/><circle cx="383.4" cy="111.2" r="0.45"/><circle cx="380.2" cy="112.2" r="0.45"/><circle cx="384.8" cy="112.4" r="0.45"/><circle cx="382.1" cy="112.6" r="0.45"/><circle cx="380.7" cy="119.0" r="0.45"/><circle cx="377.8" cy="111.7" r="0.45"/><circle cx="385.0" cy="112.8" r="0.45"/><circle cx="383.8" cy="117.0" r="0.45"/><circle cx="381.5" cy="113.3" r="0.45"/><circle cx="384.3" cy="113.4" r="0.45"/><circle cx="382.5" cy="117.7" r="0.45"/><circle cx="379.0" cy="118.1" r="0.45"/><circle cx="386.5" cy="112.5" r="0.45"/><circle cx="381.4" cy="116.6" r="0.45"/><circle cx="379.6" cy="119.1" r="0.45"/></g>
</g>
<line x1="392" y1="98.8" x2="395.2" y2="96.2" stroke="#aaa" stroke-width="0.4"/>
<text x="404.1" y="93.8" font-size="4.1" fill="#4a4a8c" stroke="#4a4a8c" stroke-width="0.08" text-anchor="end" textLength="14.3" lengthAdjust="spacingAndGlyphs" font-family="Liberation Sans, sans-serif">73.95%</text>
<rect x="374.8" y="89" width="30.599999999999966" height="30.900000000000006" fill="none" stroke="#111" stroke-width="1.1"/>
<text x="442.3" y="35.3" font-size="5.3" fill="#111" stroke="#111" stroke-width="0.22" text-anchor="start" textLength="27.5" lengthAdjust="spacingAndGlyphs" font-family="Liberation Sans, sans-serif">FMO gating</text>
<text transform="translate(438.8,53.9) rotate(-90)" font-size="5.4" fill="#111" stroke="#111" stroke-width="0.22" text-anchor="middle" textLength="37.5" lengthAdjust="spacingAndGlyphs" font-family="Liberation Sans, sans-serif">phosphoprotein</text>
<text x="451.2" y="75.9" font-size="5.2" fill="#111" stroke="#111" stroke-width="0.22" text-anchor="start" textLength="13.2" lengthAdjust="spacingAndGlyphs" font-family="Liberation Sans, sans-serif">CD10</text>
<circle cx="455" cy="50" r="1" fill="#a0c8f0" opacity="0.6"/>
<circle cx="457" cy="47" r="1" fill="#f0d080" opacity="0.6"/>
<circle cx="458" cy="52" r="1" fill="#f0a0c0" opacity="0.6"/>
<circle cx="455.5" cy="53.5" r="1" fill="#c0e0a0" opacity="0.6"/>
<circle cx="459" cy="49" r="1" fill="#b0d0f0" opacity="0.6"/>
<g filter="url(#bl)">
<ellipse cx="458" cy="60.3" rx="5.3" ry="4.2" fill="#201040"/>
<ellipse cx="458" cy="59.9" rx="4.4" ry="3.4" fill="url(#heat2)"/>
</g>
<rect x="450.3" y="44.099999999999994" width="21.6" height="12.2" fill="none" stroke="#3a3a9a" stroke-width="0.9"/>
<text x="444" y="42.9" font-size="4.1" fill="#4a4a8c" stroke="#4a4a8c" stroke-width="0.08" text-anchor="start" textLength="11" lengthAdjust="spacingAndGlyphs" font-family="Liberation Sans, sans-serif">0.71%</text>
<rect x="442.1" y="38.3" width="31.099999999999966" height="31.0" fill="none" stroke="#111" stroke-width="1.1"/>
<text transform="translate(438.8,104.8) rotate(-90)" font-size="5.4" fill="#111" stroke="#111" stroke-width="0.22" text-anchor="middle" textLength="37.5" lengthAdjust="spacingAndGlyphs" font-family="Liberation Sans, sans-serif">phosphoprotein</text>
<text x="451.2" y="126.80000000000001" font-size="5.2" fill="#111" stroke="#111" stroke-width="0.22" text-anchor="start" textLength="13.2" lengthAdjust="spacingAndGlyphs" font-family="Liberation Sans, sans-serif">CD10</text>
<circle cx="456" cy="98" r="0.9" fill="#a0c8f0" opacity="0.6"/>
<circle cx="458" cy="96.5" r="0.9" fill="#f0d080" opacity="0.6"/>
<circle cx="459" cy="100" r="0.9" fill="#c0e0a0" opacity="0.6"/>
<g filter="url(#bl)">
<ellipse cx="458" cy="107.0" rx="5.3" ry="4.2" fill="#201040"/>
<ellipse cx="458" cy="106.6" rx="4.4" ry="3.4" fill="url(#heat2)"/>
</g>
<rect x="450.3" y="95.0" width="21.6" height="12.2" fill="none" stroke="#3a3a9a" stroke-width="0.9"/>
<text x="444" y="93.8" font-size="4.1" fill="#4a4a8c" stroke="#4a4a8c" stroke-width="0.08" text-anchor="start" textLength="14" lengthAdjust="spacingAndGlyphs" font-family="Liberation Sans, sans-serif">71.62%</text>
<rect x="442.1" y="89.2" width="31.099999999999966" height="31.0" fill="none" stroke="#111" stroke-width="1.1"/>
<line x1="289.5" y1="65.5" x2="308.2" y2="65.5" stroke="#111" stroke-width="1.2" marker-end="url(#af)"/>
<line x1="343.9" y1="65.5" x2="362.5" y2="65.5" stroke="#111" stroke-width="1.2" marker-end="url(#af)"/>
<line x1="344.5" y1="69" x2="362.5" y2="92.7" stroke="#111" stroke-width="1.2" marker-end="url(#af)"/>
<line x1="406.3" y1="76.3" x2="425.3" y2="51.5" stroke="#111" stroke-width="1.2" marker-end="url(#af)"/>
<line x1="406.3" y1="82.8" x2="424.7" y2="105.5" stroke="#111" stroke-width="1.2" marker-end="url(#af)"/>
<line x1="477.7" y1="62" x2="464.6" y2="62" stroke="#111" stroke-width="1.2" marker-end="url(#af)"/>
<line x1="477.7" y1="101.8" x2="464.4" y2="101.8" stroke="#2a2aa0" stroke-width="1.2" marker-end="url(#afb)"/>
<text x="479.5" y="60.6" font-size="5.3" fill="#111" stroke="#111" stroke-width="0.22" text-anchor="start" textLength="31.6" lengthAdjust="spacingAndGlyphs" font-family="Liberation Sans, sans-serif">FMO- control</text>
<text x="479.5" y="67.0" font-size="5.3" fill="#111" stroke="#111" stroke-width="0.22" text-anchor="start" textLength="24.2" lengthAdjust="spacingAndGlyphs" font-family="Liberation Sans, sans-serif">population</text>
<text x="479.5" y="103.9" font-size="5.3" fill="#2a2aa0" stroke="#2a2aa0" stroke-width="0.22" text-anchor="start" textLength="32.1" lengthAdjust="spacingAndGlyphs" font-family="Liberation Sans, sans-serif">%FMO+ gate</text>
<text x="51.7" y="181.6" font-size="8.6" font-weight="bold" fill="#111" text-anchor="start" textLength="15" lengthAdjust="spacingAndGlyphs" font-family="Liberation Sans, sans-serif">pS6</text>
<line x1="51.3" y1="188.2" x2="51.3" y2="263.2" stroke="#111" stroke-width="1.1"/>
<line x1="48.0" y1="262.70" x2="51.3" y2="262.70" stroke="#111" stroke-width="0.9"/>
<text x="45.4" y="264.80" font-size="6.2" fill="#333" stroke="#333" stroke-width="0.22" text-anchor="end" font-family="Liberation Sans, sans-serif">0</text>
<line x1="48.0" y1="248.48" x2="51.3" y2="248.48" stroke="#111" stroke-width="0.9"/>
<text x="45.4" y="250.58" font-size="6.2" fill="#333" stroke="#333" stroke-width="0.22" text-anchor="end" font-family="Liberation Sans, sans-serif">20</text>
<line x1="48.0" y1="234.26" x2="51.3" y2="234.26" stroke="#111" stroke-width="0.9"/>
<text x="45.4" y="236.36" font-size="6.2" fill="#333" stroke="#333" stroke-width="0.22" text-anchor="end" font-family="Liberation Sans, sans-serif">40</text>
<line x1="48.0" y1="220.04" x2="51.3" y2="220.04" stroke="#111" stroke-width="0.9"/>
<text x="45.4" y="222.14" font-size="6.2" fill="#333" stroke="#333" stroke-width="0.22" text-anchor="end" font-family="Liberation Sans, sans-serif">60</text>
<line x1="48.0" y1="205.82" x2="51.3" y2="205.82" stroke="#111" stroke-width="0.9"/>
<text x="45.4" y="207.92" font-size="6.2" fill="#333" stroke="#333" stroke-width="0.22" text-anchor="end" font-family="Liberation Sans, sans-serif">80</text>
<line x1="48.0" y1="191.60" x2="51.3" y2="191.60" stroke="#111" stroke-width="0.9"/>
<text x="45.4" y="193.70" font-size="6.2" fill="#333" stroke="#333" stroke-width="0.22" text-anchor="end" font-family="Liberation Sans, sans-serif">100</text>
<rect x="52.70" y="195.87" width="5.2" height="66.83" fill="#1414b2"/>
<line x1="55.30" y1="195.15" x2="55.30" y2="196.87" stroke="#111" stroke-width="0.8"/>
<line x1="53.90" y1="195.15" x2="56.70" y2="195.15" stroke="#111" stroke-width="0.8"/>
<line x1="55.30" y1="262.7" x2="55.30" y2="265.3" stroke="#111" stroke-width="0.8"/>
<text transform="translate(57.30,269.8) rotate(-90)" font-size="6.2" fill="#222" stroke="#222" stroke-width="0.22" text-anchor="end" font-family="Liberation Sans, sans-serif">NH362</text>
<rect x="59.77" y="205.82" width="5.2" height="56.88" fill="#e4901e"/>
<line x1="62.37" y1="204.75" x2="62.37" y2="206.82" stroke="#111" stroke-width="0.8"/>
<line x1="60.97" y1="204.75" x2="63.77" y2="204.75" stroke="#111" stroke-width="0.8"/>
<line x1="62.37" y1="262.7" x2="62.37" y2="265.3" stroke="#111" stroke-width="0.8"/>
<text transform="translate(64.37,269.8) rotate(-90)" font-size="6.2" fill="#222" stroke="#222" stroke-width="0.22" text-anchor="end" font-family="Liberation Sans, sans-serif">JH331</text>
<rect x="66.84" y="219.33" width="5.2" height="43.37" fill="#a80a30"/>
<line x1="69.44" y1="217.91" x2="69.44" y2="220.33" stroke="#111" stroke-width="0.8"/>
<line x1="68.04" y1="217.91" x2="70.84" y2="217.91" stroke="#111" stroke-width="0.8"/>
<line x1="69.44" y1="262.7" x2="69.44" y2="265.3" stroke="#111" stroke-width="0.8"/>
<text transform="translate(71.44,269.8) rotate(-90)" font-size="6.2" fill="#222" stroke="#222" stroke-width="0.22" text-anchor="end" font-family="Liberation Sans, sans-serif">JH612</text>
<rect x="73.91" y="222.88" width="5.2" height="39.82" fill="#d0128a"/>
<line x1="76.51" y1="221.46" x2="76.51" y2="223.88" stroke="#111" stroke-width="0.8"/>
<line x1="75.11" y1="221.46" x2="77.91" y2="221.46" stroke="#111" stroke-width="0.8"/>
<line x1="76.51" y1="262.7" x2="76.51" y2="265.3" stroke="#111" stroke-width="0.8"/>
<text transform="translate(78.51,269.8) rotate(-90)" font-size="6.2" fill="#222" stroke="#222" stroke-width="0.22" text-anchor="end" font-family="Liberation Sans, sans-serif">ALL121</text>
<rect x="80.98" y="203.69" width="5.2" height="59.01" fill="#ecc020"/>
<line x1="83.58" y1="202.62" x2="83.58" y2="204.69" stroke="#111" stroke-width="0.8"/>
<line x1="82.18" y1="202.62" x2="84.98" y2="202.62" stroke="#111" stroke-width="0.8"/>
<line x1="83.58" y1="262.7" x2="83.58" y2="265.3" stroke="#111" stroke-width="0.8"/>
<text transform="translate(85.58,269.8) rotate(-90)" font-size="6.2" fill="#222" stroke="#222" stroke-width="0.22" text-anchor="end" font-family="Liberation Sans, sans-serif">ALL4364</text>
<rect x="88.05" y="207.24" width="5.2" height="55.46" fill="#bcd9a4"/>
<line x1="90.65" y1="206.53" x2="90.65" y2="208.24" stroke="#111" stroke-width="0.8"/>
<line x1="89.25" y1="206.53" x2="92.05" y2="206.53" stroke="#111" stroke-width="0.8"/>
<line x1="90.65" y1="262.7" x2="90.65" y2="265.3" stroke="#111" stroke-width="0.8"/>
<text transform="translate(92.65,269.8) rotate(-90)" font-size="6.2" fill="#222" stroke="#222" stroke-width="0.22" text-anchor="end" font-family="Liberation Sans, sans-serif">JL491</text>
<rect x="95.12" y="198.71" width="5.2" height="63.99" fill="#5ca640"/>
<line x1="97.72" y1="198.00" x2="97.72" y2="199.71" stroke="#111" stroke-width="0.8"/>
<line x1="96.32" y1="198.00" x2="99.12" y2="198.00" stroke="#111" stroke-width="0.8"/>
<line x1="97.72" y1="262.7" x2="97.72" y2="265.3" stroke="#111" stroke-width="0.8"/>
<text transform="translate(99.72,269.8) rotate(-90)" font-size="6.2" fill="#222" stroke="#222" stroke-width="0.22" text-anchor="end" font-family="Liberation Sans, sans-serif">NL482A</text>
<rect x="102.19" y="207.24" width="5.2" height="55.46" fill="#bed8f0"/>
<line x1="104.79" y1="206.53" x2="104.79" y2="208.24" stroke="#111" stroke-width="0.8"/>
<line x1="103.39" y1="206.53" x2="106.19" y2="206.53" stroke="#111" stroke-width="0.8"/>
<line x1="104.79" y1="262.7" x2="104.79" y2="265.3" stroke="#111" stroke-width="0.8"/>
<text transform="translate(106.79,269.8) rotate(-90)" font-size="6.2" fill="#222" stroke="#222" stroke-width="0.22" text-anchor="end" font-family="Liberation Sans, sans-serif">NL432</text>
<rect x="109.26" y="199.42" width="5.2" height="63.28" fill="#5c9fe0"/>
<line x1="111.86" y1="198.71" x2="111.86" y2="200.42" stroke="#111" stroke-width="0.8"/>
<line x1="110.46" y1="198.71" x2="113.26" y2="198.71" stroke="#111" stroke-width="0.8"/>
<line x1="111.86" y1="262.7" x2="111.86" y2="265.3" stroke="#111" stroke-width="0.8"/>
<text transform="translate(113.86,269.8) rotate(-90)" font-size="6.2" fill="#222" stroke="#222" stroke-width="0.22" text-anchor="end" font-family="Liberation Sans, sans-serif">NH011</text>
<rect x="116.33" y="199.42" width="5.2" height="63.28" fill="#0a0a0a"/>
<line x1="118.93" y1="197.64" x2="118.93" y2="200.42" stroke="#111" stroke-width="0.8"/>
<line x1="117.53" y1="197.64" x2="120.33" y2="197.64" stroke="#111" stroke-width="0.8"/>
<line x1="118.93" y1="262.7" x2="118.93" y2="265.3" stroke="#111" stroke-width="0.8"/>
<text transform="translate(120.93,269.8) rotate(-90)" font-size="6.2" fill="#222" stroke="#222" stroke-width="0.22" text-anchor="end" font-family="Liberation Sans, sans-serif">PHL3</text>
<line x1="50.8" y1="262.7" x2="121.93" y2="262.7" stroke="#111" stroke-width="1.1"/>
<text x="148.2" y="181.6" font-size="8.6" font-weight="bold" fill="#111" text-anchor="start" textLength="32.9" lengthAdjust="spacingAndGlyphs" font-family="Liberation Sans, sans-serif">p4EBP1</text>
<line x1="148.9" y1="188.2" x2="148.9" y2="263.2" stroke="#111" stroke-width="1.1"/>
<line x1="145.6" y1="262.70" x2="148.9" y2="262.70" stroke="#111" stroke-width="0.9"/>
<text x="143.0" y="264.80" font-size="6.2" fill="#333" stroke="#333" stroke-width="0.22" text-anchor="end" font-family="Liberation Sans, sans-serif">0</text>
<line x1="145.6" y1="248.48" x2="148.9" y2="248.48" stroke="#111" stroke-width="0.9"/>
<text x="143.0" y="250.58" font-size="6.2" fill="#333" stroke="#333" stroke-width="0.22" text-anchor="end" font-family="Liberation Sans, sans-serif">20</text>
<line x1="145.6" y1="234.26" x2="148.9" y2="234.26" stroke="#111" stroke-width="0.9"/>
<text x="143.0" y="236.36" font-size="6.2" fill="#333" stroke="#333" stroke-width="0.22" text-anchor="end" font-family="Liberation Sans, sans-serif">40</text>
<line x1="145.6" y1="220.04" x2="148.9" y2="220.04" stroke="#111" stroke-width="0.9"/>
<text x="143.0" y="222.14" font-size="6.2" fill="#333" stroke="#333" stroke-width="0.22" text-anchor="end" font-family="Liberation Sans, sans-serif">60</text>
<line x1="145.6" y1="205.82" x2="148.9" y2="205.82" stroke="#111" stroke-width="0.9"/>
<text x="143.0" y="207.92" font-size="6.2" fill="#333" stroke="#333" stroke-width="0.22" text-anchor="end" font-family="Liberation Sans, sans-serif">80</text>
<line x1="145.6" y1="191.60" x2="148.9" y2="191.60" stroke="#111" stroke-width="0.9"/>
<text x="143.0" y="193.70" font-size="6.2" fill="#333" stroke="#333" stroke-width="0.22" text-anchor="end" font-family="Liberation Sans, sans-serif">100</text>
<rect x="149.80" y="240.66" width="5.2" height="22.04" fill="#1414b2"/>
<line x1="152.40" y1="239.95" x2="152.40" y2="241.66" stroke="#111" stroke-width="0.8"/>
<line x1="151.00" y1="239.95" x2="153.80" y2="239.95" stroke="#111" stroke-width="0.8"/>
<line x1="152.40" y1="262.7" x2="152.40" y2="265.3" stroke="#111" stroke-width="0.8"/>
<text transform="translate(154.40,269.8) rotate(-90)" font-size="6.2" fill="#222" stroke="#222" stroke-width="0.22" text-anchor="end" font-family="Liberation Sans, sans-serif">NH362</text>
<rect x="156.97" y="235.68" width="5.2" height="27.02" fill="#e4901e"/>
<line x1="159.57" y1="233.55" x2="159.57" y2="236.68" stroke="#111" stroke-width="0.8"/>
<line x1="158.17" y1="233.55" x2="160.97" y2="233.55" stroke="#111" stroke-width="0.8"/>
<line x1="159.57" y1="262.7" x2="159.57" y2="265.3" stroke="#111" stroke-width="0.8"/>
<text transform="translate(161.57,269.8) rotate(-90)" font-size="6.2" fill="#222" stroke="#222" stroke-width="0.22" text-anchor="end" font-family="Liberation Sans, sans-serif">JH331</text>
<rect x="164.14" y="244.21" width="5.2" height="18.49" fill="#a80a30"/>
<line x1="166.74" y1="242.08" x2="166.74" y2="245.21" stroke="#111" stroke-width="0.8"/>
<line x1="165.34" y1="242.08" x2="168.14" y2="242.08" stroke="#111" stroke-width="0.8"/>
<line x1="166.74" y1="262.7" x2="166.74" y2="265.3" stroke="#111" stroke-width="0.8"/>
<text transform="translate(168.74,269.8) rotate(-90)" font-size="6.2" fill="#222" stroke="#222" stroke-width="0.22" text-anchor="end" font-family="Liberation Sans, sans-serif">JH612</text>
<rect x="171.31" y="207.24" width="5.2" height="55.46" fill="#d0128a"/>
<line x1="173.91" y1="206.53" x2="173.91" y2="208.24" stroke="#111" stroke-width="0.8"/>
<line x1="172.51" y1="206.53" x2="175.31" y2="206.53" stroke="#111" stroke-width="0.8"/>
<line x1="173.91" y1="262.7" x2="173.91" y2="265.3" stroke="#111" stroke-width="0.8"/>
<text transform="translate(175.91,269.8) rotate(-90)" font-size="6.2" fill="#222" stroke="#222" stroke-width="0.22" text-anchor="end" font-family="Liberation Sans, sans-serif">ALL121</text>
<rect x="178.48" y="192.31" width="5.2" height="70.39" fill="#ecc020"/>
<line x1="181.08" y1="191.96" x2="181.08" y2="193.31" stroke="#111" stroke-width="0.8"/>
<line x1="179.68" y1="191.96" x2="182.48" y2="191.96" stroke="#111" stroke-width="0.8"/>
<line x1="181.08" y1="262.7" x2="181.08" y2="265.3" stroke="#111" stroke-width="0.8"/>
<text transform="translate(183.08,269.8) rotate(-90)" font-size="6.2" fill="#222" stroke="#222" stroke-width="0.22" text-anchor="end" font-family="Liberation Sans, sans-serif">ALL4364</text>
<rect x="185.65" y="250.61" width="5.2" height="12.09" fill="#bcd9a4"/>
<line x1="188.25" y1="249.19" x2="188.25" y2="251.61" stroke="#111" stroke-width="0.8"/>
<line x1="186.85" y1="249.19" x2="189.65" y2="249.19" stroke="#111" stroke-width="0.8"/>
<line x1="188.25" y1="262.7" x2="188.25" y2="265.3" stroke="#111" stroke-width="0.8"/>
<text transform="translate(190.25,269.8) rotate(-90)" font-size="6.2" fill="#222" stroke="#222" stroke-width="0.22" text-anchor="end" font-family="Liberation Sans, sans-serif">JL491</text>
<rect x="192.82" y="234.26" width="5.2" height="28.44" fill="#5ca640"/>
<line x1="195.42" y1="233.55" x2="195.42" y2="235.26" stroke="#111" stroke-width="0.8"/>
<line x1="194.02" y1="233.55" x2="196.82" y2="233.55" stroke="#111" stroke-width="0.8"/>
<line x1="195.42" y1="262.7" x2="195.42" y2="265.3" stroke="#111" stroke-width="0.8"/>
<text transform="translate(197.42,269.8) rotate(-90)" font-size="6.2" fill="#222" stroke="#222" stroke-width="0.22" text-anchor="end" font-family="Liberation Sans, sans-serif">NL482A</text>
<rect x="199.99" y="252.75" width="5.2" height="9.95" fill="#bed8f0"/>
<line x1="202.59" y1="251.68" x2="202.59" y2="253.75" stroke="#111" stroke-width="0.8"/>
<line x1="201.19" y1="251.68" x2="203.99" y2="251.68" stroke="#111" stroke-width="0.8"/>
<line x1="202.59" y1="262.7" x2="202.59" y2="265.3" stroke="#111" stroke-width="0.8"/>
<text transform="translate(204.59,269.8) rotate(-90)" font-size="6.2" fill="#222" stroke="#222" stroke-width="0.22" text-anchor="end" font-family="Liberation Sans, sans-serif">NL432</text>
<rect x="207.16" y="243.86" width="5.2" height="18.84" fill="#5c9fe0"/>
<line x1="209.76" y1="242.44" x2="209.76" y2="244.86" stroke="#111" stroke-width="0.8"/>
<line x1="208.36" y1="242.44" x2="211.16" y2="242.44" stroke="#111" stroke-width="0.8"/>
<line x1="209.76" y1="262.7" x2="209.76" y2="265.3" stroke="#111" stroke-width="0.8"/>
<text transform="translate(211.76,269.8) rotate(-90)" font-size="6.2" fill="#222" stroke="#222" stroke-width="0.22" text-anchor="end" font-family="Liberation Sans, sans-serif">NH011</text>
<rect x="214.33" y="226.44" width="5.2" height="36.26" fill="#0a0a0a"/>
<line x1="216.93" y1="224.31" x2="216.93" y2="227.44" stroke="#111" stroke-width="0.8"/>
<line x1="215.53" y1="224.31" x2="218.33" y2="224.31" stroke="#111" stroke-width="0.8"/>
<line x1="216.93" y1="262.7" x2="216.93" y2="265.3" stroke="#111" stroke-width="0.8"/>
<text transform="translate(218.93,269.8) rotate(-90)" font-size="6.2" fill="#222" stroke="#222" stroke-width="0.22" text-anchor="end" font-family="Liberation Sans, sans-serif">PHL3</text>
<line x1="148.4" y1="262.7" x2="219.93" y2="262.7" stroke="#111" stroke-width="1.1"/>
<text x="246.2" y="181.6" font-size="8.6" font-weight="bold" fill="#111" text-anchor="start" textLength="41.4" lengthAdjust="spacingAndGlyphs" font-family="Liberation Sans, sans-serif">pAkt S473</text>
<line x1="245.5" y1="188.2" x2="245.5" y2="263.2" stroke="#111" stroke-width="1.1"/>
<line x1="242.2" y1="262.70" x2="245.5" y2="262.70" stroke="#111" stroke-width="0.9"/>
<text x="239.6" y="264.80" font-size="6.2" fill="#333" stroke="#333" stroke-width="0.22" text-anchor="end" font-family="Liberation Sans, sans-serif">0</text>
<line x1="242.2" y1="248.48" x2="245.5" y2="248.48" stroke="#111" stroke-width="0.9"/>
<text x="239.6" y="250.58" font-size="6.2" fill="#333" stroke="#333" stroke-width="0.22" text-anchor="end" font-family="Liberation Sans, sans-serif">20</text>
<line x1="242.2" y1="234.26" x2="245.5" y2="234.26" stroke="#111" stroke-width="0.9"/>
<text x="239.6" y="236.36" font-size="6.2" fill="#333" stroke="#333" stroke-width="0.22" text-anchor="end" font-family="Liberation Sans, sans-serif">40</text>
<line x1="242.2" y1="220.04" x2="245.5" y2="220.04" stroke="#111" stroke-width="0.9"/>
<text x="239.6" y="222.14" font-size="6.2" fill="#333" stroke="#333" stroke-width="0.22" text-anchor="end" font-family="Liberation Sans, sans-serif">60</text>
<line x1="242.2" y1="205.82" x2="245.5" y2="205.82" stroke="#111" stroke-width="0.9"/>
<text x="239.6" y="207.92" font-size="6.2" fill="#333" stroke="#333" stroke-width="0.22" text-anchor="end" font-family="Liberation Sans, sans-serif">80</text>
<line x1="242.2" y1="191.60" x2="245.5" y2="191.60" stroke="#111" stroke-width="0.9"/>
<text x="239.6" y="193.70" font-size="6.2" fill="#333" stroke="#333" stroke-width="0.22" text-anchor="end" font-family="Liberation Sans, sans-serif">100</text>
<rect x="246.80" y="255.87" width="5.2" height="6.83" fill="#1414b2"/>
<line x1="249.40" y1="255.16" x2="249.40" y2="256.87" stroke="#111" stroke-width="0.8"/>
<line x1="248.00" y1="255.16" x2="250.80" y2="255.16" stroke="#111" stroke-width="0.8"/>
<line x1="249.40" y1="262.7" x2="249.40" y2="265.3" stroke="#111" stroke-width="0.8"/>
<text transform="translate(251.40,269.8) rotate(-90)" font-size="6.2" fill="#222" stroke="#222" stroke-width="0.22" text-anchor="end" font-family="Liberation Sans, sans-serif">NH362</text>
<rect x="253.96" y="229.99" width="5.2" height="32.71" fill="#e4901e"/>
<line x1="256.56" y1="227.86" x2="256.56" y2="230.99" stroke="#111" stroke-width="0.8"/>
<line x1="255.16" y1="227.86" x2="257.96" y2="227.86" stroke="#111" stroke-width="0.8"/>
<line x1="256.56" y1="262.7" x2="256.56" y2="265.3" stroke="#111" stroke-width="0.8"/>
<text transform="translate(258.56,269.8) rotate(-90)" font-size="6.2" fill="#222" stroke="#222" stroke-width="0.22" text-anchor="end" font-family="Liberation Sans, sans-serif">JH331</text>
<rect x="261.12" y="260.92" width="5.2" height="1.78" fill="#a80a30"/>
<line x1="263.72" y1="260.21" x2="263.72" y2="261.92" stroke="#111" stroke-width="0.8"/>
<line x1="262.32" y1="260.21" x2="265.12" y2="260.21" stroke="#111" stroke-width="0.8"/>
<line x1="263.72" y1="262.7" x2="263.72" y2="265.3" stroke="#111" stroke-width="0.8"/>
<text transform="translate(265.72,269.8) rotate(-90)" font-size="6.2" fill="#222" stroke="#222" stroke-width="0.22" text-anchor="end" font-family="Liberation Sans, sans-serif">JH612</text>
<rect x="268.28" y="229.99" width="5.2" height="32.71" fill="#d0128a"/>
<line x1="270.88" y1="227.86" x2="270.88" y2="230.99" stroke="#111" stroke-width="0.8"/>
<line x1="269.48" y1="227.86" x2="272.28" y2="227.86" stroke="#111" stroke-width="0.8"/>
<line x1="270.88" y1="262.7" x2="270.88" y2="265.3" stroke="#111" stroke-width="0.8"/>
<text transform="translate(272.88,269.8) rotate(-90)" font-size="6.2" fill="#222" stroke="#222" stroke-width="0.22" text-anchor="end" font-family="Liberation Sans, sans-serif">ALL121</text>
<rect x="275.44" y="193.73" width="5.2" height="68.97" fill="#ecc020"/>
<line x1="278.04" y1="193.38" x2="278.04" y2="194.73" stroke="#111" stroke-width="0.8"/>
<line x1="276.64" y1="193.38" x2="279.44" y2="193.38" stroke="#111" stroke-width="0.8"/>
<line x1="278.04" y1="262.7" x2="278.04" y2="265.3" stroke="#111" stroke-width="0.8"/>
<text transform="translate(280.04,269.8) rotate(-90)" font-size="6.2" fill="#222" stroke="#222" stroke-width="0.22" text-anchor="end" font-family="Liberation Sans, sans-serif">ALL4364</text>
<rect x="282.60" y="197.29" width="5.2" height="65.41" fill="#bcd9a4"/>
<line x1="285.20" y1="196.58" x2="285.20" y2="198.29" stroke="#111" stroke-width="0.8"/>
<line x1="283.80" y1="196.58" x2="286.60" y2="196.58" stroke="#111" stroke-width="0.8"/>
<line x1="285.20" y1="262.7" x2="285.20" y2="265.3" stroke="#111" stroke-width="0.8"/>
<text transform="translate(287.20,269.8) rotate(-90)" font-size="6.2" fill="#222" stroke="#222" stroke-width="0.22" text-anchor="end" font-family="Liberation Sans, sans-serif">JL491</text>
<rect x="289.76" y="257.01" width="5.2" height="5.69" fill="#5ca640"/>
<line x1="292.36" y1="255.59" x2="292.36" y2="258.01" stroke="#111" stroke-width="0.8"/>
<line x1="290.96" y1="255.59" x2="293.76" y2="255.59" stroke="#111" stroke-width="0.8"/>
<line x1="292.36" y1="262.7" x2="292.36" y2="265.3" stroke="#111" stroke-width="0.8"/>
<text transform="translate(294.36,269.8) rotate(-90)" font-size="6.2" fill="#222" stroke="#222" stroke-width="0.22" text-anchor="end" font-family="Liberation Sans, sans-serif">NL482A</text>
<rect x="296.92" y="257.01" width="5.2" height="5.69" fill="#bed8f0"/>
<line x1="299.52" y1="255.59" x2="299.52" y2="258.01" stroke="#111" stroke-width="0.8"/>
<line x1="298.12" y1="255.59" x2="300.92" y2="255.59" stroke="#111" stroke-width="0.8"/>
<line x1="299.52" y1="262.7" x2="299.52" y2="265.3" stroke="#111" stroke-width="0.8"/>
<text transform="translate(301.52,269.8) rotate(-90)" font-size="6.2" fill="#222" stroke="#222" stroke-width="0.22" text-anchor="end" font-family="Liberation Sans, sans-serif">NL432</text>
<rect x="304.08" y="257.01" width="5.2" height="5.69" fill="#5c9fe0"/>
<line x1="306.68" y1="256.30" x2="306.68" y2="258.01" stroke="#111" stroke-width="0.8"/>
<line x1="305.28" y1="256.30" x2="308.08" y2="256.30" stroke="#111" stroke-width="0.8"/>
<line x1="306.68" y1="262.7" x2="306.68" y2="265.3" stroke="#111" stroke-width="0.8"/>
<text transform="translate(308.68,269.8) rotate(-90)" font-size="6.2" fill="#222" stroke="#222" stroke-width="0.22" text-anchor="end" font-family="Liberation Sans, sans-serif">NH011</text>
<rect x="311.24" y="256.30" width="5.2" height="6.40" fill="#0a0a0a"/>
<line x1="313.84" y1="255.59" x2="313.84" y2="257.30" stroke="#111" stroke-width="0.8"/>
<line x1="312.44" y1="255.59" x2="315.24" y2="255.59" stroke="#111" stroke-width="0.8"/>
<line x1="313.84" y1="262.7" x2="313.84" y2="265.3" stroke="#111" stroke-width="0.8"/>
<text transform="translate(315.84,269.8) rotate(-90)" font-size="6.2" fill="#222" stroke="#222" stroke-width="0.22" text-anchor="end" font-family="Liberation Sans, sans-serif">PHL3</text>
<line x1="245.0" y1="262.7" x2="316.84" y2="262.7" stroke="#111" stroke-width="1.1"/>
<text x="343.6" y="181.6" font-size="8.6" font-weight="bold" fill="#111" text-anchor="start" textLength="23.7" lengthAdjust="spacingAndGlyphs" font-family="Liberation Sans, sans-serif">pERK</text>
<line x1="342.7" y1="188.2" x2="342.7" y2="263.2" stroke="#111" stroke-width="1.1"/>
<line x1="339.4" y1="262.70" x2="342.7" y2="262.70" stroke="#111" stroke-width="0.9"/>
<text x="336.8" y="264.80" font-size="6.2" fill="#333" stroke="#333" stroke-width="0.22" text-anchor="end" font-family="Liberation Sans, sans-serif">0</text>
<line x1="339.4" y1="248.48" x2="342.7" y2="248.48" stroke="#111" stroke-width="0.9"/>
<text x="336.8" y="250.58" font-size="6.2" fill="#333" stroke="#333" stroke-width="0.22" text-anchor="end" font-family="Liberation Sans, sans-serif">20</text>
<line x1="339.4" y1="234.26" x2="342.7" y2="234.26" stroke="#111" stroke-width="0.9"/>
<text x="336.8" y="236.36" font-size="6.2" fill="#333" stroke="#333" stroke-width="0.22" text-anchor="end" font-family="Liberation Sans, sans-serif">40</text>
<line x1="339.4" y1="220.04" x2="342.7" y2="220.04" stroke="#111" stroke-width="0.9"/>
<text x="336.8" y="222.14" font-size="6.2" fill="#333" stroke="#333" stroke-width="0.22" text-anchor="end" font-family="Liberation Sans, sans-serif">60</text>
<line x1="339.4" y1="205.82" x2="342.7" y2="205.82" stroke="#111" stroke-width="0.9"/>
<text x="336.8" y="207.92" font-size="6.2" fill="#333" stroke="#333" stroke-width="0.22" text-anchor="end" font-family="Liberation Sans, sans-serif">80</text>
<line x1="339.4" y1="191.60" x2="342.7" y2="191.60" stroke="#111" stroke-width="0.9"/>
<text x="336.8" y="193.70" font-size="6.2" fill="#333" stroke="#333" stroke-width="0.22" text-anchor="end" font-family="Liberation Sans, sans-serif">100</text>
<rect x="344.30" y="221.11" width="5.2" height="41.59" fill="#1414b2"/>
<line x1="346.90" y1="220.40" x2="346.90" y2="222.11" stroke="#111" stroke-width="0.8"/>
<line x1="345.50" y1="220.40" x2="348.30" y2="220.40" stroke="#111" stroke-width="0.8"/>
<line x1="346.90" y1="262.7" x2="346.90" y2="265.3" stroke="#111" stroke-width="0.8"/>
<text transform="translate(348.90,269.8) rotate(-90)" font-size="6.2" fill="#222" stroke="#222" stroke-width="0.22" text-anchor="end" font-family="Liberation Sans, sans-serif">NH362</text>
<rect x="351.47" y="232.13" width="5.2" height="30.57" fill="#e4901e"/>
<line x1="354.07" y1="231.42" x2="354.07" y2="233.13" stroke="#111" stroke-width="0.8"/>
<line x1="352.67" y1="231.42" x2="355.47" y2="231.42" stroke="#111" stroke-width="0.8"/>
<line x1="354.07" y1="262.7" x2="354.07" y2="265.3" stroke="#111" stroke-width="0.8"/>
<text transform="translate(356.07,269.8) rotate(-90)" font-size="6.2" fill="#222" stroke="#222" stroke-width="0.22" text-anchor="end" font-family="Liberation Sans, sans-serif">JH331</text>
<rect x="358.64" y="245.64" width="5.2" height="17.06" fill="#a80a30"/>
<line x1="361.24" y1="244.57" x2="361.24" y2="246.64" stroke="#111" stroke-width="0.8"/>
<line x1="359.84" y1="244.57" x2="362.64" y2="244.57" stroke="#111" stroke-width="0.8"/>
<line x1="361.24" y1="262.7" x2="361.24" y2="265.3" stroke="#111" stroke-width="0.8"/>
<text transform="translate(363.24,269.8) rotate(-90)" font-size="6.2" fill="#222" stroke="#222" stroke-width="0.22" text-anchor="end" font-family="Liberation Sans, sans-serif">JH612</text>
<rect x="365.81" y="232.13" width="5.2" height="30.57" fill="#d0128a"/>
<line x1="368.41" y1="231.42" x2="368.41" y2="233.13" stroke="#111" stroke-width="0.8"/>
<line x1="367.01" y1="231.42" x2="369.81" y2="231.42" stroke="#111" stroke-width="0.8"/>
<line x1="368.41" y1="262.7" x2="368.41" y2="265.3" stroke="#111" stroke-width="0.8"/>
<text transform="translate(370.41,269.8) rotate(-90)" font-size="6.2" fill="#222" stroke="#222" stroke-width="0.22" text-anchor="end" font-family="Liberation Sans, sans-serif">ALL121</text>
<rect x="372.98" y="199.14" width="5.2" height="63.56" fill="#ecc020"/>
<line x1="375.58" y1="198.43" x2="375.58" y2="200.14" stroke="#111" stroke-width="0.8"/>
<line x1="374.18" y1="198.43" x2="376.98" y2="198.43" stroke="#111" stroke-width="0.8"/>
<line x1="375.58" y1="262.7" x2="375.58" y2="265.3" stroke="#111" stroke-width="0.8"/>
<text transform="translate(377.58,269.8) rotate(-90)" font-size="6.2" fill="#222" stroke="#222" stroke-width="0.22" text-anchor="end" font-family="Liberation Sans, sans-serif">ALL4364</text>
<rect x="380.15" y="205.54" width="5.2" height="57.16" fill="#bcd9a4"/>
<line x1="382.75" y1="204.11" x2="382.75" y2="206.54" stroke="#111" stroke-width="0.8"/>
<line x1="381.35" y1="204.11" x2="384.15" y2="204.11" stroke="#111" stroke-width="0.8"/>
<line x1="382.75" y1="262.7" x2="382.75" y2="265.3" stroke="#111" stroke-width="0.8"/>
<text transform="translate(384.75,269.8) rotate(-90)" font-size="6.2" fill="#222" stroke="#222" stroke-width="0.22" text-anchor="end" font-family="Liberation Sans, sans-serif">JL491</text>
<rect x="387.32" y="192.52" width="5.2" height="70.18" fill="#5ca640"/>
<line x1="389.92" y1="192.17" x2="389.92" y2="193.52" stroke="#111" stroke-width="0.8"/>
<line x1="388.52" y1="192.17" x2="391.32" y2="192.17" stroke="#111" stroke-width="0.8"/>
<line x1="389.92" y1="262.7" x2="389.92" y2="265.3" stroke="#111" stroke-width="0.8"/>
<text transform="translate(391.92,269.8) rotate(-90)" font-size="6.2" fill="#222" stroke="#222" stroke-width="0.22" text-anchor="end" font-family="Liberation Sans, sans-serif">NL482A</text>
<rect x="394.49" y="197.71" width="5.2" height="64.99" fill="#bed8f0"/>
<line x1="397.09" y1="196.29" x2="397.09" y2="198.71" stroke="#111" stroke-width="0.8"/>
<line x1="395.69" y1="196.29" x2="398.49" y2="196.29" stroke="#111" stroke-width="0.8"/>
<line x1="397.09" y1="262.7" x2="397.09" y2="265.3" stroke="#111" stroke-width="0.8"/>
<text transform="translate(399.09,269.8) rotate(-90)" font-size="6.2" fill="#222" stroke="#222" stroke-width="0.22" text-anchor="end" font-family="Liberation Sans, sans-serif">NL432</text>
<rect x="401.66" y="204.04" width="5.2" height="58.66" fill="#5c9fe0"/>
<line x1="404.26" y1="203.33" x2="404.26" y2="205.04" stroke="#111" stroke-width="0.8"/>
<line x1="402.86" y1="203.33" x2="405.66" y2="203.33" stroke="#111" stroke-width="0.8"/>
<line x1="404.26" y1="262.7" x2="404.26" y2="265.3" stroke="#111" stroke-width="0.8"/>
<text transform="translate(406.26,269.8) rotate(-90)" font-size="6.2" fill="#222" stroke="#222" stroke-width="0.22" text-anchor="end" font-family="Liberation Sans, sans-serif">NH011</text>
<rect x="408.83" y="217.76" width="5.2" height="44.94" fill="#0a0a0a"/>
<line x1="411.43" y1="216.34" x2="411.43" y2="218.76" stroke="#111" stroke-width="0.8"/>
<line x1="410.03" y1="216.34" x2="412.83" y2="216.34" stroke="#111" stroke-width="0.8"/>
<line x1="411.43" y1="262.7" x2="411.43" y2="265.3" stroke="#111" stroke-width="0.8"/>
<text transform="translate(413.43,269.8) rotate(-90)" font-size="6.2" fill="#222" stroke="#222" stroke-width="0.22" text-anchor="end" font-family="Liberation Sans, sans-serif">PHL3</text>
<line x1="342.2" y1="262.7" x2="414.43" y2="262.7" stroke="#111" stroke-width="1.1"/>
<text x="441.0" y="181.6" font-size="8.6" font-weight="bold" fill="#111" text-anchor="start" textLength="31.9" lengthAdjust="spacingAndGlyphs" font-family="Liberation Sans, sans-serif">pSTAT5</text>
<line x1="440.4" y1="188.2" x2="440.4" y2="263.2" stroke="#111" stroke-width="1.1"/>
<line x1="437.09999999999997" y1="262.70" x2="440.4" y2="262.70" stroke="#111" stroke-width="0.9"/>
<text x="434.5" y="264.80" font-size="6.2" fill="#333" stroke="#333" stroke-width="0.22" text-anchor="end" font-family="Liberation Sans, sans-serif">0</text>
<line x1="437.09999999999997" y1="248.48" x2="440.4" y2="248.48" stroke="#111" stroke-width="0.9"/>
<text x="434.5" y="250.58" font-size="6.2" fill="#333" stroke="#333" stroke-width="0.22" text-anchor="end" font-family="Liberation Sans, sans-serif">20</text>
<line x1="437.09999999999997" y1="234.26" x2="440.4" y2="234.26" stroke="#111" stroke-width="0.9"/>
<text x="434.5" y="236.36" font-size="6.2" fill="#333" stroke="#333" stroke-width="0.22" text-anchor="end" font-family="Liberation Sans, sans-serif">40</text>
<line x1="437.09999999999997" y1="220.04" x2="440.4" y2="220.04" stroke="#111" stroke-width="0.9"/>
<text x="434.5" y="222.14" font-size="6.2" fill="#333" stroke="#333" stroke-width="0.22" text-anchor="end" font-family="Liberation Sans, sans-serif">60</text>
<line x1="437.09999999999997" y1="205.82" x2="440.4" y2="205.82" stroke="#111" stroke-width="0.9"/>
<text x="434.5" y="207.92" font-size="6.2" fill="#333" stroke="#333" stroke-width="0.22" text-anchor="end" font-family="Liberation Sans, sans-serif">80</text>
<line x1="437.09999999999997" y1="191.60" x2="440.4" y2="191.60" stroke="#111" stroke-width="0.9"/>
<text x="434.5" y="193.70" font-size="6.2" fill="#333" stroke="#333" stroke-width="0.22" text-anchor="end" font-family="Liberation Sans, sans-serif">100</text>
<rect x="441.50" y="207.24" width="5.2" height="55.46" fill="#1414b2"/>
<line x1="444.10" y1="206.89" x2="444.10" y2="208.24" stroke="#111" stroke-width="0.8"/>
<line x1="442.70" y1="206.89" x2="445.50" y2="206.89" stroke="#111" stroke-width="0.8"/>
<line x1="444.10" y1="262.7" x2="444.10" y2="265.3" stroke="#111" stroke-width="0.8"/>
<text transform="translate(446.10,269.8) rotate(-90)" font-size="6.2" fill="#222" stroke="#222" stroke-width="0.22" text-anchor="end" font-family="Liberation Sans, sans-serif">NH362</text>
<rect x="448.67" y="197.29" width="5.2" height="65.41" fill="#e4901e"/>
<line x1="451.27" y1="195.51" x2="451.27" y2="198.29" stroke="#111" stroke-width="0.8"/>
<line x1="449.87" y1="195.51" x2="452.67" y2="195.51" stroke="#111" stroke-width="0.8"/>
<line x1="451.27" y1="262.7" x2="451.27" y2="265.3" stroke="#111" stroke-width="0.8"/>
<text transform="translate(453.27,269.8) rotate(-90)" font-size="6.2" fill="#222" stroke="#222" stroke-width="0.22" text-anchor="end" font-family="Liberation Sans, sans-serif">JH331</text>
<rect x="455.84" y="201.55" width="5.2" height="61.15" fill="#a80a30"/>
<line x1="458.44" y1="200.84" x2="458.44" y2="202.55" stroke="#111" stroke-width="0.8"/>
<line x1="457.04" y1="200.84" x2="459.84" y2="200.84" stroke="#111" stroke-width="0.8"/>
<line x1="458.44" y1="262.7" x2="458.44" y2="265.3" stroke="#111" stroke-width="0.8"/>
<text transform="translate(460.44,269.8) rotate(-90)" font-size="6.2" fill="#222" stroke="#222" stroke-width="0.22" text-anchor="end" font-family="Liberation Sans, sans-serif">JH612</text>
<rect x="463.01" y="197.29" width="5.2" height="65.41" fill="#d0128a"/>
<line x1="465.61" y1="195.51" x2="465.61" y2="198.29" stroke="#111" stroke-width="0.8"/>
<line x1="464.21" y1="195.51" x2="467.01" y2="195.51" stroke="#111" stroke-width="0.8"/>
<line x1="465.61" y1="262.7" x2="465.61" y2="265.3" stroke="#111" stroke-width="0.8"/>
<text transform="translate(467.61,269.8) rotate(-90)" font-size="6.2" fill="#222" stroke="#222" stroke-width="0.22" text-anchor="end" font-family="Liberation Sans, sans-serif">ALL121</text>
<rect x="470.18" y="192.52" width="5.2" height="70.18" fill="#ecc020"/>
<line x1="472.78" y1="191.81" x2="472.78" y2="193.52" stroke="#111" stroke-width="0.8"/>
<line x1="471.38" y1="191.81" x2="474.18" y2="191.81" stroke="#111" stroke-width="0.8"/>
<line x1="472.78" y1="262.7" x2="472.78" y2="265.3" stroke="#111" stroke-width="0.8"/>
<text transform="translate(474.78,269.8) rotate(-90)" font-size="6.2" fill="#222" stroke="#222" stroke-width="0.22" text-anchor="end" font-family="Liberation Sans, sans-serif">ALL4364</text>
<rect x="477.35" y="217.20" width="5.2" height="45.50" fill="#bcd9a4"/>
<line x1="479.95" y1="215.42" x2="479.95" y2="218.20" stroke="#111" stroke-width="0.8"/>
<line x1="478.55" y1="215.42" x2="481.35" y2="215.42" stroke="#111" stroke-width="0.8"/>
<line x1="479.95" y1="262.7" x2="479.95" y2="265.3" stroke="#111" stroke-width="0.8"/>
<text transform="translate(481.95,269.8) rotate(-90)" font-size="6.2" fill="#222" stroke="#222" stroke-width="0.22" text-anchor="end" font-family="Liberation Sans, sans-serif">JL491</text>
<rect x="484.52" y="193.02" width="5.2" height="69.68" fill="#5ca640"/>
<line x1="487.12" y1="192.67" x2="487.12" y2="194.02" stroke="#111" stroke-width="0.8"/>
<line x1="485.72" y1="192.67" x2="488.52" y2="192.67" stroke="#111" stroke-width="0.8"/>
<line x1="487.12" y1="262.7" x2="487.12" y2="265.3" stroke="#111" stroke-width="0.8"/>
<text transform="translate(489.12,269.8) rotate(-90)" font-size="6.2" fill="#222" stroke="#222" stroke-width="0.22" text-anchor="end" font-family="Liberation Sans, sans-serif">NL482A</text>
<rect x="491.69" y="195.87" width="5.2" height="66.83" fill="#bed8f0"/>
<line x1="494.29" y1="195.15" x2="494.29" y2="196.87" stroke="#111" stroke-width="0.8"/>
<line x1="492.89" y1="195.15" x2="495.69" y2="195.15" stroke="#111" stroke-width="0.8"/>
<line x1="494.29" y1="262.7" x2="494.29" y2="265.3" stroke="#111" stroke-width="0.8"/>
<text transform="translate(496.29,269.8) rotate(-90)" font-size="6.2" fill="#222" stroke="#222" stroke-width="0.22" text-anchor="end" font-family="Liberation Sans, sans-serif">NL432</text>
<rect x="498.86" y="195.15" width="5.2" height="67.55" fill="#5c9fe0"/>
<line x1="501.46" y1="194.09" x2="501.46" y2="196.15" stroke="#111" stroke-width="0.8"/>
<line x1="500.06" y1="194.09" x2="502.86" y2="194.09" stroke="#111" stroke-width="0.8"/>
<line x1="501.46" y1="262.7" x2="501.46" y2="265.3" stroke="#111" stroke-width="0.8"/>
<text transform="translate(503.46,269.8) rotate(-90)" font-size="6.2" fill="#222" stroke="#222" stroke-width="0.22" text-anchor="end" font-family="Liberation Sans, sans-serif">NH011</text>
<rect x="506.03" y="197.29" width="5.2" height="65.41" fill="#0a0a0a"/>
<line x1="508.63" y1="196.22" x2="508.63" y2="198.29" stroke="#111" stroke-width="0.8"/>
<line x1="507.23" y1="196.22" x2="510.03" y2="196.22" stroke="#111" stroke-width="0.8"/>
<line x1="508.63" y1="262.7" x2="508.63" y2="265.3" stroke="#111" stroke-width="0.8"/>
<text transform="translate(510.63,269.8) rotate(-90)" font-size="6.2" fill="#222" stroke="#222" stroke-width="0.22" text-anchor="end" font-family="Liberation Sans, sans-serif">PHL3</text>
<line x1="439.9" y1="262.7" x2="511.63" y2="262.7" stroke="#111" stroke-width="1.1"/>
<text transform="translate(18.2,225) rotate(-90)" font-size="7.6" fill="#222" stroke="#222" stroke-width="0.22" text-anchor="middle" textLength="72.7" lengthAdjust="spacingAndGlyphs" font-family="Liberation Sans, sans-serif">Basal phosphoprotein</text>
<text transform="translate(27.1,225.8) rotate(-90)" font-size="7.6" fill="#222" stroke="#222" stroke-width="0.22" text-anchor="middle" textLength="65.5" lengthAdjust="spacingAndGlyphs" font-family="Liberation Sans, sans-serif">activation (%FMO+)</text></svg>
</body></html>
